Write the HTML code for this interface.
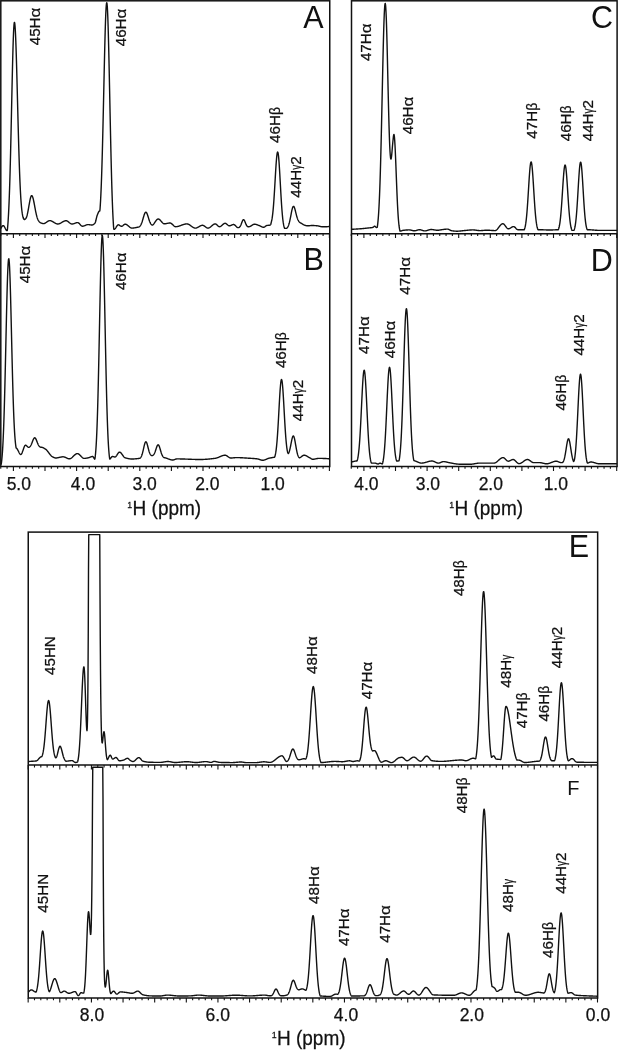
<!DOCTYPE html><html><head><meta charset="utf-8"><title>NMR spectra</title><style>html,body{margin:0;padding:0;background:#fff;width:618px;height:1050px;overflow:hidden}svg{display:block;filter:grayscale(1)}text{font-family:"Liberation Sans",sans-serif}</style></head><body><svg width="618" height="1050" viewBox="0 0 618 1050"><rect width="618" height="1050" fill="#fff"/><polyline points="0.80,228.60 1.05,228.06 1.30,227.56 1.55,227.12 1.80,226.73 2.05,226.39 2.30,226.11 2.55,225.89 2.80,225.73 3.05,225.63 3.30,225.60 3.55,225.67 3.80,225.86 4.05,226.16 4.30,226.54 4.55,226.99 4.80,227.48 5.05,228.00 5.30,228.51 5.55,229.02 5.80,229.48 6.05,229.90 6.30,230.23 6.55,230.47 6.80,230.59 7.05,230.58 7.30,230.41 7.55,228.08 7.80,225.27 8.05,221.94 8.30,218.06 8.55,213.62 8.80,208.58 9.05,202.93 9.30,196.59 9.55,189.51 9.80,181.68 10.05,173.11 10.30,163.83 10.55,153.90 10.80,143.39 11.05,132.40 11.30,121.06 11.55,109.51 11.80,97.93 12.05,86.51 12.30,75.43 12.55,64.91 12.80,55.15 13.05,46.36 13.30,38.71 13.55,32.37 13.80,27.49 14.05,24.18 14.30,22.50 14.55,22.44 14.80,23.72 15.05,26.29 15.30,30.09 15.55,35.06 15.80,41.09 16.05,48.07 16.30,55.87 16.55,64.36 16.80,73.39 17.05,82.82 17.30,92.49 17.55,102.28 17.80,112.05 18.05,121.67 18.30,131.04 18.55,140.07 18.80,148.67 19.05,156.80 19.30,164.39 19.55,171.41 19.80,177.86 20.05,183.73 20.30,189.01 20.55,193.74 20.80,197.92 21.05,201.60 21.30,204.81 21.55,207.59 21.80,209.97 22.05,212.00 22.30,213.71 22.55,215.14 22.80,216.33 23.05,217.32 23.30,218.10 23.55,218.66 23.80,219.08 24.05,219.37 24.30,219.54 24.55,219.60 24.80,219.48 25.05,219.22 25.30,218.98 25.55,218.74 25.80,218.47 26.05,218.13 26.30,217.69 26.55,217.12 26.80,216.40 27.05,215.49 27.30,214.47 27.55,213.34 27.80,212.14 28.05,210.85 28.30,209.50 28.55,208.10 28.80,206.66 29.05,205.22 29.30,203.79 29.55,202.40 29.80,201.08 30.05,199.84 30.30,198.72 30.55,197.75 30.80,196.93 31.05,196.30 31.30,195.86 31.55,195.64 31.80,195.62 32.05,195.79 32.30,196.15 32.55,196.68 32.80,197.37 33.05,198.22 33.30,199.20 33.55,200.30 33.80,201.49 34.05,202.76 34.30,204.08 34.55,205.43 34.80,206.80 35.05,208.15 35.30,209.49 35.55,210.78 35.80,212.03 36.05,213.20 36.30,214.31 36.55,215.34 36.80,216.29 37.05,217.16 37.30,217.95 37.55,218.65 37.80,219.28 38.05,219.84 38.30,220.32 38.55,220.75 38.80,221.12 39.05,221.43 39.30,221.72 39.55,221.97 39.80,222.20 40.05,222.41 40.30,222.60 40.55,222.78 40.80,222.94 41.05,223.03 41.30,223.11 41.55,223.20 41.80,223.28 42.05,223.36 42.30,223.43 42.55,223.49 42.80,223.54 43.05,223.57 43.30,223.59 43.55,223.60 43.80,223.58 44.05,223.54 44.30,223.47 44.55,223.38 44.80,223.27 45.05,223.14 45.30,223.01 45.55,222.85 45.80,222.69 46.05,222.52 46.30,222.35 46.55,222.17 46.80,221.99 47.05,221.82 47.30,221.64 47.55,221.47 47.80,221.32 48.05,221.17 48.30,221.03 48.55,220.91 48.80,220.80 49.05,220.72 49.30,220.65 49.55,220.61 49.80,220.60 50.05,220.61 50.30,220.64 50.55,220.68 50.80,220.75 51.05,220.82 51.30,220.91 51.55,221.02 51.80,221.13 52.05,221.26 52.30,221.39 52.55,221.53 52.80,221.68 53.05,221.83 53.30,221.98 53.55,222.14 53.80,222.30 54.05,222.46 54.30,222.62 54.55,222.77 54.80,222.92 55.05,223.07 55.30,223.21 55.55,223.34 55.80,223.47 56.05,223.58 56.30,223.69 56.55,223.78 56.80,223.85 57.05,223.92 57.30,223.96 57.55,223.99 57.80,224.00 58.05,223.99 58.30,223.96 58.55,223.92 58.80,223.86 59.05,223.79 59.30,223.71 59.55,223.61 59.80,223.51 60.05,223.39 60.30,223.27 60.55,223.14 60.80,223.00 61.05,222.86 61.30,222.71 61.55,222.56 61.80,222.41 62.05,222.26 62.30,222.11 62.55,221.96 62.80,221.82 63.05,221.67 63.30,221.54 63.55,221.41 63.80,221.29 64.05,221.17 64.30,221.07 64.55,220.97 64.80,220.89 65.05,220.82 65.30,220.77 65.55,220.73 65.80,220.71 66.05,220.70 66.30,220.72 66.55,220.78 66.80,220.86 67.05,220.97 67.30,221.10 67.55,221.25 67.80,221.41 68.05,221.59 68.30,221.78 68.55,221.98 68.80,222.19 69.05,222.39 69.30,222.60 69.55,222.80 69.80,222.99 70.05,223.18 70.30,223.36 70.55,223.51 70.80,223.66 71.05,223.78 71.30,223.88 71.55,223.95 71.80,223.99 72.05,224.00 72.30,223.99 72.55,223.96 72.80,223.92 73.05,223.87 73.30,223.81 73.55,223.74 73.80,223.66 74.05,223.57 74.30,223.49 74.55,223.39 74.80,223.30 75.05,223.21 75.30,223.11 75.55,223.03 75.80,222.94 76.05,222.86 76.30,222.79 76.55,222.73 76.80,222.68 77.05,222.64 77.30,222.61 77.55,222.60 77.80,222.62 78.05,222.69 78.30,222.80 78.55,222.95 78.80,223.14 79.05,223.36 79.30,223.60 79.55,223.86 79.80,224.13 80.05,224.40 80.30,224.67 80.55,224.94 80.80,225.20 81.05,225.44 81.30,225.66 81.55,225.85 81.80,226.00 82.05,226.11 82.30,226.18 82.55,226.20 82.80,226.19 83.05,226.16 83.30,226.11 83.55,226.05 83.80,225.97 84.05,225.89 84.30,225.80 84.55,225.70 84.80,225.59 85.05,225.49 85.30,225.38 85.55,225.27 85.80,225.16 86.05,225.06 86.30,224.96 86.55,224.87 86.80,224.80 87.05,224.73 87.30,224.67 87.55,224.63 87.80,224.61 88.05,224.60 88.30,224.61 88.55,224.62 88.80,224.64 89.05,224.67 89.30,224.70 89.55,224.73 89.80,224.77 90.05,224.81 90.30,224.84 90.55,224.88 90.80,224.91 91.05,224.94 91.30,224.97 91.55,224.99 91.80,225.00 92.05,225.00 92.30,224.98 92.55,224.92 92.80,224.83 93.05,224.71 93.30,224.57 93.55,224.40 93.80,224.20 94.05,223.99 94.30,223.75 94.55,223.50 94.80,223.23 95.05,222.94 95.30,222.44 95.55,221.71 95.80,220.80 96.05,219.77 96.30,218.68 96.55,217.60 96.80,216.58 97.05,215.70 97.30,215.00 97.55,214.41 97.80,213.80 98.05,213.21 98.30,212.65 98.55,212.14 98.80,211.69 99.05,211.34 99.30,211.11 99.55,211.00 99.80,211.01 100.05,208.82 100.30,205.14 100.55,200.92 100.80,196.10 101.05,190.65 101.30,184.54 101.55,177.75 101.80,170.25 102.05,162.06 102.30,153.19 102.55,143.69 102.80,133.61 103.05,123.03 103.30,112.05 103.55,100.80 103.80,89.40 104.05,78.02 104.30,66.82 104.55,55.98 104.80,45.69 105.05,36.12 105.30,27.46 105.55,19.88 105.80,13.53 106.05,8.54 106.30,5.03 106.55,3.06 106.80,2.70 107.05,3.95 107.30,6.80 107.55,11.20 107.80,17.07 108.05,24.29 108.30,32.73 108.55,42.24 108.80,52.64 109.05,63.76 109.30,75.40 109.55,87.39 109.80,99.53 110.05,111.67 110.30,123.65 110.55,135.32 110.80,146.56 111.05,157.27 111.30,167.37 111.55,176.81 111.80,185.53 112.05,193.52 112.30,200.78 112.55,207.30 112.80,213.12 113.05,218.26 113.30,222.79 113.55,226.75 113.80,229.16 114.05,229.28 114.30,229.29 114.55,229.21 114.80,229.04 115.05,228.80 115.30,228.50 115.55,228.16 115.80,227.78 116.05,227.38 116.30,226.97 116.55,226.56 116.80,226.17 117.05,225.80 117.30,225.47 117.55,225.20 117.80,224.98 118.05,224.85 118.30,224.80 118.55,224.83 118.80,224.90 119.05,225.01 119.30,225.15 119.55,225.31 119.80,225.48 120.05,225.66 120.30,225.83 120.55,225.98 120.80,226.12 121.05,226.22 121.30,226.28 121.55,226.30 121.80,226.26 122.05,226.17 122.30,226.05 122.55,225.89 122.80,225.70 123.05,225.50 123.30,225.29 123.55,225.08 123.80,224.87 124.05,224.68 124.30,224.51 124.55,224.37 124.80,224.27 125.05,224.21 125.30,224.20 125.55,224.23 125.80,224.29 126.05,224.37 126.30,224.47 126.55,224.60 126.80,224.75 127.05,224.91 127.30,225.09 127.55,225.28 127.80,225.47 128.05,225.68 128.30,225.89 128.55,226.11 128.80,226.32 129.05,226.53 129.30,226.74 129.55,226.95 129.80,227.14 130.05,227.32 130.30,227.49 130.55,227.64 130.80,227.78 131.05,227.89 131.30,227.98 131.55,228.05 131.80,228.09 132.05,228.10 132.30,228.10 132.55,228.09 132.80,228.07 133.05,228.05 133.30,228.03 133.55,228.00 133.80,227.97 134.05,227.93 134.30,227.89 134.55,227.85 134.80,227.81 135.05,227.76 135.30,227.71 135.55,227.66 135.80,227.61 136.05,227.56 136.30,227.51 136.55,227.45 136.80,227.40 137.05,227.35 137.30,227.30 137.55,227.25 137.80,227.20 138.05,227.15 138.30,227.11 138.55,227.07 138.80,227.03 139.05,226.93 139.30,226.76 139.55,226.55 139.80,226.32 140.05,226.04 140.30,225.72 140.55,225.35 140.80,224.93 141.05,224.45 141.30,223.91 141.55,223.31 141.80,222.66 142.05,221.95 142.30,221.18 142.55,220.38 142.80,219.54 143.05,218.68 143.30,217.81 143.55,216.94 143.80,216.10 144.05,215.31 144.30,214.56 144.55,213.90 144.80,213.33 145.05,212.86 145.30,212.51 145.55,212.29 145.80,212.20 146.05,212.24 146.30,212.42 146.55,212.72 146.80,213.14 147.05,213.67 147.30,214.28 147.55,214.98 147.80,215.72 148.05,216.51 148.30,217.32 148.55,218.14 148.80,218.95 149.05,219.73 149.30,220.47 149.55,221.17 149.80,221.82 150.05,222.41 150.30,222.94 150.55,223.40 150.80,223.81 151.05,224.15 151.30,224.44 151.55,224.68 151.80,224.87 152.05,225.01 152.30,225.09 152.55,225.08 152.80,224.96 153.05,224.74 153.30,224.48 153.55,224.19 153.80,223.88 154.05,223.54 154.30,223.19 154.55,222.83 154.80,222.46 155.05,222.09 155.30,221.72 155.55,221.35 155.80,221.00 156.05,220.66 156.30,220.34 156.55,220.04 156.80,219.77 157.05,219.54 157.30,219.34 157.55,219.18 157.80,219.07 158.05,219.01 158.30,219.00 158.55,219.05 158.80,219.13 159.05,219.25 159.30,219.41 159.55,219.60 159.80,219.82 160.05,220.06 160.30,220.31 160.55,220.59 160.80,220.87 161.05,221.16 161.30,221.46 161.55,221.75 161.80,222.04 162.05,222.32 162.30,222.59 162.55,222.84 162.80,223.07 163.05,223.28 163.30,223.46 163.55,223.60 163.80,223.71 164.05,223.78 164.30,223.80 164.55,223.80 164.80,223.78 165.05,223.76 165.30,223.73 165.55,223.70 165.80,223.66 166.05,223.62 166.30,223.57 166.55,223.52 166.80,223.47 167.05,223.42 167.30,223.37 167.55,223.32 167.80,223.27 168.05,223.22 168.30,223.17 168.55,223.13 168.80,223.09 169.05,223.06 169.30,223.03 169.55,223.01 169.80,223.00 170.05,223.00 170.30,223.03 170.55,223.10 170.80,223.20 171.05,223.34 171.30,223.51 171.55,223.69 171.80,223.90 172.05,224.12 172.30,224.36 172.55,224.60 172.80,224.85 173.05,225.10 173.30,225.34 173.55,225.58 173.80,225.80 174.05,226.01 174.30,226.19 174.55,226.36 174.80,226.50 175.05,226.60 175.30,226.67 175.55,226.70 175.80,226.70 176.05,226.69 176.30,226.67 176.55,226.64 176.80,226.61 177.05,226.57 177.30,226.53 177.55,226.48 177.80,226.42 178.05,226.36 178.30,226.30 178.55,226.23 178.80,226.15 179.05,226.08 179.30,226.00 179.55,225.91 179.80,225.83 180.05,225.74 180.30,225.65 180.55,225.56 180.80,225.47 181.05,225.37 181.30,225.28 181.55,225.19 181.80,225.10 182.05,225.00 182.30,224.91 182.55,224.83 182.80,224.74 183.05,224.65 183.30,224.57 183.55,224.49 183.80,224.42 184.05,224.34 184.30,224.28 184.55,224.21 184.80,224.15 185.05,224.10 185.30,224.05 185.55,224.01 185.80,223.97 186.05,223.95 186.30,223.92 186.55,223.91 186.80,223.90 187.05,223.90 187.30,223.93 187.55,223.97 187.80,224.03 188.05,224.11 188.30,224.20 188.55,224.31 188.80,224.44 189.05,224.57 189.30,224.72 189.55,224.87 189.80,225.03 190.05,225.20 190.30,225.38 190.55,225.56 190.80,225.74 191.05,225.93 191.30,226.11 191.55,226.30 191.80,226.48 192.05,226.66 192.30,226.83 192.55,227.00 192.80,227.16 193.05,227.31 193.30,227.46 193.55,227.59 193.80,227.71 194.05,227.82 194.30,227.91 194.55,227.98 194.80,228.04 195.05,228.08 195.30,228.10 195.55,228.10 195.80,228.07 196.05,228.03 196.30,227.98 196.55,227.90 196.80,227.82 197.05,227.72 197.30,227.61 197.55,227.49 197.80,227.36 198.05,227.22 198.30,227.08 198.55,226.94 198.80,226.79 199.05,226.64 199.30,226.49 199.55,226.35 199.80,226.21 200.05,226.07 200.30,225.94 200.55,225.82 200.80,225.70 201.05,225.60 201.30,225.51 201.55,225.44 201.80,225.38 202.05,225.33 202.30,225.31 202.55,225.30 202.80,225.32 203.05,225.38 203.30,225.46 203.55,225.57 203.80,225.70 204.05,225.84 204.30,226.00 204.55,226.18 204.80,226.36 205.05,226.55 205.30,226.74 205.55,226.93 205.80,227.11 206.05,227.29 206.30,227.46 206.55,227.62 206.80,227.76 207.05,227.88 207.30,227.98 207.55,228.05 207.80,228.09 208.05,228.10 208.30,228.08 208.55,228.03 208.80,227.96 209.05,227.86 209.30,227.74 209.55,227.60 209.80,227.44 210.05,227.27 210.30,227.09 210.55,226.89 210.80,226.69 211.05,226.48 211.30,226.26 211.55,226.04 211.80,225.83 212.05,225.61 212.30,225.40 212.55,225.19 212.80,224.99 213.05,224.80 213.30,224.62 213.55,224.46 213.80,224.31 214.05,224.19 214.30,224.08 214.55,224.00 214.80,223.94 215.05,223.91 215.30,223.90 215.55,223.95 215.80,224.05 216.05,224.18 216.30,224.36 216.55,224.55 216.80,224.77 217.05,225.01 217.30,225.25 217.55,225.49 217.80,225.73 218.05,225.96 218.30,226.17 218.55,226.35 218.80,226.50 219.05,226.61 219.30,226.68 219.55,226.70 219.80,226.67 220.05,226.61 220.30,226.51 220.55,226.39 220.80,226.24 221.05,226.06 221.30,225.87 221.55,225.67 221.80,225.45 222.05,225.23 222.30,225.00 222.55,224.77 222.80,224.55 223.05,224.33 223.30,224.13 223.55,223.94 223.80,223.76 224.05,223.61 224.30,223.49 224.55,223.39 224.80,223.33 225.05,223.30 225.30,223.32 225.55,223.38 225.80,223.48 226.05,223.61 226.30,223.78 226.55,223.96 226.80,224.16 227.05,224.38 227.30,224.59 227.55,224.81 227.80,225.02 228.05,225.22 228.30,225.39 228.55,225.55 228.80,225.67 229.05,225.75 229.30,225.80 229.55,225.80 229.80,225.77 230.05,225.72 230.30,225.65 230.55,225.56 230.80,225.46 231.05,225.36 231.30,225.24 231.55,225.13 231.80,225.01 232.05,224.90 232.30,224.80 232.55,224.70 232.80,224.62 233.05,224.56 233.30,224.52 233.55,224.50 233.80,224.52 234.05,224.59 234.30,224.72 234.55,224.89 234.80,225.09 235.05,225.32 235.30,225.57 235.55,225.83 235.80,226.10 236.05,226.37 236.30,226.63 236.55,226.88 236.80,227.10 237.05,227.28 237.30,227.44 237.55,227.54 237.80,227.60 238.05,227.60 238.30,227.60 238.55,227.60 238.80,227.57 239.05,227.45 239.30,227.30 239.55,227.10 239.80,226.84 240.05,226.53 240.30,226.15 240.55,225.70 240.80,225.18 241.05,224.59 241.30,223.96 241.55,223.29 241.80,222.60 242.05,221.92 242.30,221.28 242.55,220.71 242.80,220.24 243.05,219.88 243.30,219.67 243.55,219.60 243.80,219.69 244.05,219.92 244.30,220.28 244.55,220.76 244.80,221.32 245.05,221.94 245.30,222.58 245.55,223.23 245.80,223.84 246.05,224.42 246.30,224.94 246.55,225.39 246.80,225.78 247.05,226.09 247.30,226.34 247.55,226.53 247.80,226.68 248.05,226.78 248.30,226.83 248.55,226.79 248.80,226.76 249.05,226.72 249.30,226.68 249.55,226.62 249.80,226.54 250.05,226.44 250.30,226.32 250.55,226.18 250.80,226.04 251.05,225.88 251.30,225.72 251.55,225.55 251.80,225.38 252.05,225.22 252.30,225.06 252.55,224.90 252.80,224.75 253.05,224.62 253.30,224.50 253.55,224.39 253.80,224.31 254.05,224.25 254.30,224.21 254.55,224.20 254.80,224.21 255.05,224.23 255.30,224.27 255.55,224.32 255.80,224.37 256.05,224.44 256.30,224.51 256.55,224.59 256.80,224.68 257.05,224.77 257.30,224.86 257.55,224.96 257.80,225.06 258.05,225.15 258.30,225.25 258.55,225.34 258.80,225.43 259.05,225.52 259.30,225.61 259.55,225.71 259.80,225.83 260.05,225.95 260.30,226.07 260.55,226.20 260.80,226.33 261.05,226.46 261.30,226.59 261.55,226.71 261.80,226.83 262.05,226.94 262.30,227.04 262.55,227.12 262.80,227.19 263.05,227.25 263.30,227.28 263.55,227.30 263.80,227.28 264.05,227.21 264.30,227.10 264.55,226.96 264.80,226.79 265.05,226.60 265.30,226.40 265.55,226.20 265.80,226.01 266.05,225.84 266.30,225.69 266.55,225.57 266.80,225.50 267.05,225.46 267.30,225.42 267.55,225.39 267.80,225.37 268.05,225.35 268.30,225.33 268.55,225.31 268.80,225.29 269.05,225.27 269.30,225.24 269.55,225.21 269.80,225.17 270.05,225.11 270.30,224.98 270.55,224.66 270.80,224.26 271.05,223.26 271.30,222.19 271.55,221.15 271.80,220.00 272.05,218.64 272.30,217.05 272.55,215.19 272.80,213.05 273.05,210.62 273.30,207.88 273.55,204.85 273.80,201.51 274.05,197.90 274.30,194.04 274.55,189.97 274.80,185.76 275.05,181.46 275.30,177.14 275.55,172.90 275.80,168.82 276.05,165.00 276.30,161.52 276.55,158.48 276.80,155.94 277.05,153.99 277.30,152.68 277.55,152.05 277.80,152.11 278.05,152.87 278.30,154.31 278.55,156.40 278.80,159.08 279.05,162.29 279.30,165.94 279.55,169.95 279.80,174.23 280.05,178.69 280.30,183.22 280.55,187.76 280.80,192.21 281.05,196.52 281.30,200.62 281.55,204.47 281.80,208.04 282.05,211.30 282.30,214.25 282.55,216.88 282.80,219.20 283.05,221.22 283.30,222.96 283.55,224.44 283.80,225.69 284.05,226.73 284.30,227.59 284.55,228.28 284.80,228.39 285.05,228.40 285.30,228.40 285.55,228.39 285.80,228.36 286.05,228.32 286.30,228.28 286.55,228.22 286.80,228.14 287.05,228.00 287.30,227.72 287.55,227.38 287.80,226.99 288.05,226.52 288.30,225.98 288.55,225.35 288.80,224.64 289.05,223.83 289.30,222.93 289.55,221.94 289.80,220.86 290.05,219.69 290.30,218.46 290.55,217.17 290.80,215.85 291.05,214.52 291.30,213.20 291.55,211.92 291.80,210.72 292.05,209.61 292.30,208.63 292.55,207.80 292.80,207.14 293.05,206.67 293.30,206.40 293.55,206.33 293.80,206.46 294.05,206.77 294.30,207.26 294.55,207.91 294.80,208.69 295.05,209.58 295.30,210.54 295.55,211.55 295.80,212.59 296.05,213.62 296.30,214.63 296.55,215.60 296.80,216.51 297.05,217.36 297.30,218.13 297.55,218.82 297.80,219.44 298.05,219.99 298.30,220.46 298.55,220.88 298.80,221.25 299.05,221.60 299.30,221.93 299.55,222.23 299.80,222.43 300.05,222.58 300.30,222.73 300.55,222.89 300.80,223.04 301.05,223.17 301.30,223.31 301.55,223.45 301.80,223.60 302.05,223.77 302.30,223.93 302.55,224.10 302.80,224.26 303.05,224.42 303.30,224.58 303.55,224.72 303.80,224.85 304.05,224.97 304.30,225.07 304.55,225.15 304.80,225.23 305.05,225.31 305.30,225.38 305.55,225.46 305.80,225.52 306.05,225.59 306.30,225.65 306.55,225.70 306.80,225.74 307.05,225.77 307.30,225.79 307.55,225.80 307.80,225.80 308.05,225.79 308.30,225.78 308.55,225.77 308.80,225.75 309.05,225.73 309.30,225.70 309.55,225.68 309.80,225.65 310.05,225.63 310.30,225.61 310.55,225.58 310.80,225.56 311.05,225.54 311.30,225.53 311.55,225.51 311.80,225.50 312.05,225.50 312.30,225.50 312.55,225.50 312.80,225.51 313.05,225.51 313.30,225.52 313.55,225.53 313.80,225.54 314.05,225.55 314.30,225.57 314.55,225.58 314.80,225.60 315.05,225.62 315.30,225.63 315.55,225.65 315.80,225.67 316.05,225.69 316.30,225.71 316.55,225.73 316.80,225.76 317.05,225.78 317.30,225.80 317.55,225.83 317.80,225.86 318.05,225.91 318.30,225.95 318.55,226.01 318.80,226.07 319.05,226.13 319.30,226.20 319.55,226.26 319.80,226.33 320.05,226.40 320.30,226.46 320.55,226.52 320.80,226.58 321.05,226.64 321.30,226.68 321.55,226.72 321.80,226.76 322.05,226.78 322.30,226.80 322.55,226.80 322.80,226.80 323.05,226.80 323.30,226.80 323.55,226.80 323.80,226.80 324.05,226.80 324.30,226.79 324.55,226.79 324.80,226.79 325.05,226.78 325.30,226.78 325.55,226.77 325.80,226.76 326.05,226.75 326.30,226.74 326.55,226.73 326.80,226.71 327.05,226.69 327.30,226.68 327.55,226.66 327.80,226.63 328.05,226.61 328.30,226.58 328.55,226.55 328.80,226.52 329.05,226.49 329.30,226.45 329.55,226.41 329.75,226.37" fill="none" stroke="#111" stroke-width="1.4" stroke-linejoin="round"/><polyline points="0.80,464.50 1.05,464.18 1.30,463.78 1.55,461.86 1.80,459.62 2.05,456.99 2.30,453.92 2.55,450.34 2.80,446.21 3.05,441.47 3.30,436.08 3.55,430.01 3.80,423.24 4.05,415.74 4.30,407.53 4.55,398.64 4.80,389.10 5.05,379.00 5.30,368.41 5.55,357.46 5.80,346.28 6.05,335.04 6.30,323.90 6.55,313.06 6.80,302.71 7.05,293.05 7.30,284.27 7.55,276.55 7.80,270.06 8.05,264.93 8.30,261.28 8.55,259.19 8.80,258.70 9.05,259.80 9.30,262.48 9.55,266.65 9.80,272.22 10.05,279.05 10.30,286.98 10.55,295.84 10.80,305.42 11.05,315.55 11.30,326.02 11.55,336.64 11.80,347.24 12.05,357.66 12.30,367.75 12.55,377.40 12.80,386.50 13.05,394.99 13.30,402.82 13.55,409.96 13.80,416.39 14.05,422.13 14.30,427.21 14.55,431.64 14.80,435.49 15.05,438.79 15.30,441.60 15.55,443.97 15.80,445.96 16.05,447.62 16.30,448.07 16.55,448.24 16.80,448.48 17.05,448.80 17.30,449.17 17.55,449.60 17.80,450.06 18.05,450.54 18.30,451.05 18.55,451.55 18.80,452.05 19.05,452.54 19.30,452.99 19.55,453.41 19.80,453.77 20.05,454.07 20.30,454.30 20.55,454.45 20.80,454.50 21.05,454.42 21.30,454.21 21.55,453.87 21.80,453.42 22.05,452.88 22.30,452.26 22.55,451.59 22.80,450.88 23.05,450.15 23.30,449.41 23.55,448.67 23.80,447.97 24.05,447.31 24.30,446.71 24.55,446.19 24.80,445.76 25.05,445.44 25.30,445.25 25.55,445.20 25.80,445.25 26.05,445.35 26.30,445.51 26.55,445.70 26.80,445.92 27.05,446.15 27.30,446.40 27.55,446.64 27.80,446.87 28.05,447.08 28.30,447.26 28.55,447.40 28.80,447.41 29.05,447.31 29.30,447.17 29.55,446.99 29.80,446.77 30.05,446.51 30.30,446.20 30.55,445.84 30.80,445.43 31.05,444.97 31.30,444.46 31.55,443.90 31.80,443.30 32.05,442.66 32.30,442.01 32.55,441.36 32.80,440.71 33.05,440.09 33.30,439.51 33.55,438.99 33.80,438.55 34.05,438.20 34.30,437.96 34.55,437.82 34.80,437.81 35.05,437.91 35.30,438.12 35.55,438.43 35.80,438.84 36.05,439.34 36.30,439.89 36.55,440.50 36.80,441.13 37.05,441.77 37.30,442.42 37.55,443.05 37.80,443.64 38.05,444.20 38.30,444.72 38.55,445.18 38.80,445.60 39.05,445.96 39.30,446.27 39.55,446.54 39.80,446.76 40.05,446.94 40.30,447.09 40.55,447.21 40.80,447.30 41.05,447.30 41.30,447.30 41.55,447.30 41.80,447.32 42.05,447.36 42.30,447.41 42.55,447.49 42.80,447.58 43.05,447.69 43.30,447.81 43.55,447.94 43.80,448.08 44.05,448.23 44.30,448.38 44.55,448.53 44.80,448.69 45.05,448.85 45.30,449.00 45.55,449.16 45.80,449.35 46.05,449.57 46.30,449.80 46.55,450.05 46.80,450.32 47.05,450.60 47.30,450.89 47.55,451.20 47.80,451.52 48.05,451.84 48.30,452.17 48.55,452.50 48.80,452.84 49.05,453.18 49.30,453.51 49.55,453.84 49.80,454.16 50.05,454.48 50.30,454.79 50.55,455.08 50.80,455.37 51.05,455.63 51.30,455.89 51.55,456.12 51.80,456.33 52.05,456.52 52.30,456.69 52.55,456.83 52.80,456.96 53.05,457.09 53.30,457.22 53.55,457.35 53.80,457.47 54.05,457.59 54.30,457.69 54.55,457.79 54.80,457.86 55.05,457.93 55.30,457.97 55.55,458.00 55.80,458.00 56.05,457.99 56.30,457.98 56.55,457.96 56.80,457.93 57.05,457.89 57.30,457.86 57.55,457.81 57.80,457.76 58.05,457.71 58.30,457.66 58.55,457.60 58.80,457.54 59.05,457.48 59.30,457.42 59.55,457.36 59.80,457.30 60.05,457.24 60.30,457.19 60.55,457.13 60.80,457.08 61.05,457.03 61.30,456.98 61.55,456.94 61.80,456.90 62.05,456.87 62.30,456.84 62.55,456.82 62.80,456.81 63.05,456.80 63.30,456.81 63.55,456.83 63.80,456.87 64.05,456.92 64.30,456.99 64.55,457.07 64.80,457.16 65.05,457.26 65.30,457.36 65.55,457.47 65.80,457.59 66.05,457.70 66.30,457.82 66.55,457.94 66.80,458.06 67.05,458.17 67.30,458.28 67.55,458.38 67.80,458.48 68.05,458.56 68.30,458.64 68.55,458.70 68.80,458.75 69.05,458.78 69.30,458.80 69.55,458.79 69.80,458.76 70.05,458.70 70.30,458.62 70.55,458.51 70.80,458.38 71.05,458.23 71.30,458.06 71.55,457.88 71.80,457.68 72.05,457.47 72.30,457.25 72.55,457.02 72.80,456.78 73.05,456.54 73.30,456.30 73.55,456.05 73.80,455.81 74.05,455.57 74.30,455.34 74.55,455.11 74.80,454.89 75.05,454.68 75.30,454.49 75.55,454.31 75.80,454.14 76.05,453.99 76.30,453.87 76.55,453.76 76.80,453.68 77.05,453.63 77.30,453.60 77.55,453.61 77.80,453.65 78.05,453.73 78.30,453.84 78.55,453.98 78.80,454.14 79.05,454.33 79.30,454.54 79.55,454.77 79.80,455.01 80.05,455.26 80.30,455.52 80.55,455.79 80.80,456.05 81.05,456.32 81.30,456.59 81.55,456.84 81.80,457.09 82.05,457.33 82.30,457.55 82.55,457.75 82.80,457.93 83.05,458.08 83.30,458.21 83.55,458.31 83.80,458.37 84.05,458.40 84.30,458.40 84.55,458.39 84.80,458.37 85.05,458.35 85.30,458.33 85.55,458.30 85.80,458.26 86.05,458.23 86.30,458.18 86.55,458.14 86.80,458.10 87.05,458.05 87.30,458.00 87.55,457.95 87.80,457.90 88.05,457.85 88.30,457.80 88.55,457.74 88.80,457.68 89.05,457.60 89.30,457.51 89.55,457.41 89.80,457.31 90.05,457.21 90.30,457.11 90.55,457.01 90.80,456.91 91.05,456.82 91.30,456.73 91.55,456.66 91.80,456.59 92.05,456.55 92.30,456.51 92.55,456.50 92.80,456.55 93.05,456.75 93.30,457.06 93.55,457.43 93.80,457.85 94.05,458.27 94.30,458.64 94.55,458.95 94.80,459.15 95.05,458.05 95.30,455.99 95.55,453.50 95.80,450.53 96.05,447.02 96.30,442.90 96.55,438.12 96.80,432.62 97.05,426.35 97.30,419.30 97.55,411.42 97.80,402.73 98.05,393.24 98.30,382.99 98.55,372.06 98.80,360.53 99.05,348.54 99.30,336.22 99.55,323.74 99.80,311.31 100.05,299.13 100.30,287.43 100.55,276.42 100.80,266.33 101.05,257.37 101.30,249.75 101.55,243.63 101.80,239.15 102.05,236.42 102.30,235.50 102.55,236.42 102.80,239.15 103.05,243.63 103.30,249.75 103.55,257.37 103.80,266.33 104.05,276.42 104.30,287.43 104.55,299.13 104.80,311.31 105.05,323.74 105.30,336.22 105.55,348.54 105.80,360.53 106.05,372.06 106.30,382.99 106.55,393.24 106.80,402.73 107.05,411.42 107.30,419.30 107.55,426.35 107.80,432.62 108.05,438.12 108.30,442.90 108.55,447.02 108.80,450.53 109.05,453.50 109.30,455.99 109.55,458.03 109.80,459.08 110.05,458.89 110.30,458.65 110.55,458.36 110.80,458.05 111.05,457.72 111.30,457.40 111.55,457.11 111.80,456.85 112.05,456.65 112.30,456.53 112.55,456.50 112.80,456.52 113.05,456.56 113.30,456.62 113.55,456.69 113.80,456.76 114.05,456.84 114.30,456.90 114.55,456.96 114.80,456.99 115.05,457.00 115.30,456.94 115.55,456.80 115.80,456.59 116.05,456.32 116.30,456.01 116.55,455.66 116.80,455.28 117.05,454.88 117.30,454.47 117.55,454.06 117.80,453.67 118.05,453.30 118.30,452.96 118.55,452.66 118.80,452.42 119.05,452.24 119.30,452.13 119.55,452.10 119.80,452.14 120.05,452.23 120.30,452.38 120.55,452.56 120.80,452.78 121.05,453.04 121.30,453.33 121.55,453.64 121.80,453.97 122.05,454.31 122.30,454.66 122.55,455.02 122.80,455.37 123.05,455.72 123.30,456.06 123.55,456.39 123.80,456.69 124.05,456.97 124.30,457.22 124.55,457.44 124.80,457.61 125.05,457.74 125.30,457.83 125.55,457.91 125.80,457.98 126.05,458.05 126.30,458.12 126.55,458.19 126.80,458.25 127.05,458.32 127.30,458.38 127.55,458.44 127.80,458.50 128.05,458.55 128.30,458.60 128.55,458.65 128.80,458.70 129.05,458.74 129.30,458.78 129.55,458.82 129.80,458.85 130.05,458.88 130.30,458.91 130.55,458.93 130.80,458.95 131.05,458.97 131.30,458.98 131.55,458.99 131.80,459.00 132.05,459.00 132.30,459.00 132.55,458.99 132.80,458.99 133.05,458.98 133.30,458.97 133.55,458.96 133.80,458.94 134.05,458.93 134.30,458.91 134.55,458.89 134.80,458.87 135.05,458.85 135.30,458.83 135.55,458.80 135.80,458.78 136.05,458.76 136.30,458.73 136.55,458.71 136.80,458.68 137.05,458.66 137.30,458.63 137.55,458.60 137.80,458.58 138.05,458.55 138.30,458.52 138.55,458.48 138.80,458.44 139.05,458.40 139.30,458.35 139.55,458.31 139.80,458.26 140.05,458.16 140.30,457.94 140.55,457.66 140.80,457.34 141.05,456.94 141.30,456.48 141.55,455.94 141.80,455.31 142.05,454.59 142.30,453.79 142.55,452.89 142.80,451.92 143.05,450.89 143.30,449.80 143.55,448.68 143.80,447.55 144.05,446.45 144.30,445.40 144.55,444.44 144.80,443.58 145.05,442.87 145.30,442.33 145.55,441.97 145.80,441.80 146.05,441.83 146.30,442.06 146.55,442.46 146.80,443.04 147.05,443.75 147.30,444.59 147.55,445.50 147.80,446.48 148.05,447.47 148.30,448.47 148.55,449.44 148.80,450.35 149.05,451.21 149.30,451.99 149.55,452.69 149.80,453.30 150.05,453.83 150.30,454.28 150.55,454.65 150.80,454.96 151.05,455.21 151.30,455.41 151.55,455.57 151.80,455.60 152.05,455.60 152.30,455.60 152.55,455.52 152.80,455.38 153.05,455.21 153.30,455.00 153.55,454.73 153.80,454.42 154.05,454.04 154.30,453.60 154.55,453.09 154.80,452.52 155.05,451.89 155.30,451.20 155.55,450.47 155.80,449.70 156.05,448.92 156.30,448.15 156.55,447.41 156.80,446.72 157.05,446.10 157.30,445.58 157.55,445.18 157.80,444.92 158.05,444.80 158.30,444.83 158.55,445.02 158.80,445.35 159.05,445.82 159.30,446.42 159.55,447.11 159.80,447.88 160.05,448.71 160.30,449.57 160.55,450.44 160.80,451.30 161.05,452.13 161.30,452.92 161.55,453.65 161.80,454.32 162.05,454.92 162.30,455.45 162.55,455.92 162.80,456.32 163.05,456.67 163.30,456.97 163.55,457.21 163.80,457.42 164.05,457.59 164.30,457.64 164.55,457.70 164.80,457.76 165.05,457.81 165.30,457.87 165.55,457.94 165.80,458.01 166.05,458.08 166.30,458.16 166.55,458.25 166.80,458.34 167.05,458.43 167.30,458.52 167.55,458.61 167.80,458.71 168.05,458.80 168.30,458.90 168.55,459.00 168.80,459.09 169.05,459.18 169.30,459.27 169.55,459.36 169.80,459.45 170.05,459.53 170.30,459.60 170.55,459.68 170.80,459.74 171.05,459.80 171.30,459.85 171.55,459.90 171.80,459.94 172.05,459.97 172.30,459.99 172.55,460.00 172.80,460.00 173.05,459.98 173.30,459.94 173.55,459.89 173.80,459.82 174.05,459.74 174.30,459.66 174.55,459.56 174.80,459.47 175.05,459.37 175.30,459.28 175.55,459.19 175.80,459.11 176.05,459.04 176.30,458.98 176.55,458.93 176.80,458.91 177.05,458.90 177.30,458.90 177.55,458.90 177.80,458.90 178.05,458.90 178.30,458.91 178.55,458.91 178.80,458.91 179.05,458.91 179.30,458.92 179.55,458.92 179.80,458.92 180.05,458.93 180.30,458.93 180.55,458.94 180.80,458.94 181.05,458.95 181.30,458.96 181.55,458.96 181.80,458.97 182.05,458.97 182.30,458.98 182.55,458.99 182.80,459.00 183.05,459.00 183.30,459.01 183.55,459.02 183.80,459.03 184.05,459.03 184.30,459.04 184.55,459.05 184.80,459.06 185.05,459.07 185.30,459.08 185.55,459.09 185.80,459.10 186.05,459.11 186.30,459.11 186.55,459.12 186.80,459.13 187.05,459.14 187.30,459.15 187.55,459.16 187.80,459.17 188.05,459.18 188.30,459.19 188.55,459.20 188.80,459.21 189.05,459.22 189.30,459.23 189.55,459.24 189.80,459.25 190.05,459.26 190.30,459.27 190.55,459.28 190.80,459.29 191.05,459.30 191.30,459.31 191.55,459.32 191.80,459.33 192.05,459.33 192.30,459.34 192.55,459.35 192.80,459.36 193.05,459.37 193.30,459.38 193.55,459.38 193.80,459.39 194.05,459.40 194.30,459.41 194.55,459.41 194.80,459.42 195.05,459.43 195.30,459.44 195.55,459.44 195.80,459.45 196.05,459.45 196.30,459.46 196.55,459.46 196.80,459.47 197.05,459.47 197.30,459.48 197.55,459.48 197.80,459.48 198.05,459.49 198.30,459.49 198.55,459.49 198.80,459.50 199.05,459.50 199.30,459.50 199.55,459.50 199.80,459.50 200.05,459.50 200.30,459.50 200.55,459.50 200.80,459.50 201.05,459.49 201.30,459.49 201.55,459.48 201.80,459.48 202.05,459.47 202.30,459.46 202.55,459.46 202.80,459.45 203.05,459.44 203.30,459.43 203.55,459.42 203.80,459.41 204.05,459.39 204.30,459.38 204.55,459.37 204.80,459.35 205.05,459.34 205.30,459.32 205.55,459.31 205.80,459.29 206.05,459.27 206.30,459.25 206.55,459.23 206.80,459.22 207.05,459.20 207.30,459.18 207.55,459.15 207.80,459.13 208.05,459.11 208.30,459.09 208.55,459.07 208.80,459.04 209.05,459.02 209.30,458.99 209.55,458.97 209.80,458.94 210.05,458.92 210.30,458.89 210.55,458.86 210.80,458.84 211.05,458.81 211.30,458.78 211.55,458.75 211.80,458.72 212.05,458.69 212.30,458.66 212.55,458.63 212.80,458.60 213.05,458.57 213.30,458.54 213.55,458.51 213.80,458.48 214.05,458.45 214.30,458.42 214.55,458.38 214.80,458.35 215.05,458.32 215.30,458.29 215.55,458.25 215.80,458.20 216.05,458.14 216.30,458.08 216.55,458.01 216.80,457.94 217.05,457.85 217.30,457.77 217.55,457.68 217.80,457.58 218.05,457.49 218.30,457.39 218.55,457.28 218.80,457.18 219.05,457.07 219.30,456.96 219.55,456.85 219.80,456.74 220.05,456.63 220.30,456.52 220.55,456.41 220.80,456.31 221.05,456.20 221.30,456.10 221.55,456.00 221.80,455.91 222.05,455.82 222.30,455.73 222.55,455.65 222.80,455.57 223.05,455.50 223.30,455.43 223.55,455.38 223.80,455.33 224.05,455.28 224.30,455.25 224.55,455.22 224.80,455.21 225.05,455.20 225.30,455.21 225.55,455.25 225.80,455.32 226.05,455.41 226.30,455.52 226.55,455.65 226.80,455.80 227.05,455.96 227.30,456.13 227.55,456.31 227.80,456.49 228.05,456.67 228.30,456.86 228.55,457.04 228.80,457.21 229.05,457.37 229.30,457.52 229.55,457.66 229.80,457.77 230.05,457.87 230.30,457.94 230.55,457.98 230.80,458.00 231.05,458.00 231.30,457.99 231.55,457.98 231.80,457.97 232.05,457.95 232.30,457.93 232.55,457.91 232.80,457.89 233.05,457.86 233.30,457.84 233.55,457.81 233.80,457.78 234.05,457.76 234.30,457.73 234.55,457.71 234.80,457.69 235.05,457.66 235.30,457.65 235.55,457.63 235.80,457.62 236.05,457.61 236.30,457.60 236.55,457.60 236.80,457.60 237.05,457.60 237.30,457.60 237.55,457.61 237.80,457.61 238.05,457.62 238.30,457.62 238.55,457.63 238.80,457.63 239.05,457.64 239.30,457.65 239.55,457.66 239.80,457.67 240.05,457.68 240.30,457.69 240.55,457.70 240.80,457.71 241.05,457.72 241.30,457.74 241.55,457.75 241.80,457.76 242.05,457.77 242.30,457.79 242.55,457.80 242.80,457.82 243.05,457.83 243.30,457.85 243.55,457.86 243.80,457.88 244.05,457.90 244.30,457.91 244.55,457.93 244.80,457.94 245.05,457.96 245.30,457.98 245.55,457.99 245.80,458.01 246.05,458.03 246.30,458.04 246.55,458.06 246.80,458.08 247.05,458.09 247.30,458.11 247.55,458.13 247.80,458.14 248.05,458.16 248.30,458.18 248.55,458.19 248.80,458.21 249.05,458.22 249.30,458.24 249.55,458.25 249.80,458.27 250.05,458.28 250.30,458.30 250.55,458.31 250.80,458.33 251.05,458.34 251.30,458.36 251.55,458.37 251.80,458.39 252.05,458.40 252.30,458.42 252.55,458.44 252.80,458.45 253.05,458.47 253.30,458.49 253.55,458.51 253.80,458.53 254.05,458.55 254.30,458.57 254.55,458.59 254.80,458.61 255.05,458.63 255.30,458.66 255.55,458.68 255.80,458.70 256.05,458.73 256.30,458.76 256.55,458.78 256.80,458.81 257.05,458.84 257.30,458.87 257.55,458.91 257.80,458.95 258.05,459.00 258.30,459.07 258.55,459.14 258.80,459.22 259.05,459.31 259.30,459.40 259.55,459.49 259.80,459.59 260.05,459.68 260.30,459.78 260.55,459.87 260.80,459.95 261.05,460.03 261.30,460.11 261.55,460.17 261.80,460.22 262.05,460.26 262.30,460.29 262.55,460.30 262.80,460.30 263.05,460.28 263.30,460.25 263.55,460.21 263.80,460.15 264.05,460.09 264.30,460.02 264.55,459.94 264.80,459.85 265.05,459.76 265.30,459.66 265.55,459.56 265.80,459.46 266.05,459.35 266.30,459.24 266.55,459.13 266.80,459.02 267.05,458.91 267.30,458.81 267.55,458.71 267.80,458.61 268.05,458.52 268.30,458.43 268.55,458.35 268.80,458.28 269.05,458.21 269.30,458.16 269.55,458.10 269.80,458.05 270.05,458.00 270.30,457.95 270.55,457.90 270.80,457.86 271.05,457.81 271.30,457.77 271.55,457.73 271.80,457.69 272.05,457.64 272.30,457.60 272.55,457.56 272.80,457.52 273.05,457.48 273.30,457.43 273.55,457.39 273.80,457.35 274.05,457.30 274.30,457.25 274.55,457.21 274.80,456.68 275.05,455.84 275.30,454.84 275.55,453.63 275.80,452.21 276.05,450.53 276.30,448.57 276.55,446.32 276.80,443.76 277.05,440.88 277.30,437.67 277.55,434.15 277.80,430.33 278.05,426.24 278.30,421.92 278.55,417.43 278.80,412.82 279.05,408.19 279.30,403.61 279.55,399.17 279.80,394.97 280.05,391.11 280.30,387.68 280.55,384.77 280.80,382.44 281.05,380.76 281.30,379.77 281.55,379.50 281.80,379.96 282.05,381.14 282.30,382.98 282.55,385.46 282.80,388.50 283.05,392.02 283.30,395.93 283.55,400.14 283.80,404.55 284.05,409.08 284.30,413.62 284.55,418.10 284.80,422.44 285.05,426.59 285.30,430.50 285.55,434.12 285.80,437.44 286.05,440.44 286.30,443.12 286.55,445.49 286.80,447.55 287.05,449.33 287.30,450.84 287.55,451.92 287.80,452.73 288.05,453.29 288.30,453.62 288.55,453.37 288.80,452.82 289.05,452.18 289.30,451.44 289.55,450.59 289.80,449.64 290.05,448.60 290.30,447.46 290.55,446.25 290.80,444.98 291.05,443.68 291.30,442.38 291.55,441.11 291.80,439.90 292.05,438.80 292.30,437.84 292.55,437.05 292.80,436.47 293.05,436.10 293.30,435.98 293.55,436.10 293.80,436.48 294.05,437.08 294.30,437.91 294.55,438.92 294.80,440.10 295.05,441.41 295.30,442.81 295.55,444.26 295.80,445.73 296.05,447.18 296.30,448.59 296.55,449.93 296.80,451.17 297.05,452.32 297.30,453.35 297.55,454.26 297.80,455.06 298.05,455.75 298.30,456.32 298.55,456.80 298.80,457.19 299.05,457.50 299.30,457.72 299.55,457.81 299.80,457.72 300.05,457.60 300.30,457.46 300.55,457.30 300.80,457.13 301.05,456.94 301.30,456.75 301.55,456.55 301.80,456.35 302.05,456.16 302.30,455.97 302.55,455.80 302.80,455.64 303.05,455.50 303.30,455.38 303.55,455.29 303.80,455.23 304.05,455.20 304.30,455.21 304.55,455.23 304.80,455.27 305.05,455.33 305.30,455.41 305.55,455.49 305.80,455.59 306.05,455.70 306.30,455.82 306.55,455.95 306.80,456.09 307.05,456.23 307.30,456.38 307.55,456.53 307.80,456.69 308.05,456.84 308.30,457.00 308.55,457.15 308.80,457.30 309.05,457.45 309.30,457.59 309.55,457.72 309.80,457.85 310.05,457.97 310.30,458.11 310.55,458.27 310.80,458.42 311.05,458.58 311.30,458.74 311.55,458.89 311.80,459.02 312.05,459.14 312.30,459.22 312.55,459.28 312.80,459.30 313.05,459.30 313.30,459.28 313.55,459.26 313.80,459.23 314.05,459.19 314.30,459.15 314.55,459.10 314.80,459.05 315.05,459.00 315.30,458.94 315.55,458.88 315.80,458.83 316.05,458.77 316.30,458.71 316.55,458.66 316.80,458.61 317.05,458.56 317.30,458.52 317.55,458.48 317.80,458.45 318.05,458.42 318.30,458.41 318.55,458.40 318.80,458.40 319.05,458.40 319.30,458.40 319.55,458.40 319.80,458.40 320.05,458.40 320.30,458.40 320.55,458.40 320.80,458.40 321.05,458.41 321.30,458.41 321.55,458.41 321.80,458.41 322.05,458.42 322.30,458.42 322.55,458.42 322.80,458.43 323.05,458.43 323.30,458.44 323.55,458.45 323.80,458.45 324.05,458.46 324.30,458.47 324.55,458.48 324.80,458.49 325.05,458.50 325.30,458.51 325.55,458.53 325.80,458.54 326.05,458.56 326.30,458.57 326.55,458.59 326.80,458.61 327.05,458.63 327.30,458.65 327.55,458.67 327.80,458.69 328.05,458.72 328.30,458.74 328.55,458.77 328.80,458.80 329.05,458.83 329.30,458.86 329.55,458.89 329.75,458.92" fill="none" stroke="#111" stroke-width="1.4" stroke-linejoin="round"/><polyline points="351.50,229.28 351.75,229.27 352.00,229.26 352.25,229.25 352.50,229.24 352.75,229.23 353.00,229.22 353.25,229.21 353.50,229.20 353.75,229.19 354.00,229.18 354.25,229.16 354.50,229.15 354.75,229.14 355.00,229.12 355.25,229.11 355.50,229.09 355.75,229.08 356.00,229.07 356.25,229.05 356.50,229.04 356.75,229.02 357.00,229.00 357.25,228.99 357.50,228.97 357.75,228.96 358.00,228.94 358.25,228.92 358.50,228.91 358.75,228.89 359.00,228.87 359.25,228.85 359.50,228.84 359.75,228.82 360.00,228.80 360.25,228.78 360.50,228.76 360.75,228.74 361.00,228.72 361.25,228.70 361.50,228.68 361.75,228.66 362.00,228.64 362.25,228.61 362.50,228.59 362.75,228.57 363.00,228.54 363.25,228.52 363.50,228.49 363.75,228.47 364.00,228.44 364.25,228.41 364.50,228.39 364.75,228.36 365.00,228.33 365.25,228.31 365.50,228.28 365.75,228.25 366.00,228.22 366.25,228.20 366.50,228.17 366.75,228.14 367.00,228.11 367.25,228.08 367.50,228.06 367.75,228.03 368.00,228.00 368.25,227.97 368.50,227.95 368.75,227.92 369.00,227.90 369.25,227.88 369.50,227.86 369.75,227.84 370.00,227.82 370.25,227.79 370.50,227.77 370.75,227.74 371.00,227.72 371.25,227.69 371.50,227.65 371.75,227.62 372.00,227.58 372.25,227.53 372.50,227.49 372.75,227.43 373.00,227.37 373.25,227.23 373.50,227.03 373.75,226.80 374.00,226.56 374.25,226.37 374.50,226.24 374.75,226.20 375.00,226.30 375.25,226.49 375.50,226.74 375.75,227.01 376.00,227.25 376.25,227.43 376.50,227.50 376.75,227.48 377.00,227.42 377.25,227.35 377.50,225.63 377.75,223.56 378.00,221.15 378.25,218.32 378.50,215.02 378.75,211.20 379.00,206.79 379.25,201.77 379.50,196.10 379.75,189.73 380.00,182.66 380.25,174.87 380.50,166.38 380.75,157.20 381.00,147.39 381.25,137.00 381.50,126.12 381.75,114.84 382.00,103.31 382.25,91.65 382.50,80.03 382.75,68.61 383.00,57.58 383.25,47.12 383.50,37.42 383.75,28.64 384.00,20.96 384.25,14.53 384.50,9.47 384.75,5.89 385.00,3.87 385.25,3.44 385.50,4.62 385.75,7.38 386.00,11.67 386.25,17.40 386.50,24.46 386.75,32.70 387.00,41.98 387.25,52.11 387.50,62.93 387.75,74.24 388.00,85.14 388.25,95.75 388.50,106.03 388.75,115.80 389.00,124.87 389.25,133.07 389.50,140.28 389.75,146.39 390.00,151.32 390.25,155.04 390.50,157.54 390.75,158.87 391.00,159.09 391.25,158.33 391.50,156.72 391.75,154.45 392.00,151.72 392.25,148.74 392.50,145.74 392.75,142.94 393.00,140.54 393.25,138.13 393.50,135.80 393.75,134.58 394.00,134.51 394.25,135.61 394.50,137.83 394.75,141.09 395.00,145.29 395.25,150.29 395.50,155.94 395.75,162.05 396.00,168.46 396.25,175.00 396.50,181.50 396.75,187.84 397.00,193.88 397.25,199.55 397.50,204.76 397.75,209.47 398.00,213.66 398.25,217.33 398.50,220.50 398.75,223.20 399.00,225.46 399.25,227.32 399.50,228.84 399.75,230.06 400.00,230.99 400.25,231.00 400.50,231.00 400.75,230.99 401.00,230.96 401.25,230.89 401.50,230.81 401.75,230.72 402.00,230.62 402.25,230.54 402.50,230.46 402.75,230.41 403.00,230.37 403.25,230.34 403.50,230.31 403.75,230.28 404.00,230.25 404.25,230.22 404.50,230.19 404.75,230.16 405.00,230.14 405.25,230.11 405.50,230.09 405.75,230.06 406.00,230.04 406.25,230.02 406.50,230.00 406.75,229.99 407.00,229.97 407.25,229.96 407.50,229.94 407.75,229.93 408.00,229.92 408.25,229.91 408.50,229.91 408.75,229.90 409.00,229.90 409.25,229.90 409.50,229.91 409.75,229.93 410.00,229.96 410.25,230.00 410.50,230.04 410.75,230.09 411.00,230.15 411.25,230.21 411.50,230.27 411.75,230.34 412.00,230.40 412.25,230.47 412.50,230.53 412.75,230.59 413.00,230.64 413.25,230.69 413.50,230.73 413.75,230.76 414.00,230.78 414.25,230.80 414.50,230.80 414.75,230.79 415.00,230.76 415.25,230.72 415.50,230.67 415.75,230.62 416.00,230.55 416.25,230.48 416.50,230.41 416.75,230.33 417.00,230.25 417.25,230.17 417.50,230.09 417.75,230.02 418.00,229.95 418.25,229.88 418.50,229.83 418.75,229.78 419.00,229.74 419.25,229.71 419.50,229.70 419.75,229.70 420.00,229.72 420.25,229.75 420.50,229.80 420.75,229.85 421.00,229.91 421.25,229.99 421.50,230.06 421.75,230.15 422.00,230.23 422.25,230.32 422.50,230.40 422.75,230.49 423.00,230.57 423.25,230.64 423.50,230.71 423.75,230.77 424.00,230.82 424.25,230.86 424.50,230.89 424.75,230.90 425.00,230.90 425.25,230.88 425.50,230.85 425.75,230.82 426.00,230.77 426.25,230.72 426.50,230.66 426.75,230.59 427.00,230.52 427.25,230.44 427.50,230.36 427.75,230.28 428.00,230.20 428.25,230.12 428.50,230.04 428.75,229.96 429.00,229.88 429.25,229.81 429.50,229.74 429.75,229.68 430.00,229.63 430.25,229.58 430.50,229.55 430.75,229.52 431.00,229.50 431.25,229.50 431.50,229.50 431.75,229.52 432.00,229.53 432.25,229.56 432.50,229.58 432.75,229.61 433.00,229.65 433.25,229.69 433.50,229.73 433.75,229.77 434.00,229.82 434.25,229.86 434.50,229.91 434.75,229.96 435.00,230.00 435.25,230.04 435.50,230.09 435.75,230.13 436.00,230.16 436.25,230.20 436.50,230.23 436.75,230.25 437.00,230.27 437.25,230.29 437.50,230.30 437.75,230.30 438.00,230.29 438.25,230.28 438.50,230.25 438.75,230.22 439.00,230.18 439.25,230.14 439.50,230.09 439.75,230.04 440.00,229.99 440.25,229.94 440.50,229.89 440.75,229.84 441.00,229.79 441.25,229.75 441.50,229.71 441.75,229.68 442.00,229.65 442.25,229.61 442.50,229.58 442.75,229.55 443.00,229.51 443.25,229.48 443.50,229.44 443.75,229.41 444.00,229.37 444.25,229.34 444.50,229.31 444.75,229.28 445.00,229.25 445.25,229.22 445.50,229.20 445.75,229.18 446.00,229.16 446.25,229.14 446.50,229.12 446.75,229.11 447.00,229.10 447.25,229.10 447.50,229.10 447.75,229.12 448.00,229.17 448.25,229.24 448.50,229.32 448.75,229.42 449.00,229.53 449.25,229.65 449.50,229.77 449.75,229.90 450.00,230.03 450.25,230.16 450.50,230.29 450.75,230.40 451.00,230.51 451.25,230.61 451.50,230.69 451.75,230.76 452.00,230.80 452.25,230.83 452.50,230.86 452.75,230.89 453.00,230.92 453.25,230.95 453.50,230.98 453.75,231.01 454.00,231.03 454.25,231.06 454.50,231.08 454.75,231.10 455.00,231.12 455.25,231.14 455.50,231.15 455.75,231.17 456.00,231.18 456.25,231.19 456.50,231.19 456.75,231.20 457.00,231.20 457.25,231.20 457.50,231.20 457.75,231.19 458.00,231.18 458.25,231.17 458.50,231.16 458.75,231.14 459.00,231.12 459.25,231.11 459.50,231.08 459.75,231.06 460.00,231.04 460.25,231.01 460.50,230.99 460.75,230.96 461.00,230.93 461.25,230.90 461.50,230.87 461.75,230.84 462.00,230.81 462.25,230.78 462.50,230.75 462.75,230.72 463.00,230.69 463.25,230.67 463.50,230.64 463.75,230.61 464.00,230.58 464.25,230.56 464.50,230.54 464.75,230.51 465.00,230.49 465.25,230.47 465.50,230.45 465.75,230.42 466.00,230.40 466.25,230.38 466.50,230.35 466.75,230.33 467.00,230.30 467.25,230.27 467.50,230.25 467.75,230.22 468.00,230.20 468.25,230.17 468.50,230.15 468.75,230.12 469.00,230.10 469.25,230.08 469.50,230.06 469.75,230.04 470.00,230.02 470.25,230.00 470.50,229.98 470.75,229.96 471.00,229.95 471.25,229.94 471.50,229.93 471.75,229.92 472.00,229.91 472.25,229.90 472.50,229.90 472.75,229.90 473.00,229.90 473.25,229.91 473.50,229.92 473.75,229.94 474.00,229.96 474.25,229.98 474.50,230.01 474.75,230.03 475.00,230.06 475.25,230.10 475.50,230.13 475.75,230.16 476.00,230.20 476.25,230.24 476.50,230.27 476.75,230.31 477.00,230.34 477.25,230.38 477.50,230.41 477.75,230.44 478.00,230.47 478.25,230.50 478.50,230.52 478.75,230.55 479.00,230.56 479.25,230.58 479.50,230.59 479.75,230.60 480.00,230.60 480.25,230.60 480.50,230.59 480.75,230.59 481.00,230.58 481.25,230.57 481.50,230.55 481.75,230.54 482.00,230.52 482.25,230.50 482.50,230.48 482.75,230.46 483.00,230.44 483.25,230.42 483.50,230.40 483.75,230.38 484.00,230.36 484.25,230.34 484.50,230.32 484.75,230.30 485.00,230.28 485.25,230.26 485.50,230.25 485.75,230.23 486.00,230.22 486.25,230.21 486.50,230.21 486.75,230.20 487.00,230.20 487.25,230.20 487.50,230.20 487.75,230.21 488.00,230.22 488.25,230.23 488.50,230.24 488.75,230.25 489.00,230.26 489.25,230.28 489.50,230.29 489.75,230.31 490.00,230.33 490.25,230.34 490.50,230.36 490.75,230.38 491.00,230.40 491.25,230.42 491.50,230.44 491.75,230.46 492.00,230.47 492.25,230.49 492.50,230.51 492.75,230.52 493.00,230.54 493.25,230.55 493.50,230.56 493.75,230.57 494.00,230.58 494.25,230.59 494.50,230.60 494.75,230.60 495.00,230.60 495.25,230.58 495.50,230.52 495.75,230.42 496.00,230.29 496.25,230.13 496.50,229.93 496.75,229.71 497.00,229.47 497.25,229.21 497.50,228.93 497.75,228.63 498.00,228.32 498.25,228.00 498.50,227.68 498.75,227.35 499.00,227.02 499.25,226.69 499.50,226.36 499.75,226.04 500.00,225.73 500.25,225.43 500.50,225.15 500.75,224.88 501.00,224.63 501.25,224.41 501.50,224.21 501.75,224.04 502.00,223.90 502.25,223.80 502.50,223.73 502.75,223.70 503.00,223.72 503.25,223.80 503.50,223.93 503.75,224.10 504.00,224.32 504.25,224.58 504.50,224.86 504.75,225.17 505.00,225.50 505.25,225.83 505.50,226.18 505.75,226.53 506.00,226.87 506.25,227.20 506.50,227.52 506.75,227.81 507.00,228.08 507.25,228.31 507.50,228.51 507.75,228.66 508.00,228.76 508.25,228.80 508.50,228.79 508.75,228.76 509.00,228.70 509.25,228.61 509.50,228.51 509.75,228.40 510.00,228.27 510.25,228.13 510.50,227.98 510.75,227.82 511.00,227.67 511.25,227.51 511.50,227.36 511.75,227.22 512.00,227.08 512.25,226.96 512.50,226.84 512.75,226.75 513.00,226.68 513.25,226.63 513.50,226.60 513.75,226.61 514.00,226.67 514.25,226.79 514.50,226.94 514.75,227.14 515.00,227.36 515.25,227.60 515.50,227.86 515.75,228.13 516.00,228.40 516.25,228.66 516.50,228.90 516.75,229.13 517.00,229.33 517.25,229.49 517.50,229.61 517.75,229.68 518.00,229.70 518.25,229.71 518.50,229.72 518.75,229.73 519.00,229.74 519.25,229.75 519.50,229.75 519.75,229.76 520.00,229.77 520.25,229.77 520.50,229.78 520.75,229.78 521.00,229.78 521.25,229.79 521.50,229.79 521.75,229.79 522.00,229.80 522.25,229.80 522.50,229.80 522.75,229.80 523.00,229.80 523.25,229.80 523.50,229.80 523.75,229.80 524.00,229.80 524.25,229.72 524.50,229.11 524.75,228.35 525.00,227.43 525.25,226.33 525.50,225.01 525.75,223.47 526.00,221.67 526.25,219.61 526.50,217.26 526.75,214.63 527.00,211.71 527.25,208.51 527.50,205.06 527.75,201.38 528.00,197.51 528.25,193.51 528.50,189.45 528.75,185.38 529.00,181.39 529.25,177.56 529.50,173.98 529.75,170.73 530.00,167.90 530.25,165.55 530.50,163.74 530.75,162.53 531.00,161.95 531.25,162.01 531.50,162.72 531.75,164.05 532.00,165.96 532.25,168.41 532.50,171.33 532.75,174.64 533.00,178.27 533.25,182.13 533.50,186.14 533.75,190.21 534.00,194.27 534.25,198.24 534.50,202.07 534.75,205.70 535.00,209.10 535.25,212.24 535.50,215.10 535.75,217.67 536.00,219.96 536.25,221.97 536.50,223.71 536.75,225.20 537.00,226.47 537.25,227.54 537.50,228.42 537.75,229.14 538.00,229.70 538.25,229.70 538.50,229.70 538.75,229.70 539.00,229.70 539.25,229.71 539.50,229.71 539.75,229.71 540.00,229.72 540.25,229.72 540.50,229.73 540.75,229.74 541.00,229.74 541.25,229.75 541.50,229.76 541.75,229.77 542.00,229.77 542.25,229.78 542.50,229.79 542.75,229.80 543.00,229.81 543.25,229.82 543.50,229.83 543.75,229.84 544.00,229.85 544.25,229.86 544.50,229.87 544.75,229.87 545.00,229.88 545.25,229.89 545.50,229.90 545.75,229.91 546.00,229.92 546.25,229.93 546.50,229.94 546.75,229.94 547.00,229.95 547.25,229.96 547.50,229.97 547.75,229.97 548.00,229.98 548.25,229.98 548.50,229.99 548.75,229.99 549.00,229.99 549.25,230.00 549.50,230.00 549.75,230.00 550.00,230.00 550.25,230.00 550.50,230.00 550.75,229.99 551.00,229.99 551.25,229.98 551.50,229.98 551.75,229.97 552.00,229.96 552.25,229.95 552.50,229.94 552.75,229.93 553.00,229.92 553.25,229.91 553.50,229.90 553.75,229.89 554.00,229.88 554.25,229.87 554.50,229.86 554.75,229.85 555.00,229.84 555.25,229.83 555.50,229.82 555.75,229.82 556.00,229.81 556.25,229.81 556.50,229.80 556.75,229.80 557.00,229.80 557.25,229.80 557.50,229.80 557.75,229.80 558.00,229.81 558.25,229.74 558.50,229.15 558.75,228.43 559.00,227.56 559.25,226.51 559.50,225.25 559.75,223.78 560.00,222.07 560.25,220.09 560.50,217.85 560.75,215.34 561.00,212.55 561.25,209.49 561.50,206.19 561.75,202.68 562.00,198.98 562.25,195.16 562.50,191.27 562.75,187.38 563.00,183.57 563.25,179.91 563.50,176.49 563.75,173.39 564.00,170.68 564.25,168.44 564.50,166.73 564.75,165.59 565.00,165.04 565.25,165.12 565.50,165.81 565.75,167.10 566.00,168.95 566.25,171.32 566.50,174.14 566.75,177.33 567.00,180.83 567.25,184.55 567.50,188.41 567.75,192.34 568.00,196.24 568.25,200.07 568.50,203.75 568.75,207.25 569.00,210.53 569.25,213.55 569.50,216.31 569.75,218.79 570.00,220.99 570.25,222.93 570.50,224.61 570.75,226.05 571.00,227.27 571.25,228.30 571.50,229.15 571.75,229.85 572.00,230.39 572.25,230.40 572.50,230.40 572.75,230.40 573.00,230.40 573.25,230.40 573.50,230.40 573.75,230.39 574.00,230.34 574.25,229.70 574.50,228.91 574.75,227.94 575.00,226.77 575.25,225.36 575.50,223.70 575.75,221.77 576.00,219.54 576.25,217.00 576.50,214.15 576.75,210.99 577.00,207.54 577.25,203.82 577.50,199.88 577.75,195.76 578.00,191.53 578.25,187.27 578.50,183.07 578.75,179.00 579.00,175.18 579.25,171.70 579.50,168.64 579.75,166.09 580.00,164.13 580.25,162.81 580.50,162.16 580.75,162.21 581.00,162.96 581.25,164.38 581.50,166.43 581.75,169.05 582.00,172.16 582.25,175.69 582.50,179.53 582.75,183.59 583.00,187.79 583.25,192.01 583.50,196.19 583.75,200.25 584.00,204.13 584.25,207.76 584.50,211.13 584.75,214.21 585.00,216.97 585.25,219.42 585.50,221.57 585.75,223.43 586.00,225.02 586.25,226.36 586.50,227.48 586.75,228.41 587.00,229.16 587.25,229.70 587.50,229.70 587.75,229.70 588.00,229.71 588.25,229.71 588.50,229.72 588.75,229.73 589.00,229.73 589.25,229.74 589.50,229.76 589.75,229.77 590.00,229.78 590.25,229.80 590.50,229.81 590.75,229.83 591.00,229.84 591.25,229.86 591.50,229.88 591.75,229.90 592.00,229.92 592.25,229.94 592.50,229.96 592.75,229.98 593.00,230.00 593.25,230.02 593.50,230.04 593.75,230.06 594.00,230.08 594.25,230.10 594.50,230.12 594.75,230.14 595.00,230.16 595.25,230.18 595.50,230.20 595.75,230.22 596.00,230.24 596.25,230.25 596.50,230.27 596.75,230.29 597.00,230.30 597.25,230.32 597.50,230.33 597.75,230.34 598.00,230.35 598.25,230.36 598.50,230.37 598.75,230.38 599.00,230.39 599.25,230.39 599.50,230.40 599.75,230.40 600.00,230.40 600.25,230.40 600.50,230.40 600.75,230.40 601.00,230.40 601.25,230.40 601.50,230.40 601.75,230.40 602.00,230.40 602.25,230.40 602.50,230.40 602.75,230.40 603.00,230.40 603.25,230.40 603.50,230.40 603.75,230.40 604.00,230.40 604.25,230.40 604.50,230.40 604.75,230.40 605.00,230.40 605.25,230.40 605.50,230.40 605.75,230.40 606.00,230.40 606.25,230.40 606.50,230.40 606.75,230.40 607.00,230.40 607.25,230.40 607.50,230.40 607.75,230.40 608.00,230.40 608.25,230.40 608.50,230.40 608.75,230.40 609.00,230.40 609.25,230.40 609.50,230.40 609.75,230.40 610.00,230.40 610.25,230.40 610.50,230.40 610.75,230.40 611.00,230.40 611.25,230.40 611.50,230.40 611.75,230.40 612.00,230.40 612.25,230.40 612.50,230.40 612.75,230.40 613.00,230.40 613.25,230.40 613.50,230.40 613.75,230.40 614.00,230.40 614.25,230.40 614.50,230.40 614.75,230.40 615.00,230.40 615.25,230.40 615.50,230.40 615.75,230.40 616.00,230.40 616.25,230.40 616.50,230.40 616.75,230.40 617.00,230.40 617.10,230.40" fill="none" stroke="#111" stroke-width="1.4" stroke-linejoin="round"/><polyline points="351.50,461.98 351.75,461.92 352.00,461.86 352.25,461.81 352.50,461.75 352.75,461.70 353.00,461.64 353.25,461.59 353.50,461.53 353.75,461.47 354.00,461.41 354.25,461.34 354.50,461.28 354.75,461.22 355.00,461.16 355.25,461.11 355.50,461.07 355.75,461.03 356.00,461.01 356.25,461.00 356.50,461.00 356.75,461.00 357.00,461.00 357.25,460.39 357.50,459.49 357.75,458.38 358.00,457.06 358.25,455.50 358.50,453.66 358.75,451.52 359.00,449.06 359.25,446.27 359.50,443.12 359.75,439.61 360.00,435.75 360.25,431.56 360.50,427.04 360.75,422.26 361.00,417.25 361.25,412.08 361.50,406.83 361.75,401.58 362.00,396.42 362.25,391.47 362.50,386.82 362.75,382.56 363.00,378.81 363.25,375.65 363.50,373.16 363.75,371.40 364.00,370.41 364.25,370.23 364.50,370.85 364.75,372.28 365.00,374.46 365.25,377.34 365.50,380.87 365.75,384.95 366.00,389.48 366.25,394.38 366.50,399.53 366.75,404.84 367.00,410.20 367.25,415.53 367.50,420.73 367.75,425.75 368.00,430.51 368.25,434.98 368.50,439.12 368.75,442.90 369.00,446.32 369.25,449.38 369.50,452.08 369.75,454.44 370.00,456.49 370.25,458.23 370.50,459.71 370.75,460.95 371.00,461.97 371.25,462.81 371.50,463.10 371.75,463.10 372.00,463.10 372.25,463.10 372.50,463.10 372.75,463.10 373.00,463.10 373.25,463.10 373.50,463.10 373.75,463.10 374.00,463.10 374.25,463.10 374.50,463.10 374.75,463.10 375.00,463.10 375.25,463.12 375.50,463.17 375.75,463.24 376.00,463.33 376.25,463.44 376.50,463.55 376.75,463.66 377.00,463.77 377.25,463.86 377.50,463.93 377.75,463.98 378.00,464.00 378.25,463.97 378.50,463.88 378.75,463.75 379.00,463.60 379.25,463.45 379.50,463.32 379.75,463.23 380.00,463.20 380.25,463.22 380.50,463.28 380.75,463.36 381.00,463.46 381.25,463.58 381.50,463.69 381.75,463.80 382.00,463.89 382.25,463.96 382.50,463.53 382.75,462.63 383.00,461.52 383.25,460.18 383.50,458.59 383.75,456.72 384.00,454.53 384.25,452.00 384.50,449.11 384.75,445.86 385.00,442.22 385.25,438.21 385.50,433.84 385.75,429.12 386.00,424.11 386.25,418.85 386.50,413.40 386.75,407.85 387.00,402.27 387.25,396.77 387.50,391.45 387.75,386.42 388.00,381.79 388.25,377.65 388.50,374.10 388.75,371.24 389.00,369.12 389.25,367.79 389.50,367.30 389.75,367.65 390.00,368.83 390.25,370.81 390.50,373.53 390.75,376.94 391.00,380.94 391.25,385.44 391.50,390.33 391.75,395.52 392.00,400.88 392.25,406.33 392.50,411.77 392.75,417.09 393.00,422.24 393.25,427.14 393.50,431.74 393.75,436.02 394.00,439.93 394.25,443.47 394.50,446.64 394.75,449.44 395.00,451.90 395.25,454.02 395.50,455.84 395.75,457.37 396.00,458.66 396.25,459.73 396.50,460.61 396.75,461.05 397.00,461.02 397.25,461.00 397.50,460.99 397.75,460.97 398.00,460.96 398.25,460.94 398.50,460.92 398.75,460.91 399.00,460.83 399.25,459.57 399.50,458.04 399.75,456.21 400.00,454.04 400.25,451.48 400.50,448.49 400.75,445.04 401.00,441.09 401.25,436.60 401.50,431.58 401.75,425.99 402.00,419.86 402.25,413.19 402.50,406.02 402.75,398.42 403.00,390.44 403.25,382.18 403.50,373.74 403.75,365.25 404.00,356.85 404.25,348.68 404.50,340.89 404.75,333.63 405.00,327.06 405.25,321.31 405.50,316.52 405.75,312.79 406.00,310.20 406.25,308.83 406.50,308.70 406.75,309.81 407.00,312.13 407.25,315.62 407.50,320.20 407.75,325.74 408.00,332.14 408.25,339.25 408.50,346.93 408.75,355.02 409.00,363.38 409.25,371.84 409.50,380.28 409.75,388.57 410.00,396.59 410.25,404.27 410.50,411.51 410.75,418.26 411.00,424.49 411.25,430.17 411.50,435.29 411.75,439.86 412.00,443.91 412.25,447.44 412.50,450.50 412.75,453.13 413.00,455.36 413.25,457.25 413.50,458.85 413.75,460.20 414.00,460.57 414.25,460.66 414.50,460.75 414.75,460.84 415.00,460.93 415.25,461.02 415.50,461.10 415.75,461.18 416.00,461.28 416.25,461.38 416.50,461.48 416.75,461.59 417.00,461.70 417.25,461.81 417.50,461.92 417.75,462.03 418.00,462.14 418.25,462.25 418.50,462.35 418.75,462.45 419.00,462.55 419.25,462.64 419.50,462.73 419.75,462.81 420.00,462.88 420.25,462.95 420.50,463.00 420.75,463.04 421.00,463.07 421.25,463.09 421.50,463.10 421.75,463.10 422.00,463.09 422.25,463.07 422.50,463.05 422.75,463.02 423.00,462.98 423.25,462.94 423.50,462.90 423.75,462.85 424.00,462.80 424.25,462.74 424.50,462.68 424.75,462.62 425.00,462.56 425.25,462.49 425.50,462.42 425.75,462.35 426.00,462.27 426.25,462.20 426.50,462.12 426.75,462.05 427.00,461.98 427.25,461.90 427.50,461.83 427.75,461.75 428.00,461.68 428.25,461.61 428.50,461.54 428.75,461.48 429.00,461.42 429.25,461.36 429.50,461.30 429.75,461.25 430.00,461.20 430.25,461.16 430.50,461.12 430.75,461.08 431.00,461.05 431.25,461.03 431.50,461.01 431.75,461.00 432.00,461.00 432.25,461.01 432.50,461.04 432.75,461.08 433.00,461.14 433.25,461.22 433.50,461.30 433.75,461.40 434.00,461.50 434.25,461.61 434.50,461.73 434.75,461.85 435.00,461.98 435.25,462.10 435.50,462.22 435.75,462.35 436.00,462.46 436.25,462.58 436.50,462.68 436.75,462.78 437.00,462.87 437.25,462.94 437.50,463.01 437.75,463.05 438.00,463.09 438.25,463.10 438.50,463.09 438.75,463.07 439.00,463.03 439.25,462.97 439.50,462.90 439.75,462.82 440.00,462.74 440.25,462.64 440.50,462.54 440.75,462.43 441.00,462.33 441.25,462.22 441.50,462.12 441.75,462.02 442.00,461.93 442.25,461.84 442.50,461.77 442.75,461.70 443.00,461.65 443.25,461.62 443.50,461.60 443.75,461.60 444.00,461.61 444.25,461.63 444.50,461.66 444.75,461.69 445.00,461.73 445.25,461.77 445.50,461.82 445.75,461.87 446.00,461.93 446.25,461.99 446.50,462.05 446.75,462.11 447.00,462.17 447.25,462.24 447.50,462.30 447.75,462.36 448.00,462.42 448.25,462.47 448.50,462.53 448.75,462.57 449.00,462.62 449.25,462.66 449.50,462.71 449.75,462.75 450.00,462.80 450.25,462.84 450.50,462.89 450.75,462.94 451.00,462.99 451.25,463.04 451.50,463.09 451.75,463.14 452.00,463.19 452.25,463.24 452.50,463.29 452.75,463.34 453.00,463.38 453.25,463.43 453.50,463.48 453.75,463.53 454.00,463.57 454.25,463.62 454.50,463.66 454.75,463.71 455.00,463.75 455.25,463.79 455.50,463.83 455.75,463.87 456.00,463.90 456.25,463.94 456.50,463.97 456.75,464.00 457.00,464.03 457.25,464.06 457.50,464.09 457.75,464.11 458.00,464.13 458.25,464.15 458.50,464.17 458.75,464.18 459.00,464.19 459.25,464.20 459.50,464.20 459.75,464.21 460.00,464.21 460.25,464.21 460.50,464.22 460.75,464.22 461.00,464.23 461.25,464.23 461.50,464.23 461.75,464.24 462.00,464.24 462.25,464.24 462.50,464.25 462.75,464.25 463.00,464.25 463.25,464.26 463.50,464.26 463.75,464.26 464.00,464.27 464.25,464.27 464.50,464.27 464.75,464.27 465.00,464.28 465.25,464.28 465.50,464.28 465.75,464.28 466.00,464.28 466.25,464.29 466.50,464.29 466.75,464.29 467.00,464.29 467.25,464.29 467.50,464.29 467.75,464.30 468.00,464.30 468.25,464.30 468.50,464.30 468.75,464.30 469.00,464.30 469.25,464.30 469.50,464.30 469.75,464.30 470.00,464.30 470.25,464.30 470.50,464.29 470.75,464.28 471.00,464.26 471.25,464.24 471.50,464.22 471.75,464.19 472.00,464.17 472.25,464.13 472.50,464.10 472.75,464.06 473.00,464.02 473.25,463.98 473.50,463.94 473.75,463.89 474.00,463.85 474.25,463.80 474.50,463.76 474.75,463.71 475.00,463.66 475.25,463.62 475.50,463.57 475.75,463.52 476.00,463.48 476.25,463.44 476.50,463.39 476.75,463.35 477.00,463.32 477.25,463.28 477.50,463.25 477.75,463.22 478.00,463.19 478.25,463.16 478.50,463.14 478.75,463.13 479.00,463.11 479.25,463.10 479.50,463.10 479.75,463.10 480.00,463.10 480.25,463.10 480.50,463.10 480.75,463.10 481.00,463.10 481.25,463.10 481.50,463.10 481.75,463.10 482.00,463.10 482.25,463.10 482.50,463.10 482.75,463.10 483.00,463.10 483.25,463.10 483.50,463.10 483.75,463.10 484.00,463.10 484.25,463.10 484.50,463.10 484.75,463.10 485.00,463.10 485.25,463.10 485.50,463.10 485.75,463.10 486.00,463.10 486.25,463.10 486.50,463.10 486.75,463.10 487.00,463.10 487.25,463.10 487.50,463.10 487.75,463.10 488.00,463.10 488.25,463.10 488.50,463.10 488.75,463.10 489.00,463.10 489.25,463.10 489.50,463.10 489.75,463.10 490.00,463.10 490.25,463.10 490.50,463.10 490.75,463.10 491.00,463.10 491.25,463.10 491.50,463.10 491.75,463.10 492.00,463.10 492.25,463.10 492.50,463.10 492.75,463.10 493.00,463.10 493.25,463.10 493.50,463.10 493.75,463.10 494.00,463.10 494.25,463.09 494.50,463.05 494.75,462.99 495.00,462.91 495.25,462.81 495.50,462.69 495.75,462.56 496.00,462.41 496.25,462.24 496.50,462.06 496.75,461.87 497.00,461.67 497.25,461.47 497.50,461.25 497.75,461.03 498.00,460.81 498.25,460.58 498.50,460.35 498.75,460.12 499.00,459.89 499.25,459.67 499.50,459.45 499.75,459.23 500.00,459.03 500.25,458.83 500.50,458.64 500.75,458.46 501.00,458.29 501.25,458.14 501.50,458.01 501.75,457.89 502.00,457.79 502.25,457.71 502.50,457.65 502.75,457.61 503.00,457.60 503.25,457.62 503.50,457.69 503.75,457.80 504.00,457.94 504.25,458.11 504.50,458.30 504.75,458.52 505.00,458.75 505.25,459.00 505.50,459.25 505.75,459.50 506.00,459.75 506.25,460.00 506.50,460.24 506.75,460.46 507.00,460.66 507.25,460.83 507.50,460.98 507.75,461.09 508.00,461.17 508.25,461.20 508.50,461.19 508.75,461.16 509.00,461.10 509.25,461.03 509.50,460.93 509.75,460.83 510.00,460.71 510.25,460.59 510.50,460.46 510.75,460.32 511.00,460.19 511.25,460.06 511.50,459.94 511.75,459.83 512.00,459.73 512.25,459.64 512.50,459.57 512.75,459.53 513.00,459.50 513.25,459.51 513.50,459.55 513.75,459.63 514.00,459.75 514.25,459.89 514.50,460.07 514.75,460.26 515.00,460.47 515.25,460.70 515.50,460.94 515.75,461.19 516.00,461.45 516.25,461.70 516.50,461.96 516.75,462.21 517.00,462.44 517.25,462.67 517.50,462.88 517.75,463.07 518.00,463.24 518.25,463.38 518.50,463.49 518.75,463.56 519.00,463.60 519.25,463.60 519.50,463.57 519.75,463.53 520.00,463.47 520.25,463.39 520.50,463.30 520.75,463.19 521.00,463.07 521.25,462.93 521.50,462.79 521.75,462.63 522.00,462.47 522.25,462.30 522.50,462.13 522.75,461.95 523.00,461.77 523.25,461.59 523.50,461.40 523.75,461.22 524.00,461.04 524.25,460.87 524.50,460.70 524.75,460.53 525.00,460.37 525.25,460.22 525.50,460.09 525.75,459.96 526.00,459.85 526.25,459.75 526.50,459.66 526.75,459.59 527.00,459.54 527.25,459.51 527.50,459.50 527.75,459.52 528.00,459.56 528.25,459.63 528.50,459.73 528.75,459.85 529.00,459.98 529.25,460.14 529.50,460.30 529.75,460.48 530.00,460.67 530.25,460.86 530.50,461.05 530.75,461.24 531.00,461.43 531.25,461.62 531.50,461.80 531.75,461.96 532.00,462.12 532.25,462.25 532.50,462.37 532.75,462.47 533.00,462.54 533.25,462.58 533.50,462.60 533.75,462.60 534.00,462.60 534.25,462.60 534.50,462.60 534.75,462.60 535.00,462.60 535.25,462.60 535.50,462.60 535.75,462.60 536.00,462.60 536.25,462.60 536.50,462.60 536.75,462.60 537.00,462.60 537.25,462.60 537.50,462.60 537.75,462.60 538.00,462.60 538.25,462.60 538.50,462.60 538.75,462.60 539.00,462.60 539.25,462.60 539.50,462.60 539.75,462.61 540.00,462.62 540.25,462.65 540.50,462.68 540.75,462.71 541.00,462.75 541.25,462.80 541.50,462.85 541.75,462.90 542.00,462.96 542.25,463.02 542.50,463.08 542.75,463.14 543.00,463.20 543.25,463.26 543.50,463.32 543.75,463.38 544.00,463.44 544.25,463.50 544.50,463.55 544.75,463.60 545.00,463.65 545.25,463.69 545.50,463.72 545.75,463.75 546.00,463.78 546.25,463.79 546.50,463.80 546.75,463.80 547.00,463.79 547.25,463.77 547.50,463.74 547.75,463.70 548.00,463.65 548.25,463.60 548.50,463.53 548.75,463.47 549.00,463.39 549.25,463.32 549.50,463.23 549.75,463.14 550.00,463.05 550.25,462.96 550.50,462.86 550.75,462.76 551.00,462.66 551.25,462.56 551.50,462.46 551.75,462.36 552.00,462.26 552.25,462.16 552.50,462.06 552.75,461.97 553.00,461.87 553.25,461.79 553.50,461.70 553.75,461.62 554.00,461.55 554.25,461.48 554.50,461.42 554.75,461.36 555.00,461.31 555.25,461.27 555.50,461.24 555.75,461.22 556.00,461.20 556.25,461.20 556.50,461.21 556.75,461.25 557.00,461.30 557.25,461.36 557.50,461.44 557.75,461.53 558.00,461.62 558.25,461.73 558.50,461.83 558.75,461.94 559.00,462.04 559.25,462.15 559.50,462.24 559.75,462.33 560.00,462.41 560.25,462.48 560.50,462.54 560.75,462.58 561.00,462.60 561.25,462.61 561.50,462.62 561.75,462.63 562.00,462.64 562.25,462.65 562.50,462.58 562.75,462.33 563.00,462.01 563.25,461.61 563.50,461.11 563.75,460.52 564.00,459.81 564.25,458.98 564.50,458.02 564.75,456.93 565.00,455.71 565.25,454.37 565.50,452.92 565.75,451.39 566.00,449.79 566.25,448.17 566.50,446.55 566.75,444.98 567.00,443.51 567.25,442.17 567.50,441.01 567.75,440.06 568.00,439.37 568.25,438.94 568.50,438.80 568.75,438.95 569.00,439.39 569.25,440.11 569.50,441.06 569.75,442.24 570.00,443.59 570.25,445.08 570.50,446.66 570.75,448.29 571.00,449.93 571.25,451.54 571.50,453.09 571.75,454.55 572.00,455.90 572.25,457.14 572.50,458.24 572.75,459.22 573.00,460.06 573.25,460.78 573.50,461.39 573.75,461.50 574.00,461.04 574.25,460.31 574.50,459.28 574.75,457.81 575.00,455.98 575.25,453.83 575.50,451.35 575.75,448.50 576.00,445.29 576.25,441.69 576.50,437.72 576.75,433.40 577.00,428.76 577.25,423.84 577.50,418.71 577.75,413.43 578.00,408.09 578.25,402.80 578.50,397.65 578.75,392.76 579.00,388.23 579.25,384.19 579.50,380.72 579.75,377.93 580.00,375.87 580.25,374.62 580.50,374.20 580.75,374.62 581.00,375.88 581.25,377.94 581.50,380.74 581.75,384.21 582.00,388.26 582.25,392.78 582.50,397.68 582.75,402.83 583.00,408.13 583.25,413.47 583.50,418.75 583.75,423.89 584.00,428.82 584.25,433.46 584.50,437.79 584.75,441.76 585.00,445.36 585.25,448.58 585.50,451.43 585.75,453.92 586.00,456.07 586.25,457.91 586.50,459.46 586.75,460.75 587.00,461.82 587.25,462.70 587.50,463.09 587.75,463.05 588.00,462.99 588.25,462.91 588.50,462.81 588.75,462.71 589.00,462.60 589.25,462.48 589.50,462.37 589.75,462.27 590.00,462.17 590.25,462.09 590.50,462.04 590.75,462.01 591.00,462.00 591.25,462.01 591.50,462.03 591.75,462.05 592.00,462.08 592.25,462.12 592.50,462.17 592.75,462.22 593.00,462.28 593.25,462.34 593.50,462.41 593.75,462.48 594.00,462.55 594.25,462.63 594.50,462.71 594.75,462.79 595.00,462.87 595.25,462.95 595.50,463.03 595.75,463.11 596.00,463.18 596.25,463.26 596.50,463.33 596.75,463.40 597.00,463.47 597.25,463.53 597.50,463.59 597.75,463.64 598.00,463.68 598.25,463.72 598.50,463.75 598.75,463.78 599.00,463.79 599.25,463.80 599.50,463.80 599.75,463.80 600.00,463.80 600.25,463.80 600.50,463.80 600.75,463.80 601.00,463.80 601.25,463.80 601.50,463.80 601.75,463.80 602.00,463.80 602.25,463.80 602.50,463.80 602.75,463.80 603.00,463.80 603.25,463.80 603.50,463.80 603.75,463.80 604.00,463.80 604.25,463.80 604.50,463.80 604.75,463.80 605.00,463.80 605.25,463.80 605.50,463.80 605.75,463.80 606.00,463.80 606.25,463.80 606.50,463.80 606.75,463.80 607.00,463.80 607.25,463.80 607.50,463.80 607.75,463.80 608.00,463.80 608.25,463.80 608.50,463.80 608.75,463.80 609.00,463.80 609.25,463.80 609.50,463.80 609.75,463.80 610.00,463.80 610.25,463.80 610.50,463.80 610.75,463.80 611.00,463.80 611.25,463.80 611.50,463.80 611.75,463.80 612.00,463.80 612.25,463.80 612.50,463.80 612.75,463.80 613.00,463.80 613.25,463.80 613.50,463.80 613.75,463.80 614.00,463.80 614.25,463.80 614.50,463.80 614.75,463.80 615.00,463.80 615.25,463.80 615.50,463.80 615.75,463.80 616.00,463.80 616.25,463.80 616.50,463.80 616.75,463.80 617.00,463.80 617.10,463.80" fill="none" stroke="#111" stroke-width="1.4" stroke-linejoin="round"/><polyline points="28.25,761.51 28.50,761.49 28.75,761.48 29.00,761.46 29.25,761.45 29.50,761.43 29.75,761.41 30.00,761.40 30.25,761.38 30.50,761.36 30.75,761.35 31.00,761.33 31.25,761.32 31.50,761.30 31.75,761.28 32.00,761.27 32.25,761.25 32.50,761.23 32.75,761.22 33.00,761.20 33.25,761.18 33.50,761.17 33.75,761.16 34.00,761.14 34.25,761.13 34.50,761.12 34.75,761.10 35.00,761.09 35.25,761.07 35.50,761.05 35.75,761.03 36.00,761.00 36.25,760.95 36.50,760.86 36.75,760.73 37.00,760.56 37.25,760.37 37.50,760.15 37.75,759.91 38.00,759.65 38.25,759.38 38.50,759.11 38.75,758.83 39.00,758.55 39.25,758.27 39.50,758.00 39.75,757.75 40.00,757.52 40.25,757.30 40.50,757.11 40.75,756.95 41.00,756.83 41.25,756.75 41.50,756.70 41.75,756.64 42.00,756.12 42.25,755.50 42.50,754.74 42.75,753.82 43.00,752.73 43.25,751.45 43.50,749.97 43.75,748.26 44.00,746.31 44.25,744.13 44.50,741.71 44.75,739.05 45.00,736.19 45.25,733.14 45.50,729.93 45.75,726.61 46.00,723.23 46.25,719.86 46.50,716.55 46.75,713.38 47.00,710.42 47.25,707.73 47.50,705.39 47.75,703.45 48.00,701.97 48.25,700.99 48.50,700.53 48.75,700.61 49.00,701.23 49.25,702.37 49.50,703.99 49.75,706.07 50.00,708.53 50.25,711.33 50.50,714.39 50.75,717.64 51.00,721.02 51.25,724.44 51.50,727.86 51.75,731.20 52.00,734.42 52.25,737.48 52.50,740.34 52.75,742.98 53.00,745.39 53.25,747.56 53.50,749.48 53.75,751.17 54.00,752.64 54.25,753.90 54.50,754.97 54.75,755.87 55.00,756.62 55.25,757.23 55.50,757.70 55.75,757.70 56.00,757.68 56.25,757.46 56.50,757.03 56.75,756.42 57.00,755.66 57.25,754.78 57.50,753.81 57.75,752.79 58.00,751.74 58.25,750.70 58.50,749.69 58.75,748.76 59.00,747.92 59.25,747.21 59.50,746.67 59.75,746.32 60.00,746.20 60.25,746.31 60.50,746.61 60.75,747.09 61.00,747.71 61.25,748.47 61.50,749.32 61.75,750.25 62.00,751.24 62.25,752.25 62.50,753.27 62.75,754.28 63.00,755.24 63.25,756.14 63.50,756.95 63.75,757.64 64.00,758.20 64.25,758.70 64.50,759.21 64.75,759.71 65.00,760.18 65.25,760.59 65.50,760.91 65.75,761.12 66.00,761.20 66.25,761.20 66.50,761.19 66.75,761.17 67.00,761.15 67.25,761.13 67.50,761.10 67.75,761.07 68.00,761.04 68.25,761.00 68.50,760.97 68.75,760.93 69.00,760.89 69.25,760.85 69.50,760.82 69.75,760.78 70.00,760.75 70.25,760.71 70.50,760.69 70.75,760.66 71.00,760.64 71.25,760.62 71.50,760.61 71.75,760.60 72.00,760.60 72.25,760.65 72.50,760.73 72.75,760.85 73.00,761.00 73.25,761.17 73.50,761.36 73.75,761.55 74.00,761.74 74.25,761.93 74.50,762.10 74.75,762.25 75.00,762.37 75.25,762.45 75.50,762.50 75.75,762.49 76.00,762.45 76.25,762.39 76.50,762.31 76.75,762.25 77.00,762.20 77.25,762.17 77.50,762.14 77.75,761.38 78.00,760.26 78.25,758.87 78.50,757.19 78.75,755.16 79.00,752.75 79.25,749.93 79.50,746.66 79.75,742.92 80.00,738.72 80.25,734.05 80.50,728.94 80.75,723.45 81.00,717.63 81.25,711.59 81.50,705.41 81.75,699.24 82.00,693.21 82.25,687.47 82.50,682.18 82.75,677.47 83.00,673.49 83.25,670.36 83.50,668.17 83.75,667.00 84.00,666.94 84.25,668.61 84.50,672.03 84.75,677.03 85.00,683.31 85.25,690.52 85.50,698.28 85.75,706.17 86.00,713.74 86.25,720.56 86.50,726.10 86.75,729.75 87.00,730.69 87.25,727.82 87.50,719.50 87.75,703.44 88.00,676.37 88.25,633.75 88.50,569.48 88.75,534.60 89.00,534.60 89.25,534.60 89.50,534.60 89.75,534.60 90.00,534.60 90.25,534.60 90.50,534.60 90.75,534.60 91.00,534.60 91.25,534.60 91.50,534.60 91.75,534.60 92.00,534.60 92.25,534.60 92.50,534.60 92.75,534.60 93.00,534.60 93.25,534.60 93.50,534.60 93.75,534.60 94.00,534.60 94.25,534.60 94.50,534.60 94.75,534.60 95.00,534.60 95.25,534.60 95.50,534.60 95.75,534.60 96.00,534.60 96.25,534.60 96.50,534.60 96.75,534.60 97.00,534.60 97.25,534.60 97.50,534.60 97.75,534.60 98.00,534.60 98.25,534.60 98.50,534.60 98.75,534.60 99.00,534.60 99.25,534.60 99.50,534.60 99.75,534.60 100.00,591.59 100.25,636.21 100.50,670.24 100.75,695.41 101.00,713.59 101.25,726.34 101.50,734.81 101.75,739.93 102.00,742.43 102.25,742.95 102.50,742.03 102.75,740.15 103.00,737.80 103.25,735.42 103.50,733.41 103.75,732.10 104.00,731.70 104.25,732.32 104.50,733.92 104.75,736.35 105.00,739.37 105.25,742.72 105.50,746.12 105.75,749.33 106.00,752.18 106.25,754.59 106.50,756.50 106.75,757.96 107.00,759.00 107.25,759.58 107.50,759.70 107.75,759.30 108.00,758.82 108.25,758.29 108.50,757.74 108.75,757.19 109.00,756.66 109.25,756.17 109.50,755.76 109.75,755.44 110.00,755.25 110.25,755.20 110.50,755.35 110.75,755.67 111.00,756.12 111.25,756.65 111.50,757.21 111.75,757.77 112.00,758.27 112.25,758.67 112.50,758.93 112.75,759.00 113.00,758.97 113.25,758.89 113.50,758.78 113.75,758.64 114.00,758.49 114.25,758.32 114.50,758.15 114.75,757.98 115.00,757.83 115.25,757.70 115.50,757.59 115.75,757.52 116.00,757.50 116.25,757.55 116.50,757.68 116.75,757.89 117.00,758.15 117.25,758.46 117.50,758.80 117.75,759.15 118.00,759.50 118.25,759.84 118.50,760.15 118.75,760.41 119.00,760.62 119.25,760.75 119.50,760.80 119.75,760.80 120.00,760.78 120.25,760.76 120.50,760.74 120.75,760.71 121.00,760.67 121.25,760.63 121.50,760.58 121.75,760.53 122.00,760.48 122.25,760.42 122.50,760.36 122.75,760.31 123.00,760.25 123.25,760.19 123.50,760.11 123.75,760.02 124.00,759.90 124.25,759.77 124.50,759.64 124.75,759.49 125.00,759.34 125.25,759.18 125.50,759.03 125.75,758.89 126.00,758.75 126.25,758.63 126.50,758.52 126.75,758.43 127.00,758.36 127.25,758.32 127.50,758.30 127.75,758.34 128.00,758.45 128.25,758.62 128.50,758.84 128.75,759.08 129.00,759.33 129.25,759.59 129.50,759.82 129.75,760.03 130.00,760.20 130.25,760.34 130.50,760.49 130.75,760.64 131.00,760.78 131.25,760.93 131.50,761.06 131.75,761.18 132.00,761.29 132.25,761.38 132.50,761.44 132.75,761.49 133.00,761.50 133.25,761.48 133.50,761.42 133.75,761.33 134.00,761.20 134.25,761.05 134.50,760.87 134.75,760.67 135.00,760.46 135.25,760.23 135.50,759.99 135.75,759.75 136.00,759.50 136.25,759.25 136.50,759.01 136.75,758.78 137.00,758.55 137.25,758.34 137.50,758.15 137.75,757.99 138.00,757.84 138.25,757.73 138.50,757.65 138.75,757.61 139.00,757.61 139.25,757.67 139.50,757.79 139.75,757.96 140.00,758.18 140.25,758.43 140.50,758.71 140.75,759.00 141.00,759.31 141.25,759.62 141.50,759.93 141.75,760.22 142.00,760.49 142.25,760.74 142.50,760.94 142.75,761.10 143.00,761.20 143.25,761.27 143.50,761.34 143.75,761.41 144.00,761.47 144.25,761.53 144.50,761.59 144.75,761.65 145.00,761.70 145.25,761.75 145.50,761.80 145.75,761.85 146.00,761.89 146.25,761.93 146.50,761.97 146.75,762.01 147.00,762.04 147.25,762.07 147.50,762.10 147.75,762.12 148.00,762.14 148.25,762.16 148.50,762.18 148.75,762.19 149.00,762.20 149.25,762.21 149.50,762.22 149.75,762.23 150.00,762.23 150.25,762.24 150.50,762.25 150.75,762.26 151.00,762.27 151.25,762.27 151.50,762.28 151.75,762.29 152.00,762.29 152.25,762.30 152.50,762.31 152.75,762.31 153.00,762.32 153.25,762.32 153.50,762.33 153.75,762.33 154.00,762.34 154.25,762.34 154.50,762.35 154.75,762.35 155.00,762.36 155.25,762.36 155.50,762.37 155.75,762.37 156.00,762.37 156.25,762.38 156.50,762.38 156.75,762.38 157.00,762.38 157.25,762.39 157.50,762.39 157.75,762.39 158.00,762.39 158.25,762.39 158.50,762.40 158.75,762.40 159.00,762.40 159.25,762.40 159.50,762.40 159.75,762.40 160.00,762.40 160.25,762.40 160.50,762.39 160.75,762.38 161.00,762.36 161.25,762.34 161.50,762.32 161.75,762.29 162.00,762.26 162.25,762.23 162.50,762.19 162.75,762.15 163.00,762.12 163.25,762.08 163.50,762.03 163.75,761.99 164.00,761.95 164.25,761.91 164.50,761.87 164.75,761.82 165.00,761.78 165.25,761.75 165.50,761.71 165.75,761.67 166.00,761.64 166.25,761.61 166.50,761.58 166.75,761.56 167.00,761.54 167.25,761.52 167.50,761.51 167.75,761.50 168.00,761.50 168.25,761.50 168.50,761.51 168.75,761.53 169.00,761.56 169.25,761.58 169.50,761.62 169.75,761.66 170.00,761.70 170.25,761.74 170.50,761.79 170.75,761.84 171.00,761.89 171.25,761.95 171.50,762.00 171.75,762.05 172.00,762.11 172.25,762.16 172.50,762.21 172.75,762.26 173.00,762.30 173.25,762.34 173.50,762.38 173.75,762.42 174.00,762.44 174.25,762.47 174.50,762.49 174.75,762.50 175.00,762.50 175.25,762.50 175.50,762.50 175.75,762.49 176.00,762.48 176.25,762.48 176.50,762.47 176.75,762.45 177.00,762.44 177.25,762.43 177.50,762.41 177.75,762.39 178.00,762.38 178.25,762.36 178.50,762.34 178.75,762.31 179.00,762.29 179.25,762.27 179.50,762.25 179.75,762.22 180.00,762.20 180.25,762.17 180.50,762.15 180.75,762.12 181.00,762.10 181.25,762.08 181.50,762.05 181.75,762.03 182.00,762.00 182.25,761.98 182.50,761.95 182.75,761.93 183.00,761.91 183.25,761.89 183.50,761.86 183.75,761.84 184.00,761.83 184.25,761.81 184.50,761.79 184.75,761.77 185.00,761.76 185.25,761.75 185.50,761.73 185.75,761.72 186.00,761.72 186.25,761.71 186.50,761.70 186.75,761.70 187.00,761.70 187.25,761.70 187.50,761.71 187.75,761.72 188.00,761.73 188.25,761.74 188.50,761.76 188.75,761.78 189.00,761.80 189.25,761.83 189.50,761.85 189.75,761.88 190.00,761.91 190.25,761.94 190.50,761.97 190.75,762.00 191.00,762.03 191.25,762.07 191.50,762.10 191.75,762.13 192.00,762.17 192.25,762.20 192.50,762.23 192.75,762.26 193.00,762.29 193.25,762.32 193.50,762.35 193.75,762.38 194.00,762.40 194.25,762.42 194.50,762.44 194.75,762.46 195.00,762.47 195.25,762.48 195.50,762.49 195.75,762.50 196.00,762.50 196.25,762.50 196.50,762.49 196.75,762.49 197.00,762.47 197.25,762.46 197.50,762.45 197.75,762.43 198.00,762.41 198.25,762.38 198.50,762.36 198.75,762.33 199.00,762.31 199.25,762.28 199.50,762.25 199.75,762.22 200.00,762.18 200.25,762.15 200.50,762.12 200.75,762.08 201.00,762.05 201.25,762.02 201.50,761.98 201.75,761.95 202.00,761.92 202.25,761.88 202.50,761.85 202.75,761.82 203.00,761.79 203.25,761.77 203.50,761.74 203.75,761.72 204.00,761.69 204.25,761.67 204.50,761.65 204.75,761.64 205.00,761.63 205.25,761.61 205.50,761.61 205.75,761.60 206.00,761.60 206.25,761.61 206.50,761.62 206.75,761.65 207.00,761.68 207.25,761.73 207.50,761.77 207.75,761.83 208.00,761.88 208.25,761.94 208.50,762.00 208.75,762.06 209.00,762.12 209.25,762.17 209.50,762.23 209.75,762.28 210.00,762.32 210.25,762.35 210.50,762.38 210.75,762.39 211.00,762.40 211.25,762.38 211.50,762.33 211.75,762.24 212.00,762.14 212.25,762.02 212.50,761.90 212.75,761.78 213.00,761.66 213.25,761.56 213.50,761.47 213.75,761.42 214.00,761.40 214.25,761.40 214.50,761.42 214.75,761.44 215.00,761.47 215.25,761.51 215.50,761.55 215.75,761.59 216.00,761.65 216.25,761.70 216.50,761.76 216.75,761.82 217.00,761.88 217.25,761.94 217.50,762.00 217.75,762.06 218.00,762.11 218.25,762.17 218.50,762.22 218.75,762.26 219.00,762.30 219.25,762.34 219.50,762.37 219.75,762.39 220.00,762.40 220.25,762.41 220.50,762.41 220.75,762.42 221.00,762.43 221.25,762.43 221.50,762.44 221.75,762.44 222.00,762.45 222.25,762.45 222.50,762.45 222.75,762.46 223.00,762.46 223.25,762.46 223.50,762.47 223.75,762.47 224.00,762.47 224.25,762.48 224.50,762.48 224.75,762.48 225.00,762.49 225.25,762.49 225.50,762.49 225.75,762.50 226.00,762.50 226.25,762.50 226.50,762.51 226.75,762.51 227.00,762.52 227.25,762.52 227.50,762.53 227.75,762.54 228.00,762.54 228.25,762.55 228.50,762.55 228.75,762.56 229.00,762.56 229.25,762.57 229.50,762.57 229.75,762.58 230.00,762.58 230.25,762.59 230.50,762.59 230.75,762.59 231.00,762.59 231.25,762.60 231.50,762.60 231.75,762.60 232.00,762.60 232.25,762.60 232.50,762.59 232.75,762.59 233.00,762.58 233.25,762.57 233.50,762.56 233.75,762.54 234.00,762.52 234.25,762.51 234.50,762.49 234.75,762.47 235.00,762.44 235.25,762.42 235.50,762.40 235.75,762.37 236.00,762.35 236.25,762.32 236.50,762.30 236.75,762.28 237.00,762.25 237.25,762.23 237.50,762.20 237.75,762.18 238.00,762.16 238.25,762.13 238.50,762.11 238.75,762.09 239.00,762.08 239.25,762.06 239.50,762.04 239.75,762.03 240.00,762.02 240.25,762.01 240.50,762.01 240.75,762.00 241.00,762.00 241.25,762.00 241.50,762.02 241.75,762.04 242.00,762.06 242.25,762.09 242.50,762.13 242.75,762.17 243.00,762.21 243.25,762.26 243.50,762.30 243.75,762.34 244.00,762.39 244.25,762.43 244.50,762.47 244.75,762.51 245.00,762.54 245.25,762.56 245.50,762.58 245.75,762.60 246.00,762.60 246.25,762.60 246.50,762.60 246.75,762.60 247.00,762.60 247.25,762.60 247.50,762.60 247.75,762.60 248.00,762.60 248.25,762.60 248.50,762.60 248.75,762.60 249.00,762.60 249.25,762.60 249.50,762.60 249.75,762.60 250.00,762.60 250.25,762.60 250.50,762.60 250.75,762.60 251.00,762.60 251.25,762.60 251.50,762.60 251.75,762.60 252.00,762.60 252.25,762.60 252.50,762.60 252.75,762.60 253.00,762.60 253.25,762.60 253.50,762.60 253.75,762.60 254.00,762.60 254.25,762.60 254.50,762.60 254.75,762.60 255.00,762.60 255.25,762.60 255.50,762.60 255.75,762.60 256.00,762.60 256.25,762.60 256.50,762.59 256.75,762.58 257.00,762.57 257.25,762.55 257.50,762.53 257.75,762.50 258.00,762.48 258.25,762.45 258.50,762.41 258.75,762.38 259.00,762.35 259.25,762.31 259.50,762.27 259.75,762.24 260.00,762.20 260.25,762.16 260.50,762.13 260.75,762.09 261.00,762.05 261.25,762.02 261.50,761.99 261.75,761.95 262.00,761.93 262.25,761.90 262.50,761.87 262.75,761.85 263.00,761.83 263.25,761.82 263.50,761.81 263.75,761.80 264.00,761.80 264.25,761.80 264.50,761.81 264.75,761.83 265.00,761.84 265.25,761.87 265.50,761.89 265.75,761.92 266.00,761.96 266.25,761.99 266.50,762.03 266.75,762.06 267.00,762.10 267.25,762.14 267.50,762.17 267.75,762.21 268.00,762.24 268.25,762.28 268.50,762.31 268.75,762.33 269.00,762.36 269.25,762.37 269.50,762.39 269.75,762.40 270.00,762.40 270.25,762.39 270.50,762.37 270.75,762.33 271.00,762.27 271.25,762.20 271.50,762.12 271.75,762.02 272.00,761.91 272.25,761.79 272.50,761.66 272.75,761.52 273.00,761.37 273.25,761.21 273.50,761.04 273.75,760.87 274.00,760.69 274.25,760.50 274.50,760.31 274.75,760.12 275.00,759.92 275.25,759.72 275.50,759.51 275.75,759.31 276.00,759.10 276.25,758.89 276.50,758.69 276.75,758.48 277.00,758.28 277.25,758.08 277.50,757.89 277.75,757.70 278.00,757.51 278.25,757.33 278.50,757.16 278.75,756.99 279.00,756.83 279.25,756.68 279.50,756.54 279.75,756.41 280.00,756.29 280.25,756.18 280.50,756.08 280.75,756.00 281.00,755.93 281.25,755.87 281.50,755.83 281.75,755.81 282.00,755.80 282.25,755.85 282.50,755.98 282.75,756.19 283.00,756.46 283.25,756.80 283.50,757.17 283.75,757.58 284.00,758.02 284.25,758.47 284.50,758.92 284.75,759.37 285.00,759.80 285.25,760.21 285.50,760.58 285.75,760.90 286.00,761.16 286.25,761.35 286.50,761.47 286.75,761.48 287.00,761.36 287.25,761.19 287.50,760.99 287.75,760.74 288.00,760.44 288.25,760.09 288.50,759.67 288.75,759.18 289.00,758.63 289.25,758.02 289.50,757.34 289.75,756.60 290.00,755.82 290.25,755.00 290.50,754.17 290.75,753.33 291.00,752.51 291.25,751.73 291.50,751.01 291.75,750.38 292.00,749.85 292.25,749.43 292.50,749.15 292.75,749.01 293.00,749.01 293.25,749.16 293.50,749.44 293.75,749.85 294.00,750.36 294.25,750.97 294.50,751.65 294.75,752.38 295.00,753.14 295.25,753.90 295.50,754.65 295.75,755.38 296.00,756.06 296.25,756.70 296.50,757.27 296.75,757.78 297.00,758.23 297.25,758.61 297.50,758.93 297.75,759.19 298.00,759.41 298.25,759.57 298.50,759.70 298.75,759.79 299.00,759.81 299.25,759.76 299.50,759.72 299.75,759.67 300.00,759.62 300.25,759.56 300.50,759.50 300.75,759.43 301.00,759.36 301.25,759.29 301.50,759.21 301.75,759.14 302.00,759.07 302.25,759.00 302.50,758.94 302.75,758.88 303.00,758.83 303.25,758.78 303.50,758.75 303.75,758.72 304.00,758.70 304.25,758.70 304.50,758.73 304.75,758.80 305.00,758.89 305.25,759.02 305.50,759.16 305.75,759.04 306.00,758.56 306.25,757.97 306.50,757.22 306.75,756.31 307.00,755.21 307.25,753.88 307.50,752.32 307.75,750.51 308.00,748.41 308.25,746.05 308.50,743.43 308.75,740.55 309.00,737.42 309.25,734.07 309.50,730.51 309.75,726.77 310.00,722.90 310.25,718.94 310.50,714.94 310.75,710.96 311.00,707.08 311.25,703.35 311.50,699.84 311.75,696.62 312.00,693.77 312.25,691.32 312.50,689.34 312.75,687.88 313.00,686.96 313.25,686.60 313.50,686.82 313.75,687.61 314.00,688.95 314.25,690.82 314.50,693.18 314.75,695.97 315.00,699.14 315.25,702.63 315.50,706.37 315.75,710.29 316.00,714.33 316.25,718.42 316.50,722.49 316.75,726.49 317.00,730.37 317.25,734.09 317.50,737.62 317.75,740.92 318.00,743.98 318.25,746.79 318.50,749.33 318.75,751.62 319.00,753.66 319.25,755.46 319.50,757.02 319.75,758.38 320.00,759.55 320.25,760.53 320.50,761.36 320.75,762.06 321.00,762.58 321.25,762.58 321.50,762.57 321.75,762.55 322.00,762.54 322.25,762.53 322.50,762.51 322.75,762.49 323.00,762.47 323.25,762.45 323.50,762.43 323.75,762.41 324.00,762.38 324.25,762.36 324.50,762.33 324.75,762.31 325.00,762.28 325.25,762.25 325.50,762.23 325.75,762.20 326.00,762.17 326.25,762.14 326.50,762.11 326.75,762.08 327.00,762.05 327.25,762.02 327.50,761.99 327.75,761.96 328.00,761.93 328.25,761.90 328.50,761.87 328.75,761.84 329.00,761.81 329.25,761.78 329.50,761.75 329.75,761.72 330.00,761.70 330.25,761.67 330.50,761.65 330.75,761.62 331.00,761.60 331.25,761.57 331.50,761.55 331.75,761.53 332.00,761.51 332.25,761.49 332.50,761.48 332.75,761.46 333.00,761.45 333.25,761.44 333.50,761.43 333.75,761.42 334.00,761.41 334.25,761.40 334.50,761.40 334.75,761.40 335.00,761.40 335.25,761.40 335.50,761.41 335.75,761.41 336.00,761.42 336.25,761.43 336.50,761.44 336.75,761.45 337.00,761.46 337.25,761.47 337.50,761.48 337.75,761.50 338.00,761.51 338.25,761.53 338.50,761.54 338.75,761.56 339.00,761.57 339.25,761.58 339.50,761.60 339.75,761.61 340.00,761.63 340.25,761.64 340.50,761.65 340.75,761.66 341.00,761.67 341.25,761.68 341.50,761.69 341.75,761.69 342.00,761.70 342.25,761.70 342.50,761.70 342.75,761.70 343.00,761.69 343.25,761.67 343.50,761.65 343.75,761.62 344.00,761.59 344.25,761.56 344.50,761.52 344.75,761.48 345.00,761.44 345.25,761.39 345.50,761.35 345.75,761.30 346.00,761.25 346.25,761.20 346.50,761.15 346.75,761.11 347.00,761.06 347.25,761.02 347.50,760.98 347.75,760.94 348.00,760.91 348.25,760.88 348.50,760.85 348.75,760.83 349.00,760.81 349.25,760.80 349.50,760.80 349.75,760.81 350.00,760.84 350.25,760.88 350.50,760.94 350.75,761.00 351.00,761.08 351.25,761.15 351.50,761.22 351.75,761.30 352.00,761.36 352.25,761.42 352.50,761.46 352.75,761.49 353.00,761.50 353.25,761.49 353.50,761.47 353.75,761.45 354.00,761.41 354.25,761.36 354.50,761.31 354.75,761.26 355.00,761.20 355.25,761.14 355.50,761.08 355.75,761.02 356.00,760.97 356.25,760.92 356.50,760.88 356.75,760.84 357.00,760.82 357.25,760.80 357.50,760.80 357.75,760.82 358.00,760.85 358.25,760.90 358.50,760.95 358.75,761.01 359.00,761.07 359.25,761.12 359.50,760.95 359.75,760.47 360.00,759.85 360.25,759.08 360.50,758.12 360.75,756.98 361.00,755.62 361.25,754.04 361.50,752.22 361.75,750.16 362.00,747.85 362.25,745.31 362.50,742.55 362.75,739.59 363.00,736.46 363.25,733.22 363.50,729.90 363.75,726.58 364.00,723.31 364.25,720.17 364.50,717.22 364.75,714.55 365.00,712.20 365.25,710.26 365.50,708.75 365.75,707.72 366.00,707.20 366.25,707.19 366.50,707.68 366.75,708.65 367.00,710.07 367.25,711.89 367.50,714.05 367.75,716.48 368.00,719.13 368.25,721.91 368.50,724.75 368.75,727.61 369.00,730.40 369.25,733.10 369.50,735.64 369.75,738.01 370.00,740.18 370.25,742.13 370.50,743.85 370.75,745.36 371.00,746.66 371.25,747.76 371.50,748.68 371.75,749.43 372.00,750.04 372.25,750.52 372.50,750.90 372.75,750.99 373.00,750.88 373.25,750.79 373.50,750.72 373.75,750.66 374.00,750.62 374.25,750.60 374.50,750.61 374.75,750.68 375.00,750.84 375.25,751.07 375.50,751.37 375.75,751.73 376.00,752.14 376.25,752.60 376.50,753.11 376.75,753.64 377.00,754.21 377.25,754.80 377.50,755.41 377.75,756.03 378.00,756.65 378.25,757.27 378.50,757.88 378.75,758.47 379.00,759.04 379.25,759.59 379.50,760.10 379.75,760.57 380.00,760.99 380.25,761.36 380.50,761.67 380.75,761.92 381.00,762.09 381.25,762.18 381.50,762.20 381.75,762.17 382.00,762.12 382.25,762.05 382.50,761.96 382.75,761.85 383.00,761.73 383.25,761.61 383.50,761.48 383.75,761.35 384.00,761.22 384.25,761.10 384.50,760.99 384.75,760.89 385.00,760.81 385.25,760.75 385.50,760.71 385.75,760.70 386.00,760.72 386.25,760.75 386.50,760.80 386.75,760.87 387.00,760.95 387.25,761.05 387.50,761.15 387.75,761.26 388.00,761.38 388.25,761.50 388.50,761.63 388.75,761.75 389.00,761.87 389.25,761.99 389.50,762.11 389.75,762.21 390.00,762.31 390.25,762.40 390.50,762.47 390.75,762.53 391.00,762.57 391.25,762.60 391.50,762.60 391.75,762.58 392.00,762.53 392.25,762.46 392.50,762.37 392.75,762.26 393.00,762.14 393.25,761.99 393.50,761.84 393.75,761.67 394.00,761.49 394.25,761.29 394.50,761.09 394.75,760.89 395.00,760.67 395.25,760.46 395.50,760.24 395.75,760.02 396.00,759.80 396.25,759.58 396.50,759.37 396.75,759.16 397.00,758.96 397.25,758.77 397.50,758.59 397.75,758.42 398.00,758.26 398.25,758.11 398.50,757.99 398.75,757.87 399.00,757.78 399.25,757.71 399.50,757.66 399.75,757.60 400.00,757.54 400.25,757.49 400.50,757.45 400.75,757.40 401.00,757.37 401.25,757.34 401.50,757.31 401.75,757.30 402.00,757.30 402.25,757.35 402.50,757.43 402.75,757.55 403.00,757.71 403.25,757.89 403.50,758.09 403.75,758.32 404.00,758.55 404.25,758.80 404.50,759.05 404.75,759.30 405.00,759.54 405.25,759.77 405.50,759.99 405.75,760.19 406.00,760.36 406.25,760.50 406.50,760.61 406.75,760.68 407.00,760.70 407.25,760.69 407.50,760.64 407.75,760.58 408.00,760.49 408.25,760.38 408.50,760.25 408.75,760.11 409.00,759.95 409.25,759.78 409.50,759.60 409.75,759.41 410.00,759.22 410.25,759.02 410.50,758.82 410.75,758.62 411.00,758.43 411.25,758.24 411.50,758.06 411.75,757.88 412.00,757.72 412.25,757.58 412.50,757.44 412.75,757.33 413.00,757.24 413.25,757.17 413.50,757.12 413.75,757.10 414.00,757.11 414.25,757.15 414.50,757.22 414.75,757.32 415.00,757.44 415.25,757.58 415.50,757.74 415.75,757.92 416.00,758.11 416.25,758.31 416.50,758.53 416.75,758.75 417.00,758.97 417.25,759.20 417.50,759.42 417.75,759.64 418.00,759.86 418.25,760.07 418.50,760.27 418.75,760.45 419.00,760.63 419.25,760.78 419.50,760.91 419.75,761.02 420.00,761.11 420.25,761.17 420.50,761.20 420.75,761.19 421.00,761.14 421.25,761.04 421.50,760.90 421.75,760.72 422.00,760.52 422.25,760.28 422.50,760.02 422.75,759.75 423.00,759.45 423.25,759.15 423.50,758.84 423.75,758.52 424.00,758.21 424.25,757.91 424.50,757.61 424.75,757.33 425.00,757.07 425.25,756.83 425.50,756.61 425.75,756.43 426.00,756.29 426.25,756.18 426.50,756.12 426.75,756.10 427.00,756.14 427.25,756.23 427.50,756.37 427.75,756.54 428.00,756.76 428.25,757.00 428.50,757.27 428.75,757.56 429.00,757.86 429.25,758.17 429.50,758.49 429.75,758.80 430.00,759.11 430.25,759.41 430.50,759.68 430.75,759.94 431.00,760.17 431.25,760.36 431.50,760.52 431.75,760.64 432.00,760.70 432.25,760.74 432.50,760.77 432.75,760.81 433.00,760.85 433.25,760.88 433.50,760.91 433.75,760.94 434.00,760.97 434.25,761.00 434.50,761.03 434.75,761.06 435.00,761.09 435.25,761.11 435.50,761.14 435.75,761.16 436.00,761.18 436.25,761.20 436.50,761.22 436.75,761.24 437.00,761.26 437.25,761.28 437.50,761.29 437.75,761.31 438.00,761.32 438.25,761.33 438.50,761.35 438.75,761.36 439.00,761.36 439.25,761.37 439.50,761.38 439.75,761.39 440.00,761.39 440.25,761.40 440.50,761.40 440.75,761.40 441.00,761.40 441.25,761.40 441.50,761.40 441.75,761.39 442.00,761.39 442.25,761.38 442.50,761.38 442.75,761.37 443.00,761.36 443.25,761.35 443.50,761.34 443.75,761.33 444.00,761.32 444.25,761.30 444.50,761.29 444.75,761.28 445.00,761.26 445.25,761.24 445.50,761.23 445.75,761.21 446.00,761.19 446.25,761.17 446.50,761.15 446.75,761.13 447.00,761.11 447.25,761.09 447.50,761.06 447.75,761.04 448.00,761.02 448.25,761.00 448.50,760.97 448.75,760.95 449.00,760.92 449.25,760.90 449.50,760.87 449.75,760.85 450.00,760.82 450.25,760.80 450.50,760.77 450.75,760.75 451.00,760.72 451.25,760.69 451.50,760.67 451.75,760.64 452.00,760.62 452.25,760.59 452.50,760.57 452.75,760.54 453.00,760.52 453.25,760.49 453.50,760.47 453.75,760.44 454.00,760.42 454.25,760.40 454.50,760.37 454.75,760.35 455.00,760.33 455.25,760.30 455.50,760.28 455.75,760.26 456.00,760.24 456.25,760.22 456.50,760.20 456.75,760.19 457.00,760.17 457.25,760.15 457.50,760.13 457.75,760.12 458.00,760.10 458.25,760.09 458.50,760.08 458.75,760.06 459.00,760.05 459.25,760.04 459.50,760.03 459.75,760.03 460.00,760.02 460.25,760.01 460.50,760.01 460.75,760.00 461.00,760.00 461.25,760.00 461.50,760.00 461.75,760.01 462.00,760.03 462.25,760.06 462.50,760.10 462.75,760.15 463.00,760.20 463.25,760.25 463.50,760.30 463.75,760.36 464.00,760.42 464.25,760.47 464.50,760.53 464.75,760.57 465.00,760.62 465.25,760.65 465.50,760.68 465.75,760.69 466.00,760.70 466.25,760.69 466.50,760.67 466.75,760.62 467.00,760.57 467.25,760.50 467.50,760.42 467.75,760.33 468.00,760.23 468.25,760.12 468.50,760.01 468.75,759.88 469.00,759.76 469.25,759.63 469.50,759.50 469.75,759.37 470.00,759.24 470.25,759.12 470.50,758.99 470.75,758.87 471.00,758.76 471.25,758.65 471.50,758.55 471.75,758.46 472.00,758.39 472.25,758.32 472.50,758.27 472.75,758.23 473.00,758.21 473.25,758.20 473.50,758.22 473.75,758.26 474.00,758.31 474.25,758.39 474.50,758.47 474.75,758.56 475.00,758.66 475.25,758.76 475.50,758.86 475.75,758.50 476.00,757.23 476.25,755.69 476.50,753.84 476.75,751.63 477.00,749.03 477.25,746.01 477.50,742.54 477.75,738.60 478.00,734.15 478.25,729.18 478.50,723.68 478.75,717.65 479.00,711.09 479.25,704.03 479.50,696.51 479.75,688.59 480.00,680.32 480.25,671.80 480.50,663.11 480.75,654.39 481.00,645.73 481.25,637.28 481.50,629.17 481.75,621.54 482.00,614.51 482.25,608.23 482.50,602.82 482.75,598.37 483.00,594.97 483.25,592.70 483.50,591.61 483.75,591.70 484.00,592.99 484.25,595.44 484.50,599.00 484.75,603.60 485.00,609.15 485.25,615.54 485.50,622.64 485.75,630.33 486.00,638.47 486.25,646.92 486.50,655.56 486.75,664.23 487.00,672.84 487.25,681.27 487.50,689.43 487.75,697.23 488.00,704.61 488.25,711.52 488.50,717.92 488.75,723.80 489.00,729.14 489.25,733.95 489.50,738.24 489.75,742.04 490.00,745.36 490.25,748.25 490.50,750.73 490.75,752.85 491.00,754.64 491.25,756.10 491.50,757.25 491.75,757.25 492.00,757.02 492.25,756.78 492.50,756.53 492.75,756.31 493.00,756.12 493.25,755.98 493.50,755.91 493.75,755.93 494.00,756.08 494.25,756.35 494.50,756.71 494.75,757.11 495.00,757.55 495.25,757.98 495.50,758.38 495.75,758.71 496.00,758.96 496.25,759.09 496.50,759.12 496.75,759.15 497.00,759.18 497.25,759.21 497.50,759.23 497.75,759.26 498.00,759.28 498.25,759.30 498.50,759.33 498.75,759.35 499.00,759.37 499.25,759.39 499.50,759.41 499.75,759.42 500.00,759.44 500.25,759.46 500.50,759.47 500.75,759.49 501.00,758.68 501.25,757.28 501.50,755.62 501.75,753.67 502.00,751.42 502.25,748.87 502.50,746.01 502.75,742.88 503.00,739.49 503.25,735.90 503.50,732.17 503.75,728.36 504.00,724.58 504.25,720.91 504.50,717.46 504.75,714.32 505.00,711.60 505.25,709.38 505.50,707.74 505.75,706.74 506.00,706.40 506.25,706.48 506.50,706.72 506.75,707.12 507.00,707.66 507.25,708.35 507.50,709.19 507.75,710.15 508.00,711.25 508.25,712.46 508.50,713.79 508.75,715.21 509.00,716.72 509.25,718.31 509.50,719.97 509.75,721.69 510.00,723.45 510.25,725.25 510.50,727.06 510.75,728.90 511.00,730.73 511.25,732.55 511.50,734.36 511.75,736.15 512.00,737.90 512.25,739.61 512.50,741.27 512.75,742.89 513.00,744.44 513.25,745.94 513.50,747.37 513.75,748.73 514.00,750.03 514.25,751.26 514.50,752.42 514.75,753.51 515.00,754.53 515.25,755.48 515.50,756.37 515.75,757.19 516.00,757.95 516.25,758.66 516.50,759.30 516.75,759.89 517.00,760.00 517.25,760.01 517.50,760.03 517.75,760.05 518.00,760.07 518.25,760.09 518.50,760.11 518.75,760.14 519.00,760.16 519.25,760.18 519.50,760.21 519.75,760.26 520.00,760.33 520.25,760.42 520.50,760.53 520.75,760.65 521.00,760.78 521.25,760.93 521.50,761.08 521.75,761.23 522.00,761.39 522.25,761.54 522.50,761.70 522.75,761.84 523.00,761.98 523.25,762.11 523.50,762.22 523.75,762.32 524.00,762.40 524.25,762.46 524.50,762.49 524.75,762.50 525.00,762.50 525.25,762.49 525.50,762.49 525.75,762.48 526.00,762.47 526.25,762.46 526.50,762.45 526.75,762.43 527.00,762.41 527.25,762.39 527.50,762.37 527.75,762.35 528.00,762.33 528.25,762.31 528.50,762.28 528.75,762.25 529.00,762.23 529.25,762.20 529.50,762.17 529.75,762.14 530.00,762.11 530.25,762.08 530.50,762.05 530.75,762.01 531.00,761.98 531.25,761.95 531.50,761.91 531.75,761.88 532.00,761.85 532.25,761.81 532.50,761.78 532.75,761.74 533.00,761.71 533.25,761.68 533.50,761.64 533.75,761.61 534.00,761.58 534.25,761.55 534.50,761.52 534.75,761.49 535.00,761.46 535.25,761.43 535.50,761.40 535.75,761.38 536.00,761.35 536.25,761.33 536.50,761.30 536.75,761.28 537.00,761.26 537.25,761.25 537.50,761.23 537.75,761.21 538.00,761.20 538.25,761.19 538.50,761.18 538.75,761.16 539.00,761.15 539.25,761.14 539.50,761.04 539.75,760.77 540.00,760.43 540.25,760.01 540.50,759.50 540.75,758.89 541.00,758.16 541.25,757.32 541.50,756.35 541.75,755.24 542.00,754.02 542.25,752.67 542.50,751.21 542.75,749.67 543.00,748.07 543.25,746.44 543.50,744.82 543.75,743.25 544.00,741.77 544.25,740.43 544.50,739.26 544.75,738.30 545.00,737.59 545.25,737.15 545.50,737.00 545.75,737.14 546.00,737.56 546.25,738.25 546.50,739.18 546.75,740.33 547.00,741.66 547.25,743.12 547.50,744.68 547.75,746.28 548.00,747.89 548.25,749.47 548.50,750.99 548.75,752.43 549.00,753.76 549.25,754.97 549.50,756.06 549.75,757.01 550.00,757.84 550.25,758.55 550.50,759.14 550.75,759.64 551.00,760.04 551.25,760.37 551.50,760.63 551.75,760.71 552.00,760.70 552.25,760.70 552.50,760.70 552.75,760.70 553.00,760.70 553.25,760.70 553.50,760.70 553.75,760.70 554.00,760.70 554.25,760.71 554.50,760.71 554.75,760.07 555.00,759.24 555.25,758.22 555.50,757.00 555.75,755.54 556.00,753.82 556.25,751.82 556.50,749.51 556.75,746.88 557.00,743.92 557.25,740.63 557.50,737.02 557.75,733.10 558.00,728.92 558.25,724.51 558.50,719.94 558.75,715.27 559.00,710.59 559.25,705.97 559.50,701.53 559.75,697.35 560.00,693.53 560.25,690.18 560.50,687.36 560.75,685.16 561.00,683.64 561.25,682.83 561.50,682.76 561.75,683.44 562.00,684.84 562.25,686.92 562.50,689.63 562.75,692.90 563.00,696.65 563.25,700.78 563.50,705.19 563.75,709.79 564.00,714.48 564.25,719.18 564.50,723.79 564.75,728.24 565.00,732.49 565.25,736.47 565.50,740.15 565.75,743.52 566.00,746.56 566.25,749.26 566.50,751.64 566.75,753.71 567.00,755.49 567.25,757.00 567.50,758.28 567.75,759.33 568.00,760.19 568.25,760.83 568.50,760.82 568.75,760.69 569.00,760.52 569.25,760.34 569.50,760.14 569.75,759.93 570.00,759.71 570.25,759.50 570.50,759.30 570.75,759.11 571.00,758.94 571.25,758.80 571.50,758.69 571.75,758.62 572.00,758.60 572.25,758.63 572.50,758.70 572.75,758.82 573.00,758.97 573.25,759.16 573.50,759.37 573.75,759.60 574.00,759.86 574.25,760.12 574.50,760.38 574.75,760.65 575.00,760.92 575.25,761.17 575.50,761.40 575.75,761.62 576.00,761.81 576.25,761.97 576.50,762.09 576.75,762.17 577.00,762.20 577.25,762.21 577.50,762.21 577.75,762.22 578.00,762.22 578.25,762.23 578.50,762.23 578.75,762.24 579.00,762.24 579.25,762.25 579.50,762.25 579.75,762.26 580.00,762.26 580.25,762.27 580.50,762.27 580.75,762.28 581.00,762.28 581.25,762.29 581.50,762.29 581.75,762.29 582.00,762.30 582.25,762.30 582.50,762.31 582.75,762.31 583.00,762.31 583.25,762.32 583.50,762.32 583.75,762.32 584.00,762.33 584.25,762.33 584.50,762.33 584.75,762.34 585.00,762.34 585.25,762.34 585.50,762.34 585.75,762.35 586.00,762.35 586.25,762.35 586.50,762.36 586.75,762.36 587.00,762.36 587.25,762.36 587.50,762.36 587.75,762.37 588.00,762.37 588.25,762.37 588.50,762.37 588.75,762.37 589.00,762.38 589.25,762.38 589.50,762.38 589.75,762.38 590.00,762.38 590.25,762.38 590.50,762.38 590.75,762.39 591.00,762.39 591.25,762.39 591.50,762.39 591.75,762.39 592.00,762.39 592.25,762.39 592.50,762.39 592.75,762.39 593.00,762.39 593.25,762.39 593.50,762.40 593.75,762.40 594.00,762.40 594.25,762.40 594.50,762.40 594.75,762.40 595.00,762.40 595.25,762.40 595.50,762.40 595.75,762.40 596.00,762.40 596.25,762.40 596.50,762.40 596.75,762.40 597.00,762.40 597.25,762.40 597.50,762.40 597.65,762.40" fill="none" stroke="#111" stroke-width="1.4" stroke-linejoin="round"/><polyline points="28.25,992.29 28.50,991.98 28.75,991.68 29.00,991.40 29.25,991.14 29.50,990.89 29.75,990.67 30.00,990.46 30.25,990.29 30.50,990.14 30.75,990.03 31.00,989.95 31.25,989.91 31.50,989.90 31.75,989.94 32.00,990.01 32.25,990.11 32.50,990.23 32.75,990.38 33.00,990.54 33.25,990.71 33.50,990.89 33.75,991.07 34.00,991.25 34.25,991.43 34.50,991.59 34.75,991.74 35.00,991.87 35.25,991.98 35.50,992.05 35.75,992.09 36.00,992.09 36.25,991.67 36.50,990.93 36.75,990.02 37.00,988.94 37.25,987.69 37.50,986.27 37.75,984.65 38.00,982.77 38.25,980.63 38.50,978.20 38.75,975.50 39.00,972.53 39.25,969.32 39.50,965.88 39.75,962.28 40.00,958.55 40.25,954.76 40.50,951.00 40.75,947.33 41.00,943.84 41.25,940.62 41.50,937.75 41.75,935.31 42.00,933.36 42.25,931.98 42.50,931.19 42.75,931.02 43.00,931.47 43.25,932.54 43.50,934.18 43.75,936.36 44.00,939.01 44.25,942.07 44.50,945.43 44.75,949.04 45.00,952.78 45.25,956.59 45.50,960.39 45.75,964.10 46.00,967.67 46.25,971.04 46.50,974.18 46.75,977.06 47.00,979.66 47.25,981.99 47.50,984.04 47.75,985.82 48.00,987.35 48.25,988.64 48.50,989.73 48.75,990.63 49.00,991.32 49.25,991.73 49.50,991.57 49.75,991.16 50.00,990.65 50.25,990.05 50.50,989.38 50.75,988.65 51.00,987.87 51.25,987.05 51.50,986.21 51.75,985.35 52.00,984.49 52.25,983.65 52.50,982.83 52.75,982.05 53.00,981.32 53.25,980.65 53.50,980.05 53.75,979.54 54.00,979.13 54.25,978.82 54.50,978.65 54.75,978.60 55.00,978.70 55.25,978.91 55.50,979.24 55.75,979.67 56.00,980.19 56.25,980.79 56.50,981.45 56.75,982.18 57.00,982.95 57.25,983.76 57.50,984.59 57.75,985.43 58.00,986.28 58.25,987.11 58.50,987.93 58.75,988.72 59.00,989.46 59.25,990.15 59.50,990.78 59.75,991.33 60.00,991.80 60.25,992.17 60.50,992.43 60.75,992.58 61.00,992.60 61.25,992.55 61.50,992.47 61.75,992.35 62.00,992.21 62.25,992.05 62.50,991.88 62.75,991.71 63.00,991.55 63.25,991.40 63.50,991.27 63.75,991.18 64.00,991.12 64.25,991.10 64.50,991.13 64.75,991.19 65.00,991.28 65.25,991.39 65.50,991.53 65.75,991.68 66.00,991.85 66.25,992.02 66.50,992.20 66.75,992.38 67.00,992.55 67.25,992.72 67.50,992.87 67.75,993.01 68.00,993.12 68.25,993.21 68.50,993.27 68.75,993.30 69.00,993.29 69.25,993.28 69.50,993.24 69.75,993.20 70.00,993.14 70.25,993.07 70.50,993.00 70.75,992.91 71.00,992.82 71.25,992.73 71.50,992.63 71.75,992.53 72.00,992.43 72.25,992.33 72.50,992.23 72.75,992.13 73.00,992.04 73.25,991.95 73.50,991.87 73.75,991.80 74.00,991.74 74.25,991.68 74.50,991.64 74.75,991.62 75.00,991.60 75.25,991.63 75.50,991.77 75.75,992.03 76.00,992.37 76.25,992.78 76.50,993.23 76.75,993.69 77.00,994.16 77.25,994.59 77.50,994.98 77.75,995.29 78.00,995.50 78.25,995.60 78.50,995.56 78.75,995.41 79.00,995.16 79.25,994.85 79.50,994.48 79.75,994.10 80.00,993.72 80.25,993.35 80.50,993.04 80.75,992.79 81.00,992.64 81.25,992.60 81.50,992.64 81.75,992.71 82.00,992.81 82.25,992.91 82.50,993.01 82.75,993.07 83.00,993.10 83.25,993.10 83.50,993.10 83.75,993.03 84.00,991.93 84.25,990.46 84.50,988.54 84.75,986.09 85.00,983.02 85.25,979.28 85.50,974.84 85.75,969.68 86.00,963.87 86.25,957.49 86.50,950.70 86.75,943.70 87.00,936.76 87.25,930.16 87.50,924.19 87.75,919.14 88.00,915.27 88.25,912.75 88.50,911.70 88.75,912.12 89.00,913.90 89.25,916.84 89.50,920.60 89.75,924.77 90.00,928.85 90.25,932.26 90.50,934.36 90.75,934.42 91.00,931.69 91.25,925.30 91.50,914.33 91.75,897.76 92.00,874.47 92.25,843.27 92.50,802.85 92.75,767.30 93.00,767.30 93.25,767.30 93.50,767.30 93.75,767.30 94.00,767.30 94.25,767.30 94.50,767.30 94.75,767.30 95.00,767.30 95.25,767.30 95.50,767.30 95.75,767.30 96.00,767.30 96.25,767.30 96.50,767.30 96.75,767.30 97.00,767.30 97.25,767.30 97.50,767.30 97.75,767.30 98.00,767.30 98.25,767.30 98.50,767.30 98.75,767.30 99.00,767.30 99.25,767.30 99.50,767.30 99.75,767.30 100.00,767.30 100.25,767.30 100.50,767.30 100.75,767.30 101.00,767.30 101.25,767.30 101.50,767.30 101.75,767.30 102.00,767.30 102.25,767.30 102.50,767.30 102.75,767.30 103.00,799.03 103.25,863.92 103.50,908.56 103.75,938.62 104.00,958.45 104.25,971.25 104.50,979.35 104.75,983.92 105.00,986.24 105.25,987.02 105.50,986.67 105.75,985.45 106.00,983.56 106.25,981.17 106.50,978.49 106.75,975.78 107.00,973.33 107.25,971.45 107.50,970.37 107.75,970.26 108.00,971.15 108.25,972.94 108.50,975.45 108.75,978.39 109.00,981.48 109.25,984.45 109.50,987.11 109.75,989.32 110.00,991.06 110.25,992.31 110.50,993.10 110.75,993.54 111.00,993.53 111.25,993.27 111.50,992.97 111.75,992.66 112.00,992.35 112.25,992.05 112.50,991.77 112.75,991.52 113.00,991.32 113.25,991.18 113.50,991.11 113.75,991.12 114.00,991.23 114.25,991.42 114.50,991.68 114.75,991.98 115.00,992.32 115.25,992.67 115.50,993.02 115.75,993.34 116.00,993.63 116.25,993.86 116.50,994.03 116.75,994.10 117.00,994.08 117.25,994.01 117.50,993.88 117.75,993.72 118.00,993.53 118.25,993.32 118.50,993.09 118.75,992.86 119.00,992.64 119.25,992.43 119.50,992.24 119.75,992.09 120.00,991.98 120.25,991.91 120.50,991.90 120.75,991.90 121.00,991.91 121.25,991.92 121.50,991.93 121.75,991.95 122.00,991.97 122.25,991.99 122.50,992.01 122.75,992.03 123.00,992.06 123.25,992.08 123.50,992.11 123.75,992.14 124.00,992.17 124.25,992.20 124.50,992.23 124.75,992.26 125.00,992.29 125.25,992.32 125.50,992.35 125.75,992.38 126.00,992.41 126.25,992.44 126.50,992.48 126.75,992.52 127.00,992.56 127.25,992.60 127.50,992.64 127.75,992.69 128.00,992.74 128.25,992.78 128.50,992.83 128.75,992.88 129.00,992.93 129.25,992.97 129.50,993.02 129.75,993.06 130.00,993.10 130.25,993.14 130.50,993.18 130.75,993.21 131.00,993.23 131.25,993.26 131.50,993.28 131.75,993.29 132.00,993.30 132.25,993.30 132.50,993.28 132.75,993.24 133.00,993.18 133.25,993.10 133.50,993.00 133.75,992.89 134.00,992.76 134.25,992.63 134.50,992.49 134.75,992.35 135.00,992.20 135.25,992.05 135.50,991.91 135.75,991.77 136.00,991.64 136.25,991.51 136.50,991.40 136.75,991.30 137.00,991.22 137.25,991.16 137.50,991.12 137.75,991.10 138.00,991.11 138.25,991.17 138.50,991.26 138.75,991.39 139.00,991.55 139.25,991.73 139.50,991.93 139.75,992.16 140.00,992.39 140.25,992.64 140.50,992.89 140.75,993.14 141.00,993.39 141.25,993.63 141.50,993.87 141.75,994.08 142.00,994.28 142.25,994.45 142.50,994.60 142.75,994.72 143.00,994.80 143.25,994.86 143.50,994.92 143.75,994.98 144.00,995.04 144.25,995.09 144.50,995.15 144.75,995.20 145.00,995.25 145.25,995.30 145.50,995.34 145.75,995.39 146.00,995.43 146.25,995.48 146.50,995.52 146.75,995.55 147.00,995.59 147.25,995.63 147.50,995.66 147.75,995.69 148.00,995.72 148.25,995.75 148.50,995.77 148.75,995.79 149.00,995.81 149.25,995.83 149.50,995.85 149.75,995.86 150.00,995.88 150.25,995.89 150.50,995.90 150.75,995.90 151.00,995.91 151.25,995.91 151.50,995.92 151.75,995.92 152.00,995.93 152.25,995.93 152.50,995.93 152.75,995.94 153.00,995.94 153.25,995.95 153.50,995.95 153.75,995.95 154.00,995.96 154.25,995.96 154.50,995.96 154.75,995.97 155.00,995.97 155.25,995.97 155.50,995.98 155.75,995.98 156.00,995.98 156.25,995.98 156.50,995.99 156.75,995.99 157.00,995.99 157.25,995.99 157.50,995.99 157.75,995.99 158.00,996.00 158.25,996.00 158.50,996.00 158.75,996.00 159.00,996.00 159.25,996.00 159.50,996.00 159.75,996.00 160.00,996.00 160.25,996.00 160.50,995.99 160.75,995.97 161.00,995.96 161.25,995.93 161.50,995.91 161.75,995.88 162.00,995.84 162.25,995.81 162.50,995.77 162.75,995.73 163.00,995.68 163.25,995.64 163.50,995.59 163.75,995.55 164.00,995.51 164.25,995.46 164.50,995.42 164.75,995.37 165.00,995.33 165.25,995.29 165.50,995.26 165.75,995.22 166.00,995.19 166.25,995.17 166.50,995.14 166.75,995.13 167.00,995.11 167.25,995.10 167.50,995.10 167.75,995.10 168.00,995.10 168.25,995.11 168.50,995.12 168.75,995.13 169.00,995.14 169.25,995.15 169.50,995.17 169.75,995.19 170.00,995.21 170.25,995.23 170.50,995.25 170.75,995.27 171.00,995.29 171.25,995.32 171.50,995.34 171.75,995.37 172.00,995.40 172.25,995.42 172.50,995.45 172.75,995.48 173.00,995.51 173.25,995.54 173.50,995.57 173.75,995.60 174.00,995.62 174.25,995.65 174.50,995.68 174.75,995.71 175.00,995.74 175.25,995.76 175.50,995.79 175.75,995.81 176.00,995.83 176.25,995.86 176.50,995.88 176.75,995.90 177.00,995.92 177.25,995.93 177.50,995.95 177.75,995.96 178.00,995.97 178.25,995.98 178.50,995.99 178.75,996.00 179.00,996.00 179.25,996.00 179.50,996.00 179.75,996.00 180.00,996.00 180.25,996.00 180.50,996.00 180.75,996.00 181.00,996.00 181.25,996.00 181.50,996.00 181.75,995.99 182.00,995.99 182.25,995.99 182.50,995.99 182.75,995.99 183.00,995.99 183.25,995.98 183.50,995.98 183.75,995.98 184.00,995.98 184.25,995.98 184.50,995.97 184.75,995.97 185.00,995.97 185.25,995.97 185.50,995.96 185.75,995.96 186.00,995.96 186.25,995.96 186.50,995.95 186.75,995.95 187.00,995.95 187.25,995.94 187.50,995.94 187.75,995.94 188.00,995.93 188.25,995.93 188.50,995.92 188.75,995.92 189.00,995.92 189.25,995.91 189.50,995.91 189.75,995.90 190.00,995.90 190.25,995.89 190.50,995.88 190.75,995.87 191.00,995.86 191.25,995.84 191.50,995.82 191.75,995.79 192.00,995.77 192.25,995.74 192.50,995.71 192.75,995.68 193.00,995.65 193.25,995.62 193.50,995.59 193.75,995.56 194.00,995.52 194.25,995.49 194.50,995.45 194.75,995.42 195.00,995.39 195.25,995.36 195.50,995.32 195.75,995.29 196.00,995.27 196.25,995.24 196.50,995.21 196.75,995.19 197.00,995.17 197.25,995.15 197.50,995.13 197.75,995.12 198.00,995.11 198.25,995.10 198.50,995.10 198.75,995.10 199.00,995.10 199.25,995.11 199.50,995.12 199.75,995.13 200.00,995.14 200.25,995.15 200.50,995.17 200.75,995.18 201.00,995.20 201.25,995.22 201.50,995.25 201.75,995.27 202.00,995.29 202.25,995.32 202.50,995.34 202.75,995.37 203.00,995.40 203.25,995.43 203.50,995.46 203.75,995.49 204.00,995.51 204.25,995.54 204.50,995.57 204.75,995.60 205.00,995.63 205.25,995.66 205.50,995.69 205.75,995.72 206.00,995.75 206.25,995.77 206.50,995.80 206.75,995.82 207.00,995.85 207.25,995.87 207.50,995.89 207.75,995.91 208.00,995.93 208.25,995.94 208.50,995.96 208.75,995.97 209.00,995.98 209.25,995.99 209.50,995.99 209.75,996.00 210.00,996.00 210.25,996.00 210.50,996.00 210.75,996.00 211.00,996.00 211.25,996.00 211.50,996.00 211.75,996.00 212.00,996.00 212.25,996.00 212.50,996.00 212.75,996.00 213.00,996.00 213.25,996.00 213.50,996.00 213.75,996.00 214.00,996.00 214.25,996.00 214.50,996.00 214.75,996.00 215.00,996.00 215.25,996.00 215.50,996.00 215.75,996.00 216.00,996.00 216.25,996.00 216.50,996.00 216.75,996.00 217.00,996.00 217.25,996.00 217.50,996.00 217.75,996.00 218.00,996.00 218.25,996.00 218.50,996.00 218.75,996.00 219.00,996.00 219.25,996.00 219.50,996.00 219.75,996.00 220.00,996.00 220.25,996.00 220.50,996.00 220.75,996.00 221.00,996.00 221.25,996.00 221.50,995.99 221.75,995.99 222.00,995.98 222.25,995.97 222.50,995.97 222.75,995.96 223.00,995.95 223.25,995.94 223.50,995.93 223.75,995.91 224.00,995.90 224.25,995.89 224.50,995.87 224.75,995.86 225.00,995.84 225.25,995.83 225.50,995.81 225.75,995.79 226.00,995.78 226.25,995.76 226.50,995.74 226.75,995.72 227.00,995.70 227.25,995.68 227.50,995.67 227.75,995.65 228.00,995.63 228.25,995.61 228.50,995.59 228.75,995.57 229.00,995.55 229.25,995.53 229.50,995.51 229.75,995.49 230.00,995.47 230.25,995.46 230.50,995.44 230.75,995.42 231.00,995.40 231.25,995.39 231.50,995.37 231.75,995.35 232.00,995.34 232.25,995.32 232.50,995.31 232.75,995.30 233.00,995.28 233.25,995.27 233.50,995.26 233.75,995.25 234.00,995.24 234.25,995.23 234.50,995.22 234.75,995.22 235.00,995.21 235.25,995.21 235.50,995.20 235.75,995.20 236.00,995.20 236.25,995.20 236.50,995.20 236.75,995.20 237.00,995.21 237.25,995.21 237.50,995.22 237.75,995.23 238.00,995.24 238.25,995.25 238.50,995.26 238.75,995.27 239.00,995.28 239.25,995.29 239.50,995.31 239.75,995.32 240.00,995.33 240.25,995.35 240.50,995.37 240.75,995.38 241.00,995.40 241.25,995.42 241.50,995.43 241.75,995.45 242.00,995.47 242.25,995.49 242.50,995.51 242.75,995.53 243.00,995.55 243.25,995.57 243.50,995.58 243.75,995.60 244.00,995.62 244.25,995.64 244.50,995.66 244.75,995.68 245.00,995.69 245.25,995.71 245.50,995.73 245.75,995.74 246.00,995.76 246.25,995.77 246.50,995.79 246.75,995.80 247.00,995.82 247.25,995.83 247.50,995.84 247.75,995.85 248.00,995.86 248.25,995.87 248.50,995.88 248.75,995.88 249.00,995.89 249.25,995.89 249.50,995.90 249.75,995.90 250.00,995.90 250.25,995.90 250.50,995.90 250.75,995.89 251.00,995.89 251.25,995.88 251.50,995.88 251.75,995.87 252.00,995.86 252.25,995.85 252.50,995.84 252.75,995.83 253.00,995.81 253.25,995.80 253.50,995.78 253.75,995.77 254.00,995.75 254.25,995.74 254.50,995.72 254.75,995.70 255.00,995.68 255.25,995.66 255.50,995.64 255.75,995.63 256.00,995.61 256.25,995.59 256.50,995.57 256.75,995.55 257.00,995.52 257.25,995.50 257.50,995.48 257.75,995.46 258.00,995.44 258.25,995.42 258.50,995.40 258.75,995.38 259.00,995.36 259.25,995.34 259.50,995.32 259.75,995.31 260.00,995.29 260.25,995.27 260.50,995.25 260.75,995.24 261.00,995.22 261.25,995.21 261.50,995.19 261.75,995.18 262.00,995.17 262.25,995.16 262.50,995.14 262.75,995.14 263.00,995.13 263.25,995.12 263.50,995.11 263.75,995.11 264.00,995.10 264.25,995.10 264.50,995.10 264.75,995.10 265.00,995.11 265.25,995.13 265.50,995.15 265.75,995.18 266.00,995.22 266.25,995.26 266.50,995.30 266.75,995.34 267.00,995.39 267.25,995.44 267.50,995.49 267.75,995.54 268.00,995.58 268.25,995.63 268.50,995.67 268.75,995.70 269.00,995.74 269.25,995.76 269.50,995.78 269.75,995.80 270.00,995.80 270.25,995.80 270.50,995.80 270.75,995.80 271.00,995.79 271.25,995.70 271.50,995.59 271.75,995.44 272.00,995.25 272.25,995.01 272.50,994.73 272.75,994.39 273.00,993.99 273.25,993.55 273.50,993.06 273.75,992.53 274.00,991.98 274.25,991.42 274.50,990.88 274.75,990.36 275.00,989.91 275.25,989.53 275.50,989.24 275.75,989.06 276.00,989.00 276.25,989.06 276.50,989.24 276.75,989.53 277.00,989.91 277.25,990.36 277.50,990.88 277.75,991.42 278.00,991.98 278.25,992.53 278.50,993.06 278.75,993.55 279.00,993.99 279.25,994.39 279.50,994.73 279.75,995.01 280.00,995.25 280.25,995.44 280.50,995.59 280.75,995.70 281.00,995.79 281.25,995.80 281.50,995.80 281.75,995.80 282.00,995.80 282.25,995.80 282.50,995.80 282.75,995.80 283.00,995.79 283.25,995.77 283.50,995.75 283.75,995.73 284.00,995.70 284.25,995.66 284.50,995.62 284.75,995.58 285.00,995.53 285.25,995.48 285.50,995.42 285.75,995.35 286.00,995.29 286.25,995.22 286.50,995.14 286.75,995.07 287.00,994.98 287.25,994.90 287.50,994.70 287.75,994.45 288.00,994.16 288.25,993.81 288.50,993.41 288.75,992.95 289.00,992.42 289.25,991.81 289.50,991.14 289.75,990.39 290.00,989.57 290.25,988.70 290.50,987.77 290.75,986.81 291.00,985.84 291.25,984.88 291.50,983.95 291.75,983.08 292.00,982.29 292.25,981.60 292.50,981.04 292.75,980.63 293.00,980.36 293.25,980.26 293.50,980.31 293.75,980.52 294.00,980.86 294.25,981.33 294.50,981.90 294.75,982.55 295.00,983.26 295.25,983.99 295.50,984.73 295.75,985.45 296.00,986.14 296.25,986.79 296.50,987.37 296.75,987.90 297.00,988.35 297.25,988.73 297.50,989.05 297.75,989.31 298.00,989.50 298.25,989.65 298.50,989.76 298.75,989.83 299.00,989.83 299.25,989.74 299.50,989.65 299.75,989.55 300.00,989.45 300.25,989.36 300.50,989.27 300.75,989.18 301.00,989.10 301.25,989.03 301.50,988.97 301.75,988.93 302.00,988.91 302.25,988.90 302.50,988.92 302.75,988.95 303.00,989.01 303.25,989.09 303.50,989.17 303.75,989.28 304.00,989.39 304.25,989.51 304.50,989.63 304.75,989.76 305.00,989.89 305.25,990.01 305.50,990.13 305.75,990.25 306.00,990.24 306.25,989.65 306.50,988.92 306.75,988.01 307.00,986.91 307.25,985.59 307.50,984.03 307.75,982.21 308.00,980.11 308.25,977.71 308.50,975.00 308.75,971.99 309.00,968.68 309.25,965.09 309.50,961.24 309.75,957.18 310.00,952.94 310.25,948.59 310.50,944.19 310.75,939.83 311.00,935.58 311.25,931.53 311.50,927.78 311.75,924.40 312.00,921.47 312.25,919.07 312.50,917.27 312.75,916.10 313.00,915.61 313.25,915.80 313.50,916.67 313.75,918.21 314.00,920.39 314.25,923.13 314.50,926.40 314.75,930.10 315.00,934.15 315.25,938.48 315.50,942.99 315.75,947.59 316.00,952.20 316.25,956.76 316.50,961.18 316.75,965.41 317.00,969.42 317.25,973.15 317.50,976.60 317.75,979.73 318.00,982.55 318.25,985.06 318.50,987.27 318.75,989.20 319.00,990.86 319.25,992.27 319.50,993.46 319.75,994.46 320.00,995.28 320.25,995.96 320.50,995.98 320.75,996.00 321.00,996.02 321.25,996.04 321.50,996.06 321.75,996.07 322.00,996.09 322.25,996.11 322.50,996.13 322.75,996.14 323.00,996.16 323.25,996.17 323.50,996.19 323.75,996.20 324.00,996.22 324.25,996.23 324.50,996.25 324.75,996.26 325.00,996.27 325.25,996.28 325.50,996.29 325.75,996.31 326.00,996.32 326.25,996.33 326.50,996.33 326.75,996.34 327.00,996.35 327.25,996.36 327.50,996.37 327.75,996.37 328.00,996.38 328.25,996.38 328.50,996.39 328.75,996.39 329.00,996.39 329.25,996.40 329.50,996.40 329.75,996.40 330.00,996.40 330.25,996.39 330.50,996.35 330.75,996.30 331.00,996.23 331.25,996.14 331.50,996.04 331.75,995.93 332.00,995.80 332.25,995.67 332.50,995.53 332.75,995.39 333.00,995.25 333.25,995.11 333.50,994.97 333.75,994.83 334.00,994.70 334.25,994.57 334.50,994.46 334.75,994.36 335.00,994.27 335.25,994.20 335.50,994.15 335.75,994.11 336.00,994.10 336.25,994.11 336.50,994.13 336.75,994.16 337.00,994.20 337.25,994.25 337.50,994.30 337.75,994.31 338.00,994.03 338.25,993.67 338.50,993.22 338.75,992.66 339.00,991.98 339.25,991.17 339.50,990.22 339.75,989.12 340.00,987.87 340.25,986.46 340.50,984.90 340.75,983.19 341.00,981.33 341.25,979.35 341.50,977.27 341.75,975.11 342.00,972.92 342.25,970.73 342.50,968.58 342.75,966.52 343.00,964.59 343.25,962.85 343.50,961.33 343.75,960.08 344.00,959.12 344.25,958.50 344.50,958.21 344.75,958.28 345.00,958.71 345.25,959.47 345.50,960.55 345.75,961.93 346.00,963.56 346.25,965.41 346.50,967.43 346.75,969.58 347.00,971.80 347.25,974.06 347.50,976.32 347.75,978.52 348.00,980.64 348.25,982.66 348.50,984.55 348.75,986.29 349.00,987.88 349.25,989.31 349.50,990.58 349.75,991.69 350.00,992.66 350.25,993.50 350.50,994.20 350.75,994.79 351.00,995.29 351.25,995.69 351.50,996.00 351.75,996.00 352.00,996.00 352.25,996.00 352.50,996.00 352.75,996.00 353.00,996.00 353.25,996.00 353.50,996.00 353.75,995.99 354.00,995.99 354.25,995.99 354.50,995.99 354.75,995.99 355.00,995.99 355.25,995.98 355.50,995.98 355.75,995.98 356.00,995.98 356.25,995.97 356.50,995.97 356.75,995.97 357.00,995.97 357.25,995.96 357.50,995.96 357.75,995.96 358.00,995.95 358.25,995.95 358.50,995.95 358.75,995.94 359.00,995.94 359.25,995.94 359.50,995.93 359.75,995.93 360.00,995.93 360.25,995.92 360.50,995.92 360.75,995.92 361.00,995.91 361.25,995.91 361.50,995.91 361.75,995.90 362.00,995.90 362.25,995.90 362.50,995.89 362.75,995.89 363.00,995.89 363.25,995.89 363.50,995.88 363.75,995.88 364.00,995.88 364.25,995.84 364.50,995.71 364.75,995.55 365.00,995.34 365.25,995.09 365.50,994.79 365.75,994.43 366.00,994.01 366.25,993.52 366.50,992.96 366.75,992.35 367.00,991.67 367.25,990.94 367.50,990.18 367.75,989.39 368.00,988.60 368.25,987.83 368.50,987.10 368.75,986.42 369.00,985.84 369.25,985.36 369.50,985.00 369.75,984.78 370.00,984.70 370.25,984.77 370.50,984.98 370.75,985.33 371.00,985.81 371.25,986.39 371.50,987.05 371.75,987.78 372.00,988.54 372.25,989.32 372.50,990.10 372.75,990.86 373.00,991.57 373.25,992.24 373.50,992.85 373.75,993.40 374.00,993.88 374.25,994.29 374.50,994.64 374.75,994.93 375.00,995.17 375.25,995.37 375.50,995.52 375.75,995.64 376.00,995.66 376.25,995.65 376.50,995.64 376.75,995.63 377.00,995.62 377.25,995.61 377.50,995.60 377.75,995.58 378.00,995.53 378.25,995.47 378.50,995.39 378.75,995.30 379.00,995.21 379.25,995.12 379.50,995.03 379.75,994.95 380.00,994.88 380.25,994.67 380.50,994.29 380.75,993.83 381.00,993.29 381.25,992.65 381.50,991.89 381.75,991.01 382.00,989.98 382.25,988.82 382.50,987.50 382.75,986.04 383.00,984.42 383.25,982.66 383.50,980.78 383.75,978.78 384.00,976.69 384.25,974.55 384.50,972.38 384.75,970.23 385.00,968.15 385.25,966.16 385.50,964.33 385.75,962.68 386.00,961.27 386.25,960.13 386.50,959.30 386.75,958.78 387.00,958.60 387.25,958.76 387.50,959.26 387.75,960.08 388.00,961.20 388.25,962.59 388.50,964.21 388.75,966.03 389.00,967.99 389.25,970.06 389.50,972.19 389.75,974.34 390.00,976.46 390.25,978.53 390.50,980.51 390.75,982.38 391.00,984.12 391.25,985.71 391.50,987.16 391.75,988.46 392.00,989.60 392.25,990.60 392.50,991.47 392.75,992.21 393.00,992.83 393.25,993.35 393.50,993.79 393.75,994.14 394.00,994.34 394.25,994.40 394.50,994.48 394.75,994.58 395.00,994.68 395.25,994.78 395.50,994.88 395.75,994.97 396.00,995.04 396.25,995.08 396.50,995.10 396.75,995.09 397.00,995.04 397.25,994.98 397.50,994.88 397.75,994.77 398.00,994.64 398.25,994.49 398.50,994.33 398.75,994.15 399.00,993.96 399.25,993.76 399.50,993.56 399.75,993.35 400.00,993.14 400.25,992.92 400.50,992.71 400.75,992.50 401.00,992.30 401.25,992.10 401.50,991.91 401.75,991.74 402.00,991.58 402.25,991.43 402.50,991.30 402.75,991.20 403.00,991.11 403.25,991.05 403.50,991.01 403.75,991.00 404.00,991.03 404.25,991.11 404.50,991.23 404.75,991.38 405.00,991.55 405.25,991.75 405.50,991.98 405.75,992.21 406.00,992.45 406.25,992.70 406.50,992.95 406.75,993.19 407.00,993.41 407.25,993.63 407.50,993.82 407.75,993.99 408.00,994.12 408.25,994.22 408.50,994.28 408.75,994.30 409.00,994.26 409.25,994.18 409.50,994.05 409.75,993.88 410.00,993.68 410.25,993.46 410.50,993.22 410.75,992.96 411.00,992.70 411.25,992.44 411.50,992.18 411.75,991.93 412.00,991.70 412.25,991.50 412.50,991.32 412.75,991.17 413.00,991.07 413.25,991.01 413.50,991.00 413.75,991.05 414.00,991.14 414.25,991.27 414.50,991.44 414.75,991.64 415.00,991.87 415.25,992.11 415.50,992.38 415.75,992.65 416.00,992.94 416.25,993.22 416.50,993.50 416.75,993.78 417.00,994.04 417.25,994.28 417.50,994.50 417.75,994.70 418.00,994.86 418.25,994.98 418.50,995.06 418.75,995.10 419.00,995.08 419.25,995.01 419.50,994.90 419.75,994.74 420.00,994.54 420.25,994.30 420.50,994.03 420.75,993.73 421.00,993.40 421.25,993.06 421.50,992.70 421.75,992.32 422.00,991.93 422.25,991.54 422.50,991.14 422.75,990.75 423.00,990.36 423.25,989.98 423.50,989.61 423.75,989.26 424.00,988.93 424.25,988.63 424.50,988.35 424.75,988.11 425.00,987.90 425.25,987.73 425.50,987.60 425.75,987.53 426.00,987.50 426.25,987.52 426.50,987.60 426.75,987.71 427.00,987.86 427.25,988.05 427.50,988.28 427.75,988.53 428.00,988.81 428.25,989.11 428.50,989.44 428.75,989.78 429.00,990.13 429.25,990.49 429.50,990.86 429.75,991.23 430.00,991.60 430.25,991.97 430.50,992.33 430.75,992.68 431.00,993.02 431.25,993.34 431.50,993.64 431.75,993.92 432.00,994.16 432.25,994.38 432.50,994.57 432.75,994.71 433.00,994.82 433.25,994.88 433.50,994.90 433.75,994.92 434.00,994.93 434.25,994.94 434.50,994.95 434.75,994.96 435.00,994.97 435.25,994.98 435.50,994.99 435.75,995.00 436.00,995.01 436.25,995.02 436.50,995.03 436.75,995.03 437.00,995.04 437.25,995.05 437.50,995.06 437.75,995.07 438.00,995.08 438.25,995.08 438.50,995.09 438.75,995.10 439.00,995.11 439.25,995.11 439.50,995.12 439.75,995.13 440.00,995.14 440.25,995.14 440.50,995.15 440.75,995.15 441.00,995.16 441.25,995.17 441.50,995.17 441.75,995.18 442.00,995.18 442.25,995.19 442.50,995.19 442.75,995.20 443.00,995.20 443.25,995.21 443.50,995.21 443.75,995.22 444.00,995.22 444.25,995.23 444.50,995.23 444.75,995.23 445.00,995.24 445.25,995.24 445.50,995.25 445.75,995.25 446.00,995.25 446.25,995.26 446.50,995.26 446.75,995.26 447.00,995.26 447.25,995.27 447.50,995.27 447.75,995.27 448.00,995.27 448.25,995.28 448.50,995.28 448.75,995.28 449.00,995.28 449.25,995.28 449.50,995.29 449.75,995.29 450.00,995.29 450.25,995.29 450.50,995.29 450.75,995.29 451.00,995.29 451.25,995.30 451.50,995.30 451.75,995.30 452.00,995.30 452.25,995.30 452.50,995.30 452.75,995.30 453.00,995.30 453.25,995.30 453.50,995.30 453.75,995.30 454.00,995.30 454.25,995.28 454.50,995.25 454.75,995.20 455.00,995.15 455.25,995.08 455.50,995.01 455.75,994.93 456.00,994.83 456.25,994.74 456.50,994.64 456.75,994.53 457.00,994.42 457.25,994.31 457.50,994.19 457.75,994.08 458.00,993.96 458.25,993.85 458.50,993.74 458.75,993.63 459.00,993.52 459.25,993.42 459.50,993.33 459.75,993.24 460.00,993.16 460.25,993.09 460.50,993.03 460.75,992.98 461.00,992.94 461.25,992.91 461.50,992.90 461.75,992.90 462.00,992.92 462.25,992.95 462.50,992.99 462.75,993.04 463.00,993.11 463.25,993.18 463.50,993.27 463.75,993.36 464.00,993.45 464.25,993.56 464.50,993.66 464.75,993.78 465.00,993.89 465.25,994.01 465.50,994.12 465.75,994.24 466.00,994.36 466.25,994.47 466.50,994.58 466.75,994.68 467.00,994.79 467.25,994.88 467.50,994.97 467.75,995.05 468.00,995.12 468.25,995.18 468.50,995.23 468.75,995.27 469.00,995.29 469.25,995.30 469.50,995.29 469.75,995.23 470.00,995.14 470.25,995.02 470.50,994.86 470.75,994.67 471.00,994.46 471.25,994.23 471.50,993.99 471.75,993.72 472.00,993.45 472.25,993.16 472.50,992.88 472.75,992.59 473.00,992.30 473.25,992.02 473.50,991.74 473.75,991.48 474.00,991.23 474.25,991.00 474.50,990.79 474.75,990.61 475.00,990.45 475.25,990.32 475.50,990.20 475.75,990.09 476.00,989.99 476.25,989.41 476.50,987.88 476.75,986.08 477.00,983.96 477.25,981.50 477.50,978.64 477.75,975.34 478.00,971.57 478.25,967.29 478.50,962.47 478.75,957.10 479.00,951.17 479.25,944.66 479.50,937.60 479.75,930.01 480.00,921.93 480.25,913.41 480.50,904.53 480.75,895.38 481.00,886.06 481.25,876.69 481.50,867.41 481.75,858.34 482.00,849.63 482.25,841.44 482.50,833.91 482.75,827.16 483.00,821.34 483.25,816.55 483.50,812.89 483.75,810.43 484.00,809.23 484.25,809.29 484.50,810.64 484.75,813.22 485.00,816.99 485.25,821.88 485.50,827.78 485.75,834.57 486.00,842.14 486.25,850.33 486.50,859.00 486.75,868.01 487.00,877.21 487.25,886.47 487.50,895.65 487.75,904.65 488.00,913.35 488.25,921.68 488.50,929.57 488.75,936.95 489.00,943.80 489.25,950.09 489.50,955.82 489.75,960.98 490.00,965.59 490.25,969.67 490.50,973.26 490.75,976.38 491.00,979.07 491.25,981.38 491.50,983.34 491.75,985.00 492.00,986.38 492.25,986.62 492.50,986.68 492.75,986.78 493.00,986.90 493.25,987.06 493.50,987.23 493.75,987.41 494.00,987.61 494.25,987.81 494.50,988.02 494.75,988.24 495.00,988.55 495.25,988.94 495.50,989.37 495.75,989.82 496.00,990.26 496.25,990.67 496.50,991.01 496.75,991.26 497.00,991.39 497.25,991.39 497.50,991.34 497.75,991.25 498.00,991.12 498.25,990.97 498.50,990.80 498.75,990.61 499.00,990.43 499.25,990.24 499.50,990.07 499.75,989.91 500.00,989.78 500.25,989.68 500.50,989.62 500.75,989.60 501.00,989.60 501.25,989.61 501.50,989.62 501.75,989.16 502.00,988.56 502.25,987.83 502.50,986.95 502.75,985.90 503.00,984.65 503.25,983.20 503.50,981.53 503.75,979.62 504.00,977.47 504.25,975.07 504.50,972.44 504.75,969.59 505.00,966.54 505.25,963.33 505.50,960.00 505.75,956.59 506.00,953.18 506.25,949.82 506.50,946.58 506.75,943.55 507.00,940.78 507.25,938.35 507.50,936.33 507.75,934.76 508.00,933.69 508.25,933.16 508.50,933.17 508.75,933.73 509.00,934.83 509.25,936.43 509.50,938.50 509.75,940.98 510.00,943.82 510.25,946.93 510.50,950.26 510.75,953.72 511.00,957.25 511.25,960.77 511.50,964.24 511.75,967.59 512.00,970.78 512.25,973.77 512.50,976.55 512.75,979.08 513.00,981.37 513.25,983.41 513.50,985.21 513.75,986.77 514.00,988.12 514.25,989.26 514.50,990.23 514.75,991.03 515.00,991.69 515.25,992.22 515.50,992.30 515.75,992.30 516.00,992.30 516.25,992.30 516.50,992.30 516.75,992.30 517.00,992.30 517.25,992.30 517.50,992.30 517.75,992.30 518.00,992.30 518.25,992.30 518.50,992.30 518.75,992.31 519.00,992.34 519.25,992.39 519.50,992.46 519.75,992.55 520.00,992.65 520.25,992.76 520.50,992.88 520.75,993.01 521.00,993.15 521.25,993.30 521.50,993.45 521.75,993.61 522.00,993.77 522.25,993.93 522.50,994.08 522.75,994.24 523.00,994.39 523.25,994.53 523.50,994.67 523.75,994.80 524.00,994.91 524.25,995.02 524.50,995.11 524.75,995.18 525.00,995.24 525.25,995.28 525.50,995.30 525.75,995.30 526.00,995.29 526.25,995.28 526.50,995.26 526.75,995.23 527.00,995.20 527.25,995.16 527.50,995.11 527.75,995.06 528.00,995.01 528.25,994.95 528.50,994.89 528.75,994.82 529.00,994.75 529.25,994.68 529.50,994.61 529.75,994.53 530.00,994.45 530.25,994.36 530.50,994.28 530.75,994.19 531.00,994.10 531.25,994.02 531.50,993.93 531.75,993.84 532.00,993.75 532.25,993.66 532.50,993.57 532.75,993.48 533.00,993.39 533.25,993.30 533.50,993.22 533.75,993.14 534.00,993.06 534.25,992.98 534.50,992.90 534.75,992.83 535.00,992.76 535.25,992.70 535.50,992.64 535.75,992.58 536.00,992.53 536.25,992.48 536.50,992.43 536.75,992.40 537.00,992.37 537.25,992.34 537.50,992.32 537.75,992.31 538.00,992.30 538.25,992.30 538.50,992.31 538.75,992.32 539.00,992.34 539.25,992.36 539.50,992.38 539.75,992.41 540.00,992.44 540.25,992.48 540.50,992.52 540.75,992.56 541.00,992.60 541.25,992.64 541.50,992.68 541.75,992.73 542.00,992.77 542.25,992.81 542.50,992.85 542.75,992.89 543.00,992.93 543.25,992.96 543.50,992.99 543.75,993.02 544.00,993.05 544.25,992.84 544.50,992.56 544.75,992.19 545.00,991.72 545.25,991.13 545.50,990.42 545.75,989.58 546.00,988.60 546.25,987.48 546.50,986.23 546.75,984.87 547.00,983.43 547.25,981.93 547.50,980.42 547.75,978.96 548.00,977.59 548.25,976.36 548.50,975.33 548.75,974.54 549.00,974.02 549.25,973.81 549.50,973.90 549.75,974.30 550.00,974.99 550.25,975.93 550.50,977.09 550.75,978.42 551.00,979.86 551.25,981.36 551.50,982.86 551.75,984.34 552.00,985.74 552.25,987.04 552.50,988.21 552.75,989.26 553.00,990.16 553.25,990.93 553.50,991.56 553.75,992.09 554.00,992.51 554.25,992.74 554.50,992.27 554.75,991.46 555.00,990.38 555.25,989.07 555.50,987.52 555.75,985.69 556.00,983.57 556.25,981.13 556.50,978.36 556.75,975.24 557.00,971.79 557.25,968.01 557.50,963.93 557.75,959.57 558.00,955.00 558.25,950.28 558.50,945.46 558.75,940.65 559.00,935.93 559.25,931.41 559.50,927.18 559.75,923.34 560.00,919.98 560.25,917.21 560.50,915.07 560.75,913.65 561.00,912.96 561.25,913.04 561.50,913.87 561.75,915.45 562.00,917.72 562.25,920.62 562.50,924.07 562.75,928.00 563.00,932.30 563.25,936.87 563.50,941.62 563.75,946.44 564.00,951.24 564.25,955.95 564.50,960.48 564.75,964.78 565.00,968.81 565.25,972.53 565.50,975.91 565.75,978.96 566.00,981.67 566.25,984.04 566.50,986.11 566.75,987.88 567.00,989.38 567.25,990.64 567.50,991.68 567.75,992.54 568.00,993.20 568.25,993.19 568.50,993.16 568.75,993.11 569.00,993.04 569.25,992.97 569.50,992.90 569.75,992.83 570.00,992.76 570.25,992.69 570.50,992.64 570.75,992.61 571.00,992.60 571.25,992.62 571.50,992.68 571.75,992.78 572.00,992.91 572.25,993.06 572.50,993.23 572.75,993.42 573.00,993.61 573.25,993.82 573.50,994.02 573.75,994.22 574.00,994.42 574.25,994.59 574.50,994.75 574.75,994.89 575.00,995.00 575.25,995.07 575.50,995.11 575.75,995.14 576.00,995.18 576.25,995.20 576.50,995.23 576.75,995.26 577.00,995.29 577.25,995.31 577.50,995.33 577.75,995.36 578.00,995.38 578.25,995.40 578.50,995.42 578.75,995.44 579.00,995.46 579.25,995.47 579.50,995.49 579.75,995.51 580.00,995.52 580.25,995.54 580.50,995.55 580.75,995.56 581.00,995.58 581.25,995.59 581.50,995.60 581.75,995.61 582.00,995.63 582.25,995.64 582.50,995.65 582.75,995.66 583.00,995.67 583.25,995.68 583.50,995.69 583.75,995.70 584.00,995.71 584.25,995.72 584.50,995.73 584.75,995.74 585.00,995.75 585.25,995.76 585.50,995.77 585.75,995.78 586.00,995.80 586.25,995.81 586.50,995.82 586.75,995.83 587.00,995.84 587.25,995.85 587.50,995.86 587.75,995.87 588.00,995.89 588.25,995.90 588.50,995.91 588.75,995.92 589.00,995.93 589.25,995.94 589.50,995.95 589.75,995.96 590.00,995.97 590.25,995.98 590.50,995.99 590.75,996.00 591.00,996.01 591.25,996.02 591.50,996.03 591.75,996.04 592.00,996.05 592.25,996.05 592.50,996.06 592.75,996.07 593.00,996.08 593.25,996.09 593.50,996.10 593.75,996.11 594.00,996.11 594.25,996.12 594.50,996.13 594.75,996.14 595.00,996.14 595.25,996.15 595.50,996.16 595.75,996.16 596.00,996.17 596.25,996.17 596.50,996.18 596.75,996.19 597.00,996.19 597.25,996.20 597.50,996.20 597.65,996.20" fill="none" stroke="#111" stroke-width="1.4" stroke-linejoin="round"/><rect x="0.8" y="0.8" width="328.95" height="465.70" fill="none" stroke="#111" stroke-width="1.5"/><path d="M0.8 233.7H329.75" stroke="#111" stroke-width="1.5"/><rect x="351.5" y="0.8" width="265.60" height="465.70" fill="none" stroke="#111" stroke-width="1.5"/><path d="M351.5 233.7H617.1" stroke="#111" stroke-width="1.5"/><rect x="28.25" y="532.1" width="569.40" height="465.90" fill="none" stroke="#111" stroke-width="1.5"/><path d="M28.25 765.1H597.65" stroke="#111" stroke-width="1.5"/><path d="M329.40 233.70v4.4 M323.08 233.70v2.3 M316.76 233.70v2.3 M310.44 233.70v2.3 M304.12 233.70v2.3 M297.80 233.70v4.4 M291.48 233.70v2.3 M285.16 233.70v2.3 M278.84 233.70v2.3 M272.52 233.70v2.3 M266.20 233.70v4.4 M259.88 233.70v2.3 M253.56 233.70v2.3 M247.24 233.70v2.3 M240.92 233.70v2.3 M234.60 233.70v4.4 M228.28 233.70v2.3 M221.96 233.70v2.3 M215.64 233.70v2.3 M209.32 233.70v2.3 M203.00 233.70v4.4 M196.68 233.70v2.3 M190.36 233.70v2.3 M184.04 233.70v2.3 M177.72 233.70v2.3 M171.40 233.70v4.4 M165.08 233.70v2.3 M158.76 233.70v2.3 M152.44 233.70v2.3 M146.12 233.70v2.3 M139.80 233.70v4.4 M133.48 233.70v2.3 M127.16 233.70v2.3 M120.84 233.70v2.3 M114.52 233.70v2.3 M108.20 233.70v4.4 M101.88 233.70v2.3 M95.56 233.70v2.3 M89.24 233.70v2.3 M82.92 233.70v2.3 M76.60 233.70v4.4 M70.28 233.70v2.3 M63.96 233.70v2.3 M57.64 233.70v2.3 M51.32 233.70v2.3 M45.00 233.70v4.4 M38.68 233.70v2.3 M32.36 233.70v2.3 M26.04 233.70v2.3 M19.72 233.70v2.3 M13.40 233.70v4.4 M7.08 233.70v2.3 M0.76 233.70v2.3" stroke="#111" stroke-width="1.1" fill="none"/><path d="M329.40 466.50v4.4 M323.08 466.50v2.3 M316.76 466.50v2.3 M310.44 466.50v2.3 M304.12 466.50v2.3 M297.80 466.50v4.4 M291.48 466.50v2.3 M285.16 466.50v2.3 M278.84 466.50v2.3 M272.52 466.50v2.3 M266.20 466.50v4.4 M259.88 466.50v2.3 M253.56 466.50v2.3 M247.24 466.50v2.3 M240.92 466.50v2.3 M234.60 466.50v4.4 M228.28 466.50v2.3 M221.96 466.50v2.3 M215.64 466.50v2.3 M209.32 466.50v2.3 M203.00 466.50v4.4 M196.68 466.50v2.3 M190.36 466.50v2.3 M184.04 466.50v2.3 M177.72 466.50v2.3 M171.40 466.50v4.4 M165.08 466.50v2.3 M158.76 466.50v2.3 M152.44 466.50v2.3 M146.12 466.50v2.3 M139.80 466.50v4.4 M133.48 466.50v2.3 M127.16 466.50v2.3 M120.84 466.50v2.3 M114.52 466.50v2.3 M108.20 466.50v4.4 M101.88 466.50v2.3 M95.56 466.50v2.3 M89.24 466.50v2.3 M82.92 466.50v2.3 M76.60 466.50v4.4 M70.28 466.50v2.3 M63.96 466.50v2.3 M57.64 466.50v2.3 M51.32 466.50v2.3 M45.00 466.50v4.4 M38.68 466.50v2.3 M32.36 466.50v2.3 M26.04 466.50v2.3 M19.72 466.50v2.3 M13.40 466.50v4.4 M7.08 466.50v2.3 M0.76 466.50v2.3" stroke="#111" stroke-width="1.1" fill="none"/><path d="M616.70 233.70v4.4 M610.38 233.70v2.3 M604.06 233.70v2.3 M597.74 233.70v2.3 M591.42 233.70v2.3 M585.10 233.70v4.4 M578.78 233.70v2.3 M572.46 233.70v2.3 M566.14 233.70v2.3 M559.82 233.70v2.3 M553.50 233.70v4.4 M547.18 233.70v2.3 M540.86 233.70v2.3 M534.54 233.70v2.3 M528.22 233.70v2.3 M521.90 233.70v4.4 M515.58 233.70v2.3 M509.26 233.70v2.3 M502.94 233.70v2.3 M496.62 233.70v2.3 M490.30 233.70v4.4 M483.98 233.70v2.3 M477.66 233.70v2.3 M471.34 233.70v2.3 M465.02 233.70v2.3 M458.70 233.70v4.4 M452.38 233.70v2.3 M446.06 233.70v2.3 M439.74 233.70v2.3 M433.42 233.70v2.3 M427.10 233.70v4.4 M420.78 233.70v2.3 M414.46 233.70v2.3 M408.14 233.70v2.3 M401.82 233.70v2.3 M395.50 233.70v4.4 M389.18 233.70v2.3 M382.86 233.70v2.3 M376.54 233.70v2.3 M370.22 233.70v2.3 M363.90 233.70v4.4 M357.58 233.70v2.3 M351.26 233.70v2.3" stroke="#111" stroke-width="1.1" fill="none"/><path d="M616.70 466.50v4.4 M610.38 466.50v2.3 M604.06 466.50v2.3 M597.74 466.50v2.3 M591.42 466.50v2.3 M585.10 466.50v4.4 M578.78 466.50v2.3 M572.46 466.50v2.3 M566.14 466.50v2.3 M559.82 466.50v2.3 M553.50 466.50v4.4 M547.18 466.50v2.3 M540.86 466.50v2.3 M534.54 466.50v2.3 M528.22 466.50v2.3 M521.90 466.50v4.4 M515.58 466.50v2.3 M509.26 466.50v2.3 M502.94 466.50v2.3 M496.62 466.50v2.3 M490.30 466.50v4.4 M483.98 466.50v2.3 M477.66 466.50v2.3 M471.34 466.50v2.3 M465.02 466.50v2.3 M458.70 466.50v4.4 M452.38 466.50v2.3 M446.06 466.50v2.3 M439.74 466.50v2.3 M433.42 466.50v2.3 M427.10 466.50v4.4 M420.78 466.50v2.3 M414.46 466.50v2.3 M408.14 466.50v2.3 M401.82 466.50v2.3 M395.50 466.50v4.4 M389.18 466.50v2.3 M382.86 466.50v2.3 M376.54 466.50v2.3 M370.22 466.50v2.3 M363.90 466.50v4.4 M357.58 466.50v2.3 M351.26 466.50v2.3" stroke="#111" stroke-width="1.1" fill="none"/><path d="M597.50 765.10v4.4 M591.17 765.10v2.3 M584.85 765.10v2.3 M578.52 765.10v2.3 M572.20 765.10v2.3 M565.87 765.10v4.4 M559.54 765.10v2.3 M553.22 765.10v2.3 M546.89 765.10v2.3 M540.57 765.10v2.3 M534.24 765.10v4.4 M527.91 765.10v2.3 M521.59 765.10v2.3 M515.26 765.10v2.3 M508.94 765.10v2.3 M502.61 765.10v4.4 M496.28 765.10v2.3 M489.96 765.10v2.3 M483.63 765.10v2.3 M477.31 765.10v2.3 M470.98 765.10v4.4 M464.65 765.10v2.3 M458.33 765.10v2.3 M452.00 765.10v2.3 M445.68 765.10v2.3 M439.35 765.10v4.4 M433.02 765.10v2.3 M426.70 765.10v2.3 M420.37 765.10v2.3 M414.05 765.10v2.3 M407.72 765.10v4.4 M401.39 765.10v2.3 M395.07 765.10v2.3 M388.74 765.10v2.3 M382.42 765.10v2.3 M376.09 765.10v4.4 M369.76 765.10v2.3 M363.44 765.10v2.3 M357.11 765.10v2.3 M350.79 765.10v2.3 M344.46 765.10v4.4 M338.13 765.10v2.3 M331.81 765.10v2.3 M325.48 765.10v2.3 M319.16 765.10v2.3 M312.83 765.10v4.4 M306.50 765.10v2.3 M300.18 765.10v2.3 M293.85 765.10v2.3 M287.53 765.10v2.3 M281.20 765.10v4.4 M274.87 765.10v2.3 M268.55 765.10v2.3 M262.22 765.10v2.3 M255.90 765.10v2.3 M249.57 765.10v4.4 M243.24 765.10v2.3 M236.92 765.10v2.3 M230.59 765.10v2.3 M224.27 765.10v2.3 M217.94 765.10v4.4 M211.61 765.10v2.3 M205.29 765.10v2.3 M198.96 765.10v2.3 M192.64 765.10v2.3 M186.31 765.10v4.4 M179.98 765.10v2.3 M173.66 765.10v2.3 M167.33 765.10v2.3 M161.01 765.10v2.3 M154.68 765.10v4.4 M148.35 765.10v2.3 M142.03 765.10v2.3 M135.70 765.10v2.3 M129.38 765.10v2.3 M123.05 765.10v4.4 M116.72 765.10v2.3 M110.40 765.10v2.3 M104.07 765.10v2.3 M97.75 765.10v2.3 M91.42 765.10v4.4 M85.09 765.10v2.3 M78.77 765.10v2.3 M72.44 765.10v2.3 M66.12 765.10v2.3 M59.79 765.10v4.4 M53.46 765.10v2.3 M47.14 765.10v2.3 M40.81 765.10v2.3 M34.49 765.10v2.3 M28.16 765.10v4.4" stroke="#111" stroke-width="1.1" fill="none"/><path d="M597.50 998.00v4.4 M591.17 998.00v2.3 M584.85 998.00v2.3 M578.52 998.00v2.3 M572.20 998.00v2.3 M565.87 998.00v4.4 M559.54 998.00v2.3 M553.22 998.00v2.3 M546.89 998.00v2.3 M540.57 998.00v2.3 M534.24 998.00v4.4 M527.91 998.00v2.3 M521.59 998.00v2.3 M515.26 998.00v2.3 M508.94 998.00v2.3 M502.61 998.00v4.4 M496.28 998.00v2.3 M489.96 998.00v2.3 M483.63 998.00v2.3 M477.31 998.00v2.3 M470.98 998.00v4.4 M464.65 998.00v2.3 M458.33 998.00v2.3 M452.00 998.00v2.3 M445.68 998.00v2.3 M439.35 998.00v4.4 M433.02 998.00v2.3 M426.70 998.00v2.3 M420.37 998.00v2.3 M414.05 998.00v2.3 M407.72 998.00v4.4 M401.39 998.00v2.3 M395.07 998.00v2.3 M388.74 998.00v2.3 M382.42 998.00v2.3 M376.09 998.00v4.4 M369.76 998.00v2.3 M363.44 998.00v2.3 M357.11 998.00v2.3 M350.79 998.00v2.3 M344.46 998.00v4.4 M338.13 998.00v2.3 M331.81 998.00v2.3 M325.48 998.00v2.3 M319.16 998.00v2.3 M312.83 998.00v4.4 M306.50 998.00v2.3 M300.18 998.00v2.3 M293.85 998.00v2.3 M287.53 998.00v2.3 M281.20 998.00v4.4 M274.87 998.00v2.3 M268.55 998.00v2.3 M262.22 998.00v2.3 M255.90 998.00v2.3 M249.57 998.00v4.4 M243.24 998.00v2.3 M236.92 998.00v2.3 M230.59 998.00v2.3 M224.27 998.00v2.3 M217.94 998.00v4.4 M211.61 998.00v2.3 M205.29 998.00v2.3 M198.96 998.00v2.3 M192.64 998.00v2.3 M186.31 998.00v4.4 M179.98 998.00v2.3 M173.66 998.00v2.3 M167.33 998.00v2.3 M161.01 998.00v2.3 M154.68 998.00v4.4 M148.35 998.00v2.3 M142.03 998.00v2.3 M135.70 998.00v2.3 M129.38 998.00v2.3 M123.05 998.00v4.4 M116.72 998.00v2.3 M110.40 998.00v2.3 M104.07 998.00v2.3 M97.75 998.00v2.3 M91.42 998.00v4.4 M85.09 998.00v2.3 M78.77 998.00v2.3 M72.44 998.00v2.3 M66.12 998.00v2.3 M59.79 998.00v4.4 M53.46 998.00v2.3 M47.14 998.00v2.3 M40.81 998.00v2.3 M34.49 998.00v2.3 M28.16 998.00v4.4" stroke="#111" stroke-width="1.1" fill="none"/><g font-family="Liberation Sans, sans-serif" fill="#111" stroke="#111" stroke-width="0.25"><text x="313.3" y="27.8" font-size="30.5" stroke="none" text-anchor="middle">A</text><text x="313.6" y="270" font-size="30.5" stroke="none" text-anchor="middle">B</text><text x="602" y="28" font-size="30.5" stroke="none" text-anchor="middle">C</text><text x="601.7" y="270.8" font-size="30.5" stroke="none" text-anchor="middle">D</text><text x="579.0" y="556.6" font-size="30.5" stroke="none" text-anchor="middle">E</text><text x="573.4" y="794.8" font-size="20" stroke="none" text-anchor="middle">F</text><text x="18.80" y="490.00" font-size="17.5" text-anchor="middle">5.0</text><text x="83.00" y="490.00" font-size="17.5" text-anchor="middle">4.0</text><text x="144.60" y="490.00" font-size="17.5" text-anchor="middle">3.0</text><text x="207.30" y="490.00" font-size="17.5" text-anchor="middle">2.0</text><text x="272.60" y="490.00" font-size="17.5" text-anchor="middle">1.0</text><text x="366.40" y="490.00" font-size="17.5" text-anchor="middle">4.0</text><text x="427.90" y="490.00" font-size="17.5" text-anchor="middle">3.0</text><text x="490.80" y="490.00" font-size="17.5" text-anchor="middle">2.0</text><text x="555.80" y="490.00" font-size="17.5" text-anchor="middle">1.0</text><text x="92.00" y="1021.20" font-size="17.5" text-anchor="middle">8.0</text><text x="217.70" y="1021.20" font-size="17.5" text-anchor="middle">6.0</text><text x="346.00" y="1021.20" font-size="17.5" text-anchor="middle">4.0</text><text x="471.80" y="1021.20" font-size="17.5" text-anchor="middle">2.0</text><text x="598.00" y="1021.20" font-size="17.5" text-anchor="middle">0.0</text><text transform="translate(127.30,515.20) scale(0.96,1)" font-size="19.8"><tspan font-size="9.2" dy="-7.4">1</tspan><tspan dy="7.4" dx="0.4">H (ppm)</tspan></text><text transform="translate(449.20,515.20) scale(0.96,1)" font-size="19.8"><tspan font-size="9.2" dy="-7.4">1</tspan><tspan dy="7.4" dx="0.4">H (ppm)</tspan></text><text transform="translate(271.70,1045.10) scale(0.96,1)" font-size="19.8"><tspan font-size="9.2" dy="-7.4">1</tspan><tspan dy="7.4" dx="0.4">H (ppm)</tspan></text><text transform="translate(39.50,45.30) rotate(-90)" font-size="15.2">45H</text><text transform="translate(39.50,17.42) rotate(-90) scale(1.12,1)" font-size="15.2">α</text><text transform="translate(125.70,46.30) rotate(-90)" font-size="15.2">46H</text><text transform="translate(125.70,18.42) rotate(-90) scale(1.12,1)" font-size="15.2">α</text><text transform="translate(279.70,143.00) rotate(-90)" font-size="15.2">46H</text><text transform="translate(279.70,115.12) rotate(-90) scale(0.92,1)" font-size="15.2">β</text><text transform="translate(301.00,197.70) rotate(-90)" font-size="15.2">44H</text><text transform="translate(301.00,169.82) rotate(-90) scale(0.66,1)" font-size="15.2">γ</text><text transform="translate(301.00,164.80) rotate(-90)" font-size="15.2">2</text><text transform="translate(30.30,283.30) rotate(-90)" font-size="15.2">45H</text><text transform="translate(30.30,255.42) rotate(-90) scale(1.12,1)" font-size="15.2">α</text><text transform="translate(126.40,290.10) rotate(-90)" font-size="15.2">46H</text><text transform="translate(126.40,262.22) rotate(-90) scale(1.12,1)" font-size="15.2">α</text><text transform="translate(285.50,368.10) rotate(-90)" font-size="15.2">46H</text><text transform="translate(285.50,340.22) rotate(-90) scale(0.92,1)" font-size="15.2">β</text><text transform="translate(302.70,421.20) rotate(-90)" font-size="15.2">44H</text><text transform="translate(302.70,393.32) rotate(-90) scale(0.66,1)" font-size="15.2">γ</text><text transform="translate(302.70,388.30) rotate(-90)" font-size="15.2">2</text><text transform="translate(370.80,61.10) rotate(-90)" font-size="15.2">47H</text><text transform="translate(370.80,33.22) rotate(-90) scale(1.12,1)" font-size="15.2">α</text><text transform="translate(412.90,134.30) rotate(-90)" font-size="15.2">46H</text><text transform="translate(412.90,106.42) rotate(-90) scale(1.12,1)" font-size="15.2">α</text><text transform="translate(536.60,138.70) rotate(-90)" font-size="15.2">47H</text><text transform="translate(536.60,110.82) rotate(-90) scale(0.92,1)" font-size="15.2">β</text><text transform="translate(570.70,141.30) rotate(-90)" font-size="15.2">46H</text><text transform="translate(570.70,113.42) rotate(-90) scale(0.92,1)" font-size="15.2">β</text><text transform="translate(592.50,141.30) rotate(-90)" font-size="15.2">44H</text><text transform="translate(592.50,113.42) rotate(-90) scale(0.66,1)" font-size="15.2">γ</text><text transform="translate(592.50,108.40) rotate(-90)" font-size="15.2">2</text><text transform="translate(368.70,353.90) rotate(-90)" font-size="15.2">47H</text><text transform="translate(368.70,326.02) rotate(-90) scale(1.12,1)" font-size="15.2">α</text><text transform="translate(395.00,358.30) rotate(-90)" font-size="15.2">46H</text><text transform="translate(395.00,330.42) rotate(-90) scale(1.12,1)" font-size="15.2">α</text><text transform="translate(410.10,294.70) rotate(-90)" font-size="15.2">47H</text><text transform="translate(410.10,266.82) rotate(-90) scale(1.12,1)" font-size="15.2">α</text><text transform="translate(565.70,410.60) rotate(-90)" font-size="15.2">46H</text><text transform="translate(565.70,382.72) rotate(-90) scale(0.92,1)" font-size="15.2">β</text><text transform="translate(584.10,355.60) rotate(-90)" font-size="15.2">44H</text><text transform="translate(584.10,327.72) rotate(-90) scale(0.66,1)" font-size="15.2">γ</text><text transform="translate(584.10,322.70) rotate(-90)" font-size="15.2">2</text><text transform="translate(54.70,675.00) rotate(-90)" font-size="15.2">45HN</text><text transform="translate(317.10,674.00) rotate(-90)" font-size="15.2">48H</text><text transform="translate(317.10,646.12) rotate(-90) scale(1.12,1)" font-size="15.2">α</text><text transform="translate(371.80,699.30) rotate(-90)" font-size="15.2">47H</text><text transform="translate(371.80,671.42) rotate(-90) scale(1.12,1)" font-size="15.2">α</text><text transform="translate(464.00,596.10) rotate(-90)" font-size="15.2">48H</text><text transform="translate(464.00,568.22) rotate(-90) scale(0.92,1)" font-size="15.2">β</text><text transform="translate(511.40,687.70) rotate(-90)" font-size="15.2">48H</text><text transform="translate(511.40,659.82) rotate(-90) scale(0.66,1)" font-size="15.2">γ</text><text transform="translate(526.80,728.30) rotate(-90)" font-size="15.2">47H</text><text transform="translate(526.80,700.42) rotate(-90) scale(0.92,1)" font-size="15.2">β</text><text transform="translate(549.00,721.60) rotate(-90)" font-size="15.2">46H</text><text transform="translate(549.00,693.72) rotate(-90) scale(0.92,1)" font-size="15.2">β</text><text transform="translate(561.70,668.20) rotate(-90)" font-size="15.2">44H</text><text transform="translate(561.70,640.32) rotate(-90) scale(0.66,1)" font-size="15.2">γ</text><text transform="translate(561.70,635.30) rotate(-90)" font-size="15.2">2</text><text transform="translate(47.70,912.70) rotate(-90)" font-size="15.2">45HN</text><text transform="translate(319.40,904.00) rotate(-90)" font-size="15.2">48H</text><text transform="translate(319.40,876.12) rotate(-90) scale(1.12,1)" font-size="15.2">α</text><text transform="translate(349.40,946.10) rotate(-90)" font-size="15.2">47H</text><text transform="translate(349.40,918.22) rotate(-90) scale(1.12,1)" font-size="15.2">α</text><text transform="translate(389.80,942.80) rotate(-90)" font-size="15.2">47H</text><text transform="translate(389.80,914.92) rotate(-90) scale(1.12,1)" font-size="15.2">α</text><text transform="translate(467.00,813.30) rotate(-90)" font-size="15.2">48H</text><text transform="translate(467.00,785.42) rotate(-90) scale(0.92,1)" font-size="15.2">β</text><text transform="translate(512.90,912.00) rotate(-90)" font-size="15.2">48H</text><text transform="translate(512.90,884.12) rotate(-90) scale(0.66,1)" font-size="15.2">γ</text><text transform="translate(552.60,957.90) rotate(-90)" font-size="15.2">46H</text><text transform="translate(552.60,930.02) rotate(-90) scale(0.92,1)" font-size="15.2">β</text><text transform="translate(566.20,893.80) rotate(-90)" font-size="15.2">44H</text><text transform="translate(566.20,865.92) rotate(-90) scale(0.66,1)" font-size="15.2">γ</text><text transform="translate(566.20,860.90) rotate(-90)" font-size="15.2">2</text></g></svg></body></html>
